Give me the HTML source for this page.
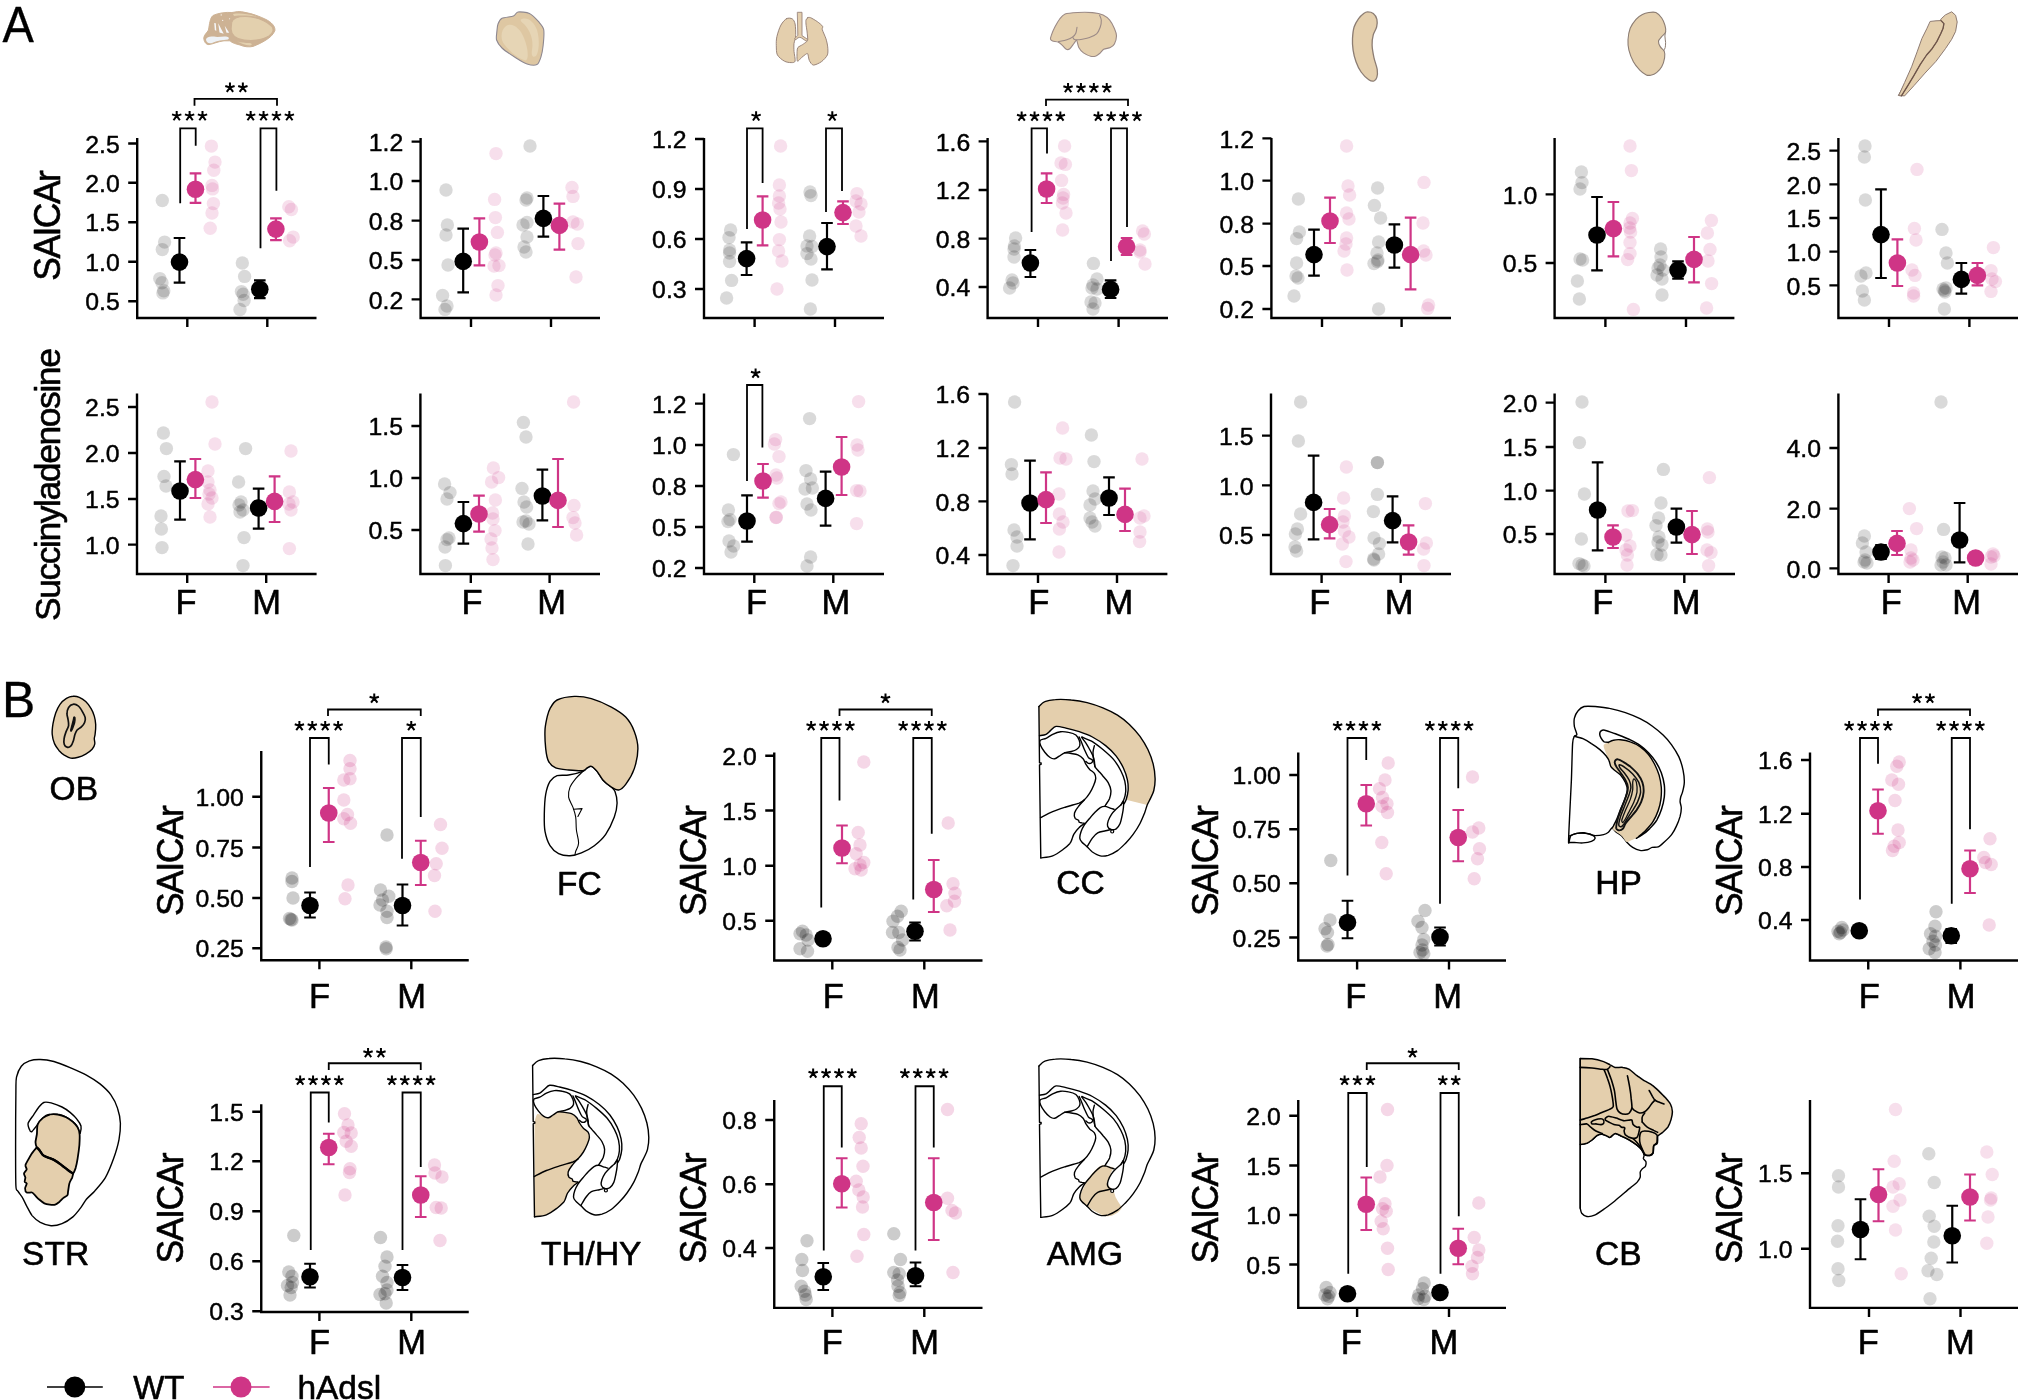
<!DOCTYPE html>
<html><head><meta charset="utf-8"><title>Figure</title>
<style>
html,body{margin:0;padding:0;background:#fff;}
body{width:2018px;height:1400px;overflow:hidden;}
text{stroke:#000;stroke-width:0.6px;stroke-linejoin:round;}text.t{stroke-width:0.45px;}svg{display:block;will-change:transform;font-family:"Liberation Sans",sans-serif;fill:#000;}
</style></head><body>
<svg width="2018" height="1400" viewBox="0 0 2018 1400">
<rect width="2018" height="1400" fill="#fff"/>
<path d="M231.5,12.5 C226,12 218,13 213,15.5 C210,18 209.5,24 208.5,30 C207,33 204,34.5 203.8,38 C203.8,41.5 206,44.8 209,44.6 C213,44 218,41.5 224,40.8 L230,40.8 C232,43 236,44 240,45 C244,47 250,47.2 253,46.4 C258,44.5 262,42.5 266,40 C270,37.5 273.5,34.5 274.9,30.5 C275.4,26 271,22 266,19.5 C260,16.5 252,13.6 246,12.6 C243,11.8 240,11.5 238,11.6 Z" fill="#CDB294" stroke="#CDB294" stroke-width="1" stroke-linejoin="round" stroke-linecap="round" />
<path d="M233,14 C240,12.8 248,13.8 258,17 C252,15.6 242,15 234,16 Z" fill="#E3D0AE" stroke="none" stroke-width="0" stroke-linejoin="round" stroke-linecap="round" />
<path d="M231.7,22.5 C232.5,18.5 238,16.3 246,16.5 C256,17 266,21 271.5,26 C274.3,29.5 273.3,33 269,36 C262,40 252,41 244,40 C236,39 231.3,35 231.1,29 Z" fill="#E3D0AE" stroke="#CDB294" stroke-width="1.1" stroke-linejoin="round" stroke-linecap="round" />
<path d="M237,41.6 C241,43.2 245,45.6 250,45.5 C252.4,45.2 252.3,43.3 249.5,43 C245,42.8 241,42.4 237,41.4 Z" fill="#E3D0AE" stroke="none" stroke-width="0" stroke-linejoin="round" stroke-linecap="round" />
<path d="M206,39.2 C207,36.8 210,36 214,36.6 C218,37.6 222,36.2 226,36.6 C229,37 229.6,38.6 228,39.6 C223,40 217,41 212,43 C209,44 206,42.6 206,39.2 Z" fill="#EEF2F6" stroke="none" stroke-width="0" stroke-linejoin="round" stroke-linecap="round" />
<path d="M214.2,23 L215.8,23.3 L216.3,31 L214.8,30 Z M218.2,23.3 L223.7,33.7 L219.5,32.5 Z M224.7,25.8 L229.2,32.7 L226.5,32.7 Z" fill="#F6F7F9" stroke="none" stroke-width="0" stroke-linejoin="round" stroke-linecap="round" />
<circle cx="221.2" cy="14.9" r="0.6" fill="#fff"/><circle cx="222.7" cy="20.3" r="0.6" fill="#fff"/><circle cx="229.6" cy="18.8" r="0.5" fill="#fff"/>
<path d="M518.0,12.0 C520.1,11.7 526.7,12.1 529.4,13.4 C532.1,14.7 536.7,19.5 538.6,21.7 C540.5,23.9 543.1,26.5 543.7,29.7 C544.3,32.9 543.5,42.0 543.1,45.7 C542.7,49.4 541.7,54.6 540.9,57.1 C540.1,59.6 538.7,63.7 536.9,64.6 C535.1,65.5 529.9,64.9 527.1,64.0 C524.3,63.1 519.0,59.8 515.7,57.7 C512.4,55.6 504.5,50.4 502.0,48.0 C499.5,45.6 497.3,42.2 496.6,40.0 C495.9,37.8 496.7,33.5 496.9,31.4 C497.1,29.3 497.3,25.7 498.0,24.0 C498.7,22.3 499.9,19.4 502.0,18.3 C504.1,17.2 511.3,16.8 513.4,16.0 C515.5,15.2 515.9,12.3 518.0,12.0Z" fill="#DEC7A2" stroke="#8E8890" stroke-width="1.1" stroke-linejoin="round" stroke-linecap="round" />
<path d="M506,26 C512,22 520,28 524,38 C528,48 529,58 526,60.4 C520,60 510,52 504,44 C500,38 501,30 506,26 Z" fill="#E6D5B5" stroke="none" stroke-width="0" stroke-linejoin="round" stroke-linecap="round" />
<path d="M522,19 C528,17 534,22 537,30 C540,40 539,52 536,56 C533,58 531,56 532,50 C534,40 530,30 524,24 C520,21 520,19.5 522,19 Z" fill="#E6D5B5" stroke="none" stroke-width="0" stroke-linejoin="round" stroke-linecap="round" />
<path d="M786.6,18.6 C788.3,17.7 791.0,18.1 792.3,18.9 C793.6,19.7 794.6,21.7 795.1,24.0 C795.6,26.3 795.7,32.0 795.7,34.3 C795.7,36.6 795.4,38.0 795.1,39.4 C794.8,40.8 794.2,41.6 794.0,43.4 C793.8,45.2 793.8,48.7 794.0,51.4 C794.2,54.1 795.5,59.4 795.1,61.1 C794.7,62.8 792.7,62.6 791.1,62.6 C789.5,62.6 786.4,62.3 784.3,61.1 C782.2,59.9 778.6,57.2 777.4,54.9 C776.2,52.6 776.4,48.4 776.3,45.7 C776.2,43.0 776.2,39.7 776.9,36.6 C777.6,33.5 779.4,27.8 780.9,25.1 C782.4,22.4 784.9,19.5 786.6,18.6Z" fill="#E4CFAD" stroke="#9A857A" stroke-width="1" stroke-linejoin="round" stroke-linecap="round" />
<path d="M807.7,17.7 C808.3,17.4 809.3,17.2 810.6,17.7 C811.9,18.2 815.8,20.6 817.4,21.7 C819.0,22.8 821.9,25.2 822.6,26.3 C823.3,27.4 821.8,28.0 822.3,29.7 C822.8,31.4 825.3,36.6 826.0,38.9 C826.7,41.2 827.5,44.8 827.7,46.9 C827.9,49.0 828.2,52.9 827.4,54.9 C826.6,56.9 823.3,60.3 821.4,61.7 C819.5,63.1 815.0,65.2 813.4,65.1 C811.8,65.0 810.2,62.1 809.4,60.6 C808.6,59.1 808.3,54.5 807.7,53.7 C807.1,52.9 805.7,54.4 804.9,54.9 C804.1,55.4 802.4,56.9 801.4,57.7 C800.4,58.5 798.0,61.9 797.4,61.1 C796.8,60.3 797.0,53.2 797.1,51.4 C797.2,49.6 797.3,48.3 798.0,47.4 C798.7,46.5 801.5,45.4 802.6,44.6 C803.7,43.8 805.9,42.4 806.6,41.7 C807.3,41.0 807.6,40.7 807.7,39.4 C807.8,38.1 807.3,34.1 807.1,32.0 C806.9,29.9 806.1,25.6 806.0,24.0 C805.9,22.4 805.8,20.8 806.0,20.0 C806.2,19.2 807.1,18.0 807.7,17.7Z" fill="#E4CFAD" stroke="#9A857A" stroke-width="1" stroke-linejoin="round" stroke-linecap="round" />
<path d="M797.7,12.3 L802,12.3 L802,35.6 L807.6,39.4 L806.6,41.4 L801,37.6 C799,37 797,38 795.6,40 L794.8,38.4 C796,37 797.5,36 797.7,35.5 Z" fill="#E4CFAD" stroke="#9A857A" stroke-width="0.9" stroke-linejoin="round" stroke-linecap="round" />
<path d="M1065.1,14.0 C1067.5,13.1 1074.0,12.7 1077.6,12.5 C1081.2,12.3 1089.0,12.3 1092.4,12.6 C1095.8,12.9 1100.8,13.9 1103.1,14.9 C1105.4,15.9 1108.2,18.4 1109.7,20.2 C1111.2,22.0 1113.5,26.4 1114.4,28.5 C1115.3,30.6 1116.5,33.6 1116.5,35.7 C1116.5,37.8 1115.2,42.4 1114.4,44.0 C1113.6,45.6 1111.7,46.9 1110.3,47.6 C1108.9,48.3 1105.1,48.5 1103.7,49.3 C1102.3,50.1 1100.6,52.6 1099.6,53.5 C1098.6,54.4 1097.2,55.5 1096.0,55.9 C1094.8,56.3 1092.3,56.6 1090.6,56.2 C1088.9,55.8 1085.1,54.0 1083.5,52.9 C1081.9,51.8 1079.7,49.3 1078.8,47.6 C1077.9,45.9 1077.3,41.0 1076.7,40.4 C1076.1,39.8 1074.9,42.3 1074.0,43.4 C1073.1,44.5 1070.8,48.0 1069.8,48.8 C1068.8,49.6 1067.3,49.8 1066.3,49.3 C1065.3,48.8 1063.1,46.1 1062.1,45.2 C1061.1,44.3 1059.8,42.8 1058.5,42.2 C1057.2,41.6 1053.7,41.4 1052.6,41.0 C1051.5,40.6 1050.7,40.0 1050.5,39.2 C1050.3,38.4 1050.8,36.8 1051.4,35.1 C1052.0,33.4 1053.9,28.9 1055.0,26.8 C1056.1,24.7 1058.4,20.7 1059.7,19.0 C1061.0,17.3 1062.7,14.9 1065.1,14.0Z" fill="#E4CFAD" stroke="#9B8A86" stroke-width="1.1" stroke-linejoin="round" stroke-linecap="round" />
<path d="M1099.6,15.2 C1099.9,16.0 1101.2,18.2 1101.3,20.2 C1101.4,22.2 1101.0,25.0 1100.2,27.3 C1099.4,29.6 1098.4,32.2 1096.6,33.9 C1094.8,35.6 1091.9,36.6 1089.5,37.5 C1087.1,38.4 1084.4,38.8 1082.3,39.2 C1080.2,39.6 1078.4,39.8 1077.0,39.8 C1075.6,39.8 1074.7,39.6 1074.0,39.2 C1073.3,38.8 1073.0,37.5 1072.8,37.2" fill="none" stroke="#9B8A86" stroke-width="1.1" stroke-linejoin="round" stroke-linecap="round" />
<path d="M1058.5,41.6 C1059.9,41.3 1064.5,40.6 1066.9,39.8 C1069.3,39.0 1071.3,38.0 1072.8,36.9 C1074.3,35.8 1075.1,34.9 1075.8,33.3 C1076.5,31.7 1076.8,28.3 1077.0,27.3" fill="none" stroke="#9B8A86" stroke-width="1.1" stroke-linejoin="round" stroke-linecap="round" />
<path d="M1367.6,11.9 C1369.0,11.9 1371.9,12.4 1373.3,13.5 C1374.7,14.6 1376.4,17.3 1376.9,19.3 C1377.4,21.3 1377.1,24.7 1376.6,27.0 C1376.1,29.3 1374.0,32.0 1373.3,34.7 C1372.6,37.4 1372.0,41.5 1372.1,45.0 C1372.2,48.5 1373.2,54.1 1374.0,57.8 C1374.8,61.5 1376.8,66.5 1377.2,69.4 C1377.6,72.3 1377.4,75.4 1376.9,77.1 C1376.4,78.8 1375.2,80.6 1374.0,81.0 C1372.8,81.4 1370.7,81.0 1368.8,79.7 C1366.9,78.4 1363.0,74.7 1361.1,72.0 C1359.2,69.3 1357.2,65.0 1356.0,61.7 C1354.8,58.4 1353.6,53.6 1353.1,50.1 C1352.6,46.6 1352.3,42.1 1352.5,38.6 C1352.7,35.1 1353.2,30.0 1354.1,27.0 C1355.0,24.0 1357.2,20.6 1358.6,18.6 C1360.0,16.6 1362.4,14.5 1363.7,13.5 C1365.0,12.5 1366.2,11.9 1367.6,11.9Z" fill="#E4CFAD" stroke="#8C7D73" stroke-width="1.3" stroke-linejoin="round" stroke-linecap="round" />
<path d="M1655.9,12.5 C1657.8,13.3 1660.4,16.1 1661.7,18.0 C1663.0,19.9 1664.3,23.0 1664.9,25.1 C1665.5,27.2 1666.1,30.4 1665.6,32.1 C1665.1,33.8 1662.8,35.2 1661.7,36.6 C1660.6,38.0 1658.7,39.6 1658.5,41.1 C1658.3,42.6 1659.5,45.4 1660.4,46.9 C1661.3,48.4 1663.7,49.8 1664.3,51.4 C1664.9,53.0 1665.0,55.5 1664.6,57.8 C1664.2,60.1 1662.9,64.6 1661.7,66.8 C1660.5,69.0 1658.2,71.3 1656.6,72.6 C1655.0,73.9 1652.3,74.9 1650.8,75.2 C1649.3,75.5 1648.0,75.7 1646.3,74.9 C1644.6,74.1 1641.7,72.1 1639.8,70.1 C1637.9,68.1 1635.0,64.7 1633.4,61.7 C1631.8,58.7 1629.7,53.4 1628.9,50.1 C1628.1,46.8 1627.8,43.1 1628.0,39.8 C1628.2,36.5 1629.0,31.4 1630.2,28.3 C1631.4,25.2 1634.2,21.4 1636.0,19.3 C1637.8,17.2 1640.5,15.5 1642.4,14.5 C1644.3,13.5 1646.8,12.8 1648.8,12.5 C1650.8,12.2 1654.0,11.7 1655.9,12.5Z" fill="#E4CFAD" stroke="#8C7D73" stroke-width="1.1" stroke-linejoin="round" stroke-linecap="round" />
<path d="M1665.6,32.1 C1665.5,32.8 1664.9,34.3 1664.9,36.0 C1664.9,37.7 1665.5,40.5 1665.6,42.4 C1665.6,44.3 1665.5,46.2 1665.2,47.6 C1664.9,49.0 1663.9,50.3 1663.6,50.8" fill="none" stroke="#8C7D73" stroke-width="1" stroke-linejoin="round" stroke-linecap="round" />
<path d="M1941.5,18.5 L1945.4,14.9 L1951.7,11.8 L1955.6,15.3 L1957.2,22.0 L1955.6,31.4 L1951.7,39.3 L1945.4,48.7 L1936.0,61.3 L1925.0,73.1 L1914.0,85.6 L1904.6,95.9 L1898.7,95.5Z" fill="#E4CFAD" stroke="#8E7B72" stroke-width="1" stroke-linejoin="round" stroke-linecap="round" />
<path d="M1930.5,21.4 L1936.0,20.8 L1941.1,20.6 L1943.9,23.6 L1943.1,28.3 L1940.7,33.8 L1936.8,41.6 L1932.1,48.7 L1926.6,55.0 L1920.3,64.4 L1914.0,75.4 L1906.9,87.2 L1901.4,95.9 L1898.7,95.5 L1904.6,82.5 L1911.6,66.8 L1917.1,51.9 L1921.9,38.5 L1926.6,29.1Z" fill="#E4CFAD" stroke="#8E7B72" stroke-width="1" stroke-linejoin="round" stroke-linecap="round" />
<path d="M1941.1,20.6 L1943.9,23.6 L1943.1,28.3 L1940.7,33.8 L1936.8,41.6 L1932.1,48.7 L1926.6,55.0 L1920.3,64.4 L1914.0,75.4 L1906.9,87.2 L1901.4,95.9" fill="none" stroke="#6E5448" stroke-width="1.3" stroke-linejoin="round" stroke-linecap="round" />
<path d="M52.2,734.3 C51.9,731.2 52.5,726.8 53.0,723.6 C53.6,720.4 54.7,715.8 55.7,712.9 C56.8,710.0 58.4,706.5 60.0,704.3 C61.6,702.1 64.5,699.6 66.4,698.4 C68.4,697.2 70.9,696.4 72.9,696.3 C74.8,696.1 77.4,696.5 79.3,697.3 C81.2,698.1 83.9,699.9 85.7,701.6 C87.5,703.3 89.8,706.4 91.1,708.6 C92.4,710.7 93.6,713.7 94.3,716.1 C95.0,718.5 95.6,721.9 95.7,724.6 C95.8,727.4 95.4,732.2 95.1,734.3 C94.9,736.4 94.3,737.1 94.3,738.6 C94.2,740.0 95.1,742.3 94.8,743.9 C94.5,745.5 93.5,747.8 92.1,749.3 C90.8,750.8 87.8,752.9 85.7,754.1 C83.6,755.3 80.5,756.7 78.2,757.3 C76.0,757.9 72.8,758.4 70.7,758.1 C68.6,757.8 66.1,756.3 64.3,755.2 C62.5,754.0 60.4,752.0 58.9,750.4 C57.5,748.7 55.7,746.3 54.6,743.9 C53.6,741.5 52.4,737.3 52.2,734.3Z" fill="#E4CFAD" stroke="#000" stroke-width="1.4" stroke-linejoin="round" stroke-linecap="round" />
<path d="M67.0,713.9 C67.0,712.2 67.7,708.9 68.6,707.5 C69.5,706.1 71.4,704.5 72.9,704.3 C74.3,704.0 76.8,704.8 78.2,705.9 C79.7,707.0 81.5,710.0 82.5,711.8 C83.5,713.6 84.9,716.1 85.2,717.7 C85.5,719.3 85.2,721.1 84.6,722.5 C84.1,723.9 82.6,725.7 81.4,726.8 C80.3,727.9 78.1,728.9 77.1,730.0 C76.2,731.1 75.6,732.7 75.0,734.3 C74.4,735.9 74.0,738.9 73.4,740.7 C72.8,742.5 71.7,745.1 70.7,746.1 C69.8,747.0 67.9,747.4 67.0,747.1 C66.0,746.9 64.7,745.8 64.3,744.5 C63.9,743.2 63.8,740.4 64.1,738.6 C64.3,736.7 65.2,734.1 65.9,732.1 C66.6,730.2 68.3,727.6 68.6,725.7 C68.9,723.8 68.3,721.1 68.0,719.3 C67.8,717.5 66.9,715.7 67.0,713.9Z" fill="none" stroke="#111" stroke-width="1.7" stroke-linejoin="round" stroke-linecap="round" />
<path d="M73.9,717.1 C74.1,716.9 74.9,717.0 75.0,717.7 C75.1,718.4 75.0,721.1 74.7,722.5 C74.4,723.9 73.3,726.7 72.9,727.9 C72.4,729.0 71.5,730.8 71.3,731.1 C71.0,731.4 70.6,731.0 70.7,730.0 C70.9,729.0 72.0,725.0 72.3,723.6 C72.7,722.1 73.2,720.1 73.4,719.3 C73.6,718.4 73.7,717.4 73.9,717.1Z" fill="#111" stroke="#111" stroke-width="1.3" stroke-linejoin="round" stroke-linecap="round" />
<path d="M582.9,771.4 C580.1,772.5 572.5,774.4 568.6,775.0 C564.7,775.6 559.9,774.7 557.1,775.7 C554.3,776.7 551.7,778.6 550.0,781.4 C548.3,784.2 546.6,789.4 545.7,794.3 C544.8,799.2 544.4,808.7 544.3,814.3 C544.2,819.9 544.1,826.7 545.0,831.4 C545.9,836.1 548.0,842.4 550.0,845.7 C552.0,849.0 555.6,852.1 558.6,853.6 C561.6,855.1 566.6,855.8 570.0,855.7 C573.4,855.6 577.8,854.4 581.4,852.9 C585.0,851.4 590.7,848.5 594.3,845.7 C597.9,842.9 602.7,838.6 605.7,834.3 C608.7,830.0 612.6,821.8 614.3,817.1 C616.0,812.4 617.0,806.8 617.1,802.9 C617.2,799.0 615.9,793.8 615.0,791.4 C614.1,789.0 613.2,788.8 611.4,787.1 C609.6,785.4 605.0,782.4 602.9,780.0 C600.8,777.6 598.8,773.4 597.1,771.4 C595.4,769.4 592.9,766.9 591.4,766.4 C589.9,765.9 588.4,767.1 587.1,767.9 C585.8,768.6 585.7,770.3 582.9,771.4Z" fill="#fff" stroke="#000" stroke-width="1.4" stroke-linejoin="round" stroke-linecap="round" />
<path d="M550.0,708.6 C551.5,706.0 553.5,701.8 557.1,700.0 C560.7,698.2 569.2,696.6 574.3,696.4 C579.4,696.2 585.8,697.0 591.4,698.6 C597.0,700.2 606.3,704.3 611.4,707.1 C616.5,709.9 622.3,713.5 625.7,717.1 C629.1,720.7 632.5,726.7 634.3,731.4 C636.1,736.1 637.9,743.0 637.9,748.6 C637.9,754.2 636.1,763.2 634.3,768.6 C632.5,774.0 628.1,781.1 625.7,784.3 C623.3,787.5 620.7,789.6 618.6,790.0 C616.5,790.4 613.8,788.6 611.4,787.1 C609.0,785.6 605.0,782.4 602.9,780.0 C600.8,777.6 598.8,773.4 597.1,771.4 C595.4,769.4 592.9,766.9 591.4,766.4 C589.9,765.9 588.4,767.3 587.1,767.9 C585.8,768.5 585.7,770.4 582.9,770.7 C580.1,771.0 572.7,770.4 568.6,770.0 C564.5,769.6 558.7,769.2 555.7,767.9 C552.7,766.6 550.1,764.3 548.6,761.4 C547.1,758.5 546.2,753.3 545.7,748.6 C545.2,743.9 544.8,734.7 545.0,730.0 C545.2,725.3 546.4,720.3 547.1,717.1 C547.9,713.9 548.5,711.2 550.0,708.6Z" fill="#E4CFAD" stroke="#000" stroke-width="1.4" stroke-linejoin="round" stroke-linecap="round" />
<path d="M582.9,771.4 C581.7,772.6 577.9,776.0 575.7,778.6 C573.6,781.2 571.2,784.0 570.0,787.1 C568.8,790.2 568.1,793.8 568.6,797.1 C569.1,800.4 571.7,803.8 572.9,807.1 C574.1,810.4 575.1,813.3 575.7,817.1 C576.3,820.9 575.9,825.7 576.4,830.0 C576.9,834.3 578.7,839.3 578.6,842.9 C578.5,846.5 576.3,849.4 575.7,851.4 C575.1,853.4 575.1,854.4 575.0,855.0" fill="none" stroke="#000" stroke-width="1.1" stroke-linejoin="round" stroke-linecap="round" />
<path d="M573.6,809.3 L582.1,808.6 L577.9,816.4" fill="none" stroke="#000" stroke-width="1.1" stroke-linejoin="round" stroke-linecap="round" />
<path d="M1038.9,706.6 L1044.8,701.7 L1055.4,699.6 L1071.2,700.0 L1087.1,702.6 L1102.9,707.9 L1117.5,715.2 L1129.4,724.4 L1140.0,736.3 L1147.9,749.5 L1153.2,764.1 L1155.1,778.6 L1153.8,790.5 L1150.5,798.4 L1147.2,805.0 L1144.6,813.0 L1140.0,823.5 L1133.3,834.1 L1125.4,843.4 L1117.5,850.6 L1108.2,855.3 L1100.3,855.9 L1092.4,852.0 L1087.1,846.7 L1084.4,823.5 L1079.2,827.5 L1073.9,834.1 L1071.9,839.4 L1069.9,843.4 L1063.3,849.3 L1052.7,855.9 L1040.8,857.9 L1040.8,857.9 L1040.2,818.3 L1039.5,764.9 L1041.1,764.3 L1041.1,763.0 L1039.5,762.7Z" fill="#fff" stroke="none" stroke-width="0" stroke-linejoin="round" stroke-linecap="round" />
<path d="M1038.9,706.6 C1039.7,705.9 1042.3,702.7 1044.8,701.7 C1047.3,700.6 1051.4,699.8 1055.4,699.6 C1059.3,699.3 1066.5,699.5 1071.2,700.0 C1076.0,700.4 1082.3,701.4 1087.1,702.6 C1091.8,703.8 1098.4,706.0 1102.9,707.9 C1107.5,709.8 1113.5,712.7 1117.5,715.2 C1121.4,717.7 1126.0,721.3 1129.4,724.4 C1132.7,727.6 1137.2,732.6 1140.0,736.3 C1142.7,740.1 1145.9,745.4 1147.9,749.5 C1149.9,753.7 1152.1,759.7 1153.2,764.1 C1154.3,768.4 1155.0,774.6 1155.1,778.6 C1155.2,782.6 1154.5,787.5 1153.8,790.5 C1153.1,793.5 1151.5,796.2 1150.5,798.4 C1149.5,800.6 1147.7,804.0 1147.2,805.0 L1126.1,799.8 C1126.4,798.4 1127.9,793.5 1128.1,790.5 C1128.3,787.5 1128.1,783.3 1127.4,779.9 C1126.7,776.6 1125.1,771.6 1123.4,768.0 C1121.7,764.5 1118.8,759.5 1116.2,756.1 C1113.5,752.8 1109.2,748.4 1105.6,745.6 C1102.0,742.7 1096.3,739.1 1092.4,737.0 C1088.4,734.9 1083.1,733.0 1079.2,731.7 C1075.2,730.4 1069.4,728.9 1065.9,728.1 C1062.5,727.3 1058.3,726.1 1056.0,726.4 C1053.8,726.7 1052.2,729.2 1050.7,730.4 C1049.3,731.6 1047.8,733.5 1046.1,734.3 C1044.4,735.1 1040.5,735.5 1039.5,735.7 Z" fill="#E4CFAD" stroke="none" stroke-width="0" stroke-linejoin="round" stroke-linecap="round" />
<path d="M1038.9,706.6 C1039.7,705.9 1042.3,702.7 1044.8,701.7 C1047.3,700.6 1051.4,699.8 1055.4,699.6 C1059.3,699.3 1066.5,699.5 1071.2,700.0 C1076.0,700.4 1082.3,701.4 1087.1,702.6 C1091.8,703.8 1098.4,706.0 1102.9,707.9 C1107.5,709.8 1113.5,712.7 1117.5,715.2 C1121.4,717.7 1126.0,721.3 1129.4,724.4 C1132.7,727.6 1137.2,732.6 1140.0,736.3 C1142.7,740.1 1145.9,745.4 1147.9,749.5 C1149.9,753.7 1152.1,759.7 1153.2,764.1 C1154.3,768.4 1155.0,774.6 1155.1,778.6 C1155.2,782.6 1154.5,787.5 1153.8,790.5 C1153.1,793.5 1151.5,796.2 1150.5,798.4 C1149.5,800.6 1148.1,802.9 1147.2,805.0 C1146.3,807.2 1145.7,810.2 1144.6,813.0 C1143.5,815.7 1141.6,820.4 1140.0,823.5 C1138.3,826.7 1135.5,831.1 1133.3,834.1 C1131.2,837.1 1127.8,840.9 1125.4,843.4 C1123.0,845.8 1120.1,848.8 1117.5,850.6 C1114.9,852.4 1110.8,854.5 1108.2,855.3 C1105.7,856.0 1102.7,856.4 1100.3,855.9 C1097.9,855.4 1094.4,853.3 1092.4,852.0 C1090.4,850.6 1088.7,848.2 1087.1,846.7 C1085.5,845.2 1082.9,843.3 1081.8,842.0 C1080.7,840.8 1079.9,839.7 1079.8,838.1 C1079.7,836.5 1080.4,833.5 1081.1,831.5 C1081.8,829.5 1083.2,826.8 1084.4,824.9 C1085.7,822.9 1088.1,820.1 1089.7,818.3 C1091.3,816.4 1093.4,813.9 1095.0,812.3 C1096.6,810.7 1098.8,808.6 1100.3,807.7 C1101.8,806.8 1103.3,806.3 1104.9,806.4 C1106.5,806.5 1109.5,807.9 1110.9,808.3 C1112.3,808.8 1113.7,809.1 1114.2,809.3" fill="none" stroke="#000" stroke-width="1.4" stroke-linejoin="round" stroke-linecap="round" />
<path d="M1038.9,706.6 L1039.5,762.7 L1041.1,763.0 L1041.1,764.3 L1039.5,764.9 L1040.2,818.3 L1040.8,857.9" fill="none" stroke="#000" stroke-width="1.4" stroke-linejoin="round" stroke-linecap="round" />
<path d="M1040.8,857.9 C1042.6,857.6 1049.4,857.2 1052.7,855.9 C1056.1,854.6 1060.7,851.2 1063.3,849.3 C1065.9,847.4 1068.6,844.8 1069.9,843.4 C1071.2,841.9 1071.3,840.8 1071.9,839.4 C1072.5,838.0 1072.8,835.9 1073.9,834.1 C1075.0,832.3 1077.6,829.1 1079.2,827.5 C1080.7,825.9 1083.7,824.1 1084.4,823.5" fill="none" stroke="#000" stroke-width="1.4" stroke-linejoin="round" stroke-linecap="round" />
<path d="M1039.5,735.7 C1040.5,735.5 1044.4,735.1 1046.1,734.3 C1047.8,733.5 1049.3,731.6 1050.7,730.4 C1052.2,729.2 1053.8,726.7 1056.0,726.4 C1058.3,726.1 1062.5,727.3 1065.9,728.1 C1069.4,728.9 1075.2,730.4 1079.2,731.7 C1083.1,733.0 1088.4,734.9 1092.4,737.0 C1096.3,739.1 1102.0,742.7 1105.6,745.6 C1109.2,748.4 1113.5,752.8 1116.2,756.1 C1118.8,759.5 1121.7,764.5 1123.4,768.0 C1125.1,771.6 1126.7,776.6 1127.4,779.9 C1128.1,783.3 1128.3,787.5 1128.1,790.5 C1127.9,793.5 1126.7,797.8 1126.1,799.8 C1125.5,801.7 1124.4,803.1 1124.1,803.7" fill="none" stroke="#000" stroke-width="1.4" stroke-linejoin="round" stroke-linecap="round" />
<path d="M1081.8,737.0 C1083.4,737.7 1089.2,739.7 1092.4,741.6 C1095.5,743.5 1099.8,746.9 1102.9,749.5 C1106.1,752.2 1110.8,756.3 1113.5,759.4 C1116.2,762.6 1119.1,767.4 1120.8,770.7 C1122.5,773.9 1124.0,778.1 1124.8,781.2 C1125.5,784.4 1125.9,788.8 1125.7,791.8 C1125.5,794.8 1124.2,799.1 1123.4,801.1 C1122.7,803.1 1121.2,804.4 1120.8,805.0" fill="none" stroke="#000" stroke-width="1.4" stroke-linejoin="round" stroke-linecap="round" />
<path d="M1040.2,740.3 C1041.0,739.2 1044.2,739.2 1046.1,738.3 C1048.0,737.4 1050.6,735.3 1052.7,734.3 C1054.9,733.3 1058.3,732.0 1060.7,731.7 C1063.0,731.4 1066.3,731.9 1068.6,732.4 C1070.9,732.8 1074.3,733.8 1075.9,735.0 C1077.4,736.2 1078.6,738.7 1079.2,740.3 C1079.8,741.9 1080.2,744.2 1079.8,745.6 C1079.4,747.0 1077.8,748.6 1076.5,749.5 C1075.2,750.4 1073.0,751.0 1071.2,751.5 C1069.4,752.0 1066.4,752.1 1064.6,752.8 C1062.8,753.5 1060.8,755.2 1059.3,756.1 C1057.9,757.0 1056.1,758.6 1054.7,758.8 C1053.3,759.0 1051.6,758.5 1050.1,757.5 C1048.6,756.5 1046.2,754.0 1044.8,752.2 C1043.4,750.4 1041.3,747.4 1040.6,745.6 C1039.9,743.8 1039.3,741.4 1040.2,740.3Z" fill="none" stroke="#000" stroke-width="1.4" stroke-linejoin="round" stroke-linecap="round" />
<path d="M1064.6,752.8 C1065.6,752.9 1069.2,753.2 1071.2,753.5 C1073.2,753.8 1076.1,754.0 1077.8,754.8 C1079.6,755.6 1081.9,757.4 1083.1,758.8 C1084.3,760.2 1084.8,762.5 1085.8,764.1 C1086.8,765.7 1088.4,768.0 1089.7,769.4 C1091.0,770.7 1093.5,771.9 1094.4,773.3 C1095.3,774.7 1095.8,776.8 1095.7,778.6 C1095.6,780.4 1094.6,783.0 1093.7,785.2 C1092.8,787.4 1091.1,791.0 1089.7,793.1 C1088.3,795.3 1086.0,798.3 1084.4,799.8 C1082.9,801.2 1081.9,802.0 1079.2,803.1 C1076.4,804.1 1069.9,805.7 1065.9,807.0 C1062.0,808.3 1056.5,810.1 1052.7,811.6 C1048.9,813.2 1042.4,816.7 1040.6,817.6" fill="none" stroke="#000" stroke-width="1.4" stroke-linejoin="round" stroke-linecap="round" />
<path d="M1079.2,737.0 C1079.6,737.9 1081.0,741.0 1081.8,742.9 C1082.6,744.8 1083.5,747.4 1084.4,749.5 C1085.4,751.7 1087.2,755.9 1088.4,757.5 C1089.6,759.0 1091.9,759.3 1092.4,760.1 C1092.9,760.9 1092.3,762.3 1091.7,762.7 C1091.1,763.2 1089.3,763.6 1088.4,763.4 C1087.5,763.2 1086.2,761.7 1085.8,761.4" fill="none" stroke="#000" stroke-width="1.4" stroke-linejoin="round" stroke-linecap="round" />
<path d="M1081.8,737.6 C1082.4,738.4 1084.6,741.1 1085.8,742.9 C1087.0,744.7 1088.6,747.6 1089.7,749.5 C1090.8,751.5 1092.3,754.4 1093.0,756.1 C1093.7,757.9 1094.1,759.8 1094.4,761.4 C1094.7,763.0 1094.4,765.3 1095.0,766.7 C1095.6,768.1 1097.1,769.3 1098.3,770.7 C1099.5,772.1 1101.5,774.2 1102.9,776.0 C1104.4,777.7 1107.0,780.4 1108.2,782.6 C1109.4,784.8 1110.7,788.1 1110.9,790.5 C1111.1,792.9 1110.3,796.2 1109.6,798.4 C1108.8,800.6 1106.3,803.8 1105.6,805.0 C1104.9,806.2 1105.0,806.2 1104.9,806.4" fill="none" stroke="#000" stroke-width="1.4" stroke-linejoin="round" stroke-linecap="round" />
<path d="M1094.4,745.6 C1094.2,746.6 1093.1,750.0 1093.0,752.2 C1092.9,754.4 1093.4,757.9 1093.7,760.1 C1094.0,762.3 1094.8,765.7 1095.0,766.7" fill="none" stroke="#000" stroke-width="1.4" stroke-linejoin="round" stroke-linecap="round" />
<path d="M1084.4,799.8 C1083.6,800.7 1080.0,804.4 1078.5,806.4 C1077.0,808.3 1075.0,811.2 1074.5,813.0 C1074.0,814.8 1074.6,817.2 1075.2,818.3 C1075.8,819.3 1077.9,819.6 1078.5,820.2 C1079.1,820.8 1078.7,821.8 1079.2,822.2 C1079.7,822.6 1081.0,822.7 1081.8,822.9 C1082.6,823.0 1084.1,823.2 1084.4,823.3" fill="none" stroke="#000" stroke-width="1.4" stroke-linejoin="round" stroke-linecap="round" />
<path d="M1087.1,846.7 C1087.9,845.4 1090.8,840.2 1092.4,838.1 C1094.0,836.0 1095.7,833.9 1097.7,832.8 C1099.6,831.7 1103.6,831.3 1105.6,830.8 C1107.6,830.3 1110.1,829.7 1110.9,829.5" fill="none" stroke="#000" stroke-width="1.4" stroke-linejoin="round" stroke-linecap="round" />
<path d="M1123.4,801.1 C1123.0,800.7 1121.9,803.8 1120.8,805.0 C1119.7,806.2 1117.6,807.6 1116.2,809.0 C1114.8,810.4 1112.7,812.5 1111.5,814.3 C1110.3,816.1 1108.8,819.1 1108.2,820.9 C1107.6,822.7 1107.2,824.9 1107.6,826.2 C1108.0,827.5 1109.6,829.1 1110.9,829.5 C1112.2,829.9 1114.8,829.7 1116.2,828.8 C1117.6,827.9 1119.2,825.5 1120.1,823.5 C1121.0,821.6 1121.6,818.0 1122.1,815.6 C1122.6,813.2 1123.2,809.9 1123.4,807.7 C1123.6,805.5 1123.8,801.5 1123.4,801.1Z" fill="none" stroke="#000" stroke-width="1.4" stroke-linejoin="round" stroke-linecap="round" />
<circle cx="1112.2" cy="831.5" r="1.5" fill="#fff" stroke="#000" stroke-width="1.2"/>
<path d="M1574.4,736.3 C1575.0,735.1 1576.9,735.8 1576.9,734.5 C1576.9,733.2 1574.8,728.8 1574.4,726.6 C1574.1,724.4 1573.9,720.2 1574.4,718.1 C1574.9,716.0 1576.8,712.3 1578.1,710.8 C1579.4,709.2 1581.9,707.1 1584.1,706.5 C1586.4,706.0 1591.7,706.3 1595.1,706.5 C1598.5,706.8 1605.6,707.5 1609.6,708.4 C1613.7,709.2 1621.4,711.2 1625.4,712.6 C1629.5,714.0 1636.4,716.9 1640.0,718.7 C1643.6,720.5 1649.1,723.8 1652.1,726.0 C1655.2,728.2 1660.5,732.6 1663.1,735.1 C1665.7,737.6 1669.5,741.9 1671.6,744.8 C1673.7,747.7 1677.3,753.5 1678.9,756.9 C1680.4,760.3 1682.4,766.9 1683.1,770.3 C1683.8,773.7 1684.4,779.5 1684.3,782.4 C1684.2,785.3 1683.0,790.2 1682.5,792.1 C1682.0,794.1 1681.0,795.7 1680.7,797.0 C1680.4,798.3 1680.0,800.4 1680.1,801.9 C1680.2,803.3 1681.3,806.0 1681.3,807.9 C1681.3,809.9 1680.7,814.0 1680.1,816.4 C1679.4,818.9 1677.6,823.7 1676.4,826.1 C1675.3,828.6 1673.2,832.5 1671.6,834.6 C1670.0,836.8 1666.1,840.3 1664.3,841.9 C1662.5,843.6 1659.8,846.1 1658.2,846.8 C1656.6,847.5 1653.6,847.0 1652.1,847.4 C1650.7,847.8 1648.9,849.4 1647.3,849.8 C1645.7,850.2 1641.9,850.8 1640.0,850.4 C1638.1,850.1 1634.5,848.5 1632.7,847.4 C1630.9,846.3 1628.1,843.5 1626.6,841.9 C1625.2,840.4 1623.2,837.2 1621.8,835.9 C1620.3,834.5 1617.0,832.7 1615.7,831.6 C1614.4,830.6 1613.0,827.9 1612.1,828.0 C1611.1,828.0 1609.6,831.3 1608.4,832.2 C1607.3,833.1 1605.4,834.2 1603.6,834.6 C1601.8,835.1 1596.7,835.6 1595.1,835.6 C1593.5,835.6 1592.9,835.0 1591.4,834.6 C1590.0,834.3 1586.1,833.0 1584.1,832.8 C1582.2,832.7 1578.6,833.0 1576.9,833.4 C1575.1,833.8 1571.9,834.6 1570.8,835.9 C1569.7,837.1 1568.8,845.1 1568.6,842.5 C1568.4,840.0 1569.2,824.8 1569.6,816.4 C1569.9,808.1 1571.0,789.7 1571.4,780.0 C1571.8,770.3 1572.2,749.4 1572.6,743.6 C1573.0,737.7 1573.9,737.5 1574.4,736.3Z" fill="#fff" stroke="#000" stroke-width="1.4" stroke-linejoin="round" stroke-linecap="round" />
<path d="M1603.6,746.0 C1603.7,748.4 1608.1,757.8 1609.0,760.6 C1610.0,763.3 1610.1,765.4 1610.9,766.6 C1611.6,767.9 1613.2,769.2 1614.5,770.3 C1615.8,771.4 1619.1,773.5 1620.6,775.1 C1622.0,776.8 1624.5,780.5 1625.4,782.4 C1626.3,784.4 1627.3,787.5 1627.3,789.7 C1627.2,792.0 1625.7,796.8 1624.8,799.4 C1623.9,802.0 1621.6,806.6 1620.6,809.1 C1619.5,811.7 1617.9,816.6 1616.9,818.9 C1616.0,821.1 1613.9,824.9 1613.3,826.1 C1612.6,827.4 1611.7,827.8 1612.1,828.6 C1612.4,829.3 1614.4,830.6 1615.7,831.6 C1617.0,832.6 1620.3,834.5 1621.8,835.9 C1623.2,837.2 1625.5,841.3 1626.6,841.9 C1627.8,842.6 1629.1,841.2 1630.3,840.7 C1631.5,840.2 1633.8,839.4 1635.8,838.3 C1637.7,837.2 1642.5,834.3 1644.9,832.2 C1647.2,830.1 1651.5,825.3 1653.4,822.5 C1655.2,819.8 1657.8,814.7 1658.8,811.6 C1659.9,808.5 1661.0,802.7 1661.4,799.4 C1661.7,796.2 1661.9,790.5 1661.6,787.3 C1661.4,784.1 1660.3,778.2 1659.4,775.1 C1658.5,772.1 1656.4,767.0 1654.9,764.2 C1653.5,761.5 1650.7,756.8 1648.7,754.5 C1646.8,752.2 1642.5,748.3 1640.0,746.6 C1637.5,744.9 1632.9,742.7 1630.3,741.8 C1627.7,740.8 1622.8,739.9 1620.6,739.7 C1618.3,739.5 1614.9,739.8 1613.3,740.2 C1611.7,740.6 1609.7,741.8 1608.4,742.6 C1607.1,743.4 1603.5,743.6 1603.6,746.0Z" fill="#E4CFAD" stroke="none" stroke-width="0" stroke-linejoin="round" stroke-linecap="round" />
<path d="M1574.4,736.3 C1575.6,736.6 1580.7,737.7 1582.9,738.7 C1585.2,739.7 1589.2,742.1 1591.4,743.6 C1593.7,745.0 1598.0,748.0 1599.9,749.6 C1601.9,751.3 1604.8,754.3 1606.0,755.7 C1607.2,757.2 1608.4,759.1 1609.0,760.6 C1609.7,762.0 1610.1,765.4 1610.9,766.6 C1611.6,767.9 1613.2,769.2 1614.5,770.3 C1615.8,771.4 1619.1,773.5 1620.6,775.1 C1622.0,776.8 1624.5,780.5 1625.4,782.4 C1626.3,784.4 1627.3,787.5 1627.3,789.7 C1627.2,792.0 1625.7,796.8 1624.8,799.4 C1623.9,802.0 1621.6,806.6 1620.6,809.1 C1619.5,811.7 1617.9,816.6 1616.9,818.9 C1616.0,821.1 1613.9,824.9 1613.3,826.1 C1612.6,827.4 1612.2,827.7 1612.1,828.0" fill="none" stroke="#000" stroke-width="1.4" stroke-linejoin="round" stroke-linecap="round" />
<path d="M1569.6,835.9 C1570.5,835.5 1574.8,833.8 1576.9,833.4 C1579.0,833.1 1583.3,833.2 1585.4,833.4 C1587.5,833.7 1591.3,834.6 1592.6,835.3 C1593.9,835.9 1595.2,837.5 1595.1,838.3 C1594.9,839.1 1593.0,840.7 1591.4,841.3 C1589.8,841.9 1585.2,842.7 1582.9,842.9 C1580.7,843.1 1576.3,842.6 1574.4,842.5 C1572.5,842.5 1569.4,842.5 1568.6,842.5" fill="none" stroke="#000" stroke-width="1.4" stroke-linejoin="round" stroke-linecap="round" />
<path d="M1608.4,742.4 C1607.9,742.3 1605.2,742.3 1604.2,741.8 C1603.2,741.2 1601.7,739.2 1601.1,738.1 C1600.5,737.1 1599.7,734.8 1599.7,733.9 C1599.7,732.9 1600.5,731.3 1601.1,730.8 C1601.8,730.3 1603.3,730.0 1604.8,730.2 C1606.2,730.5 1610.0,731.9 1612.1,732.6 C1614.2,733.4 1618.1,734.7 1620.6,735.7 C1623.0,736.7 1627.7,738.6 1630.3,739.9 C1632.9,741.2 1637.6,743.7 1640.0,745.4 C1642.4,747.1 1646.4,750.5 1648.5,752.7 C1650.6,754.9 1654.1,759.1 1655.8,761.8 C1657.5,764.5 1660.1,769.6 1661.3,772.7 C1662.4,775.8 1663.9,781.6 1664.3,784.9 C1664.7,788.1 1664.6,793.8 1664.3,797.0 C1663.9,800.2 1662.6,806.1 1661.6,809.1 C1660.6,812.2 1658.3,817.5 1656.8,820.1 C1655.2,822.7 1651.6,826.6 1649.7,828.6 C1647.8,830.5 1644.2,833.4 1642.4,834.6 C1640.7,835.9 1637.2,837.8 1636.4,838.3" fill="none" stroke="#000" stroke-width="1.5" stroke-linejoin="round" stroke-linecap="round" />
<path d="M1608.4,742.4 C1609.1,742.1 1611.7,740.5 1613.3,740.2 C1614.9,739.8 1618.3,739.5 1620.6,739.7 C1622.8,739.9 1627.7,740.8 1630.3,741.8 C1632.9,742.7 1637.6,744.9 1640.0,746.6 C1642.4,748.3 1646.6,752.2 1648.5,754.5 C1650.4,756.8 1653.2,761.5 1654.6,764.2 C1656.0,767.0 1658.2,772.1 1659.1,775.1 C1660.0,778.2 1661.0,784.1 1661.3,787.3 C1661.5,790.5 1661.3,796.4 1660.9,799.4 C1660.5,802.5 1659.3,807.4 1658.2,810.4 C1657.2,813.3 1654.8,818.6 1653.1,821.3 C1651.4,824.0 1647.5,828.4 1645.6,830.4 C1643.7,832.4 1639.7,835.7 1638.8,836.5" fill="none" stroke="#000" stroke-width="1.4" stroke-linejoin="round" stroke-linecap="round" />
<path d="M1615.7,760.0 C1616.2,759.6 1617.2,759.1 1618.1,759.4 C1619.1,759.6 1621.4,760.8 1623.0,761.8 C1624.6,762.8 1628.3,765.0 1630.3,766.6 C1632.2,768.3 1636.0,771.8 1637.6,773.9 C1639.2,776.0 1641.6,780.0 1642.4,782.4 C1643.2,784.9 1643.8,789.6 1643.6,792.1 C1643.5,794.7 1642.2,799.4 1641.2,801.9 C1640.2,804.3 1637.8,808.3 1636.4,810.4 C1634.9,812.5 1631.7,815.9 1630.3,817.6 C1628.8,819.4 1626.4,822.3 1625.4,823.7 C1624.5,825.2 1623.8,827.7 1623.0,828.6 C1622.2,829.5 1620.2,830.4 1619.4,830.4 C1618.5,830.4 1616.6,829.6 1616.3,828.6 C1616.0,827.5 1616.5,824.4 1616.9,822.5 C1617.3,820.6 1618.5,816.4 1619.4,814.0 C1620.2,811.6 1622.0,806.9 1623.0,804.3 C1624.0,801.7 1626.0,796.8 1626.6,794.6 C1627.3,792.3 1628.0,789.2 1627.9,787.3 C1627.7,785.3 1626.4,781.9 1625.4,780.0 C1624.5,778.1 1621.8,774.5 1620.6,772.7 C1619.4,770.9 1617.1,768.0 1616.3,766.6 C1615.5,765.3 1614.8,763.3 1614.7,762.4 C1614.7,761.5 1615.3,760.4 1615.7,760.0Z" fill="none" stroke="#111" stroke-width="1.9" stroke-linejoin="round" stroke-linecap="round" />
<path d="M1619.4,764.8 C1620.1,764.8 1623.7,766.6 1625.4,767.9 C1627.2,769.1 1630.9,772.0 1632.7,773.9 C1634.5,775.9 1637.7,780.0 1638.8,782.4 C1639.8,784.9 1640.8,789.6 1640.6,792.1 C1640.4,794.7 1638.6,799.4 1637.6,801.9 C1636.5,804.3 1634.0,808.3 1632.7,810.4 C1631.4,812.5 1629.0,815.9 1627.9,817.6 C1626.7,819.4 1625.1,822.5 1624.2,823.7 C1623.3,824.9 1621.9,826.6 1621.2,826.8 C1620.5,826.9 1618.8,826.3 1618.8,824.9 C1618.7,823.6 1619.8,819.0 1620.6,816.4 C1621.4,813.8 1623.7,808.4 1624.8,805.5 C1626.0,802.6 1628.3,797.0 1629.1,794.6 C1629.9,792.1 1630.9,789.2 1630.9,787.3 C1630.9,785.3 1630.0,781.9 1629.1,780.0 C1628.2,778.1 1625.4,774.3 1624.2,772.7 C1623.0,771.1 1620.6,768.9 1620.0,767.9 C1619.3,766.8 1618.6,764.8 1619.4,764.8Z" fill="none" stroke="#111" stroke-width="1.5" stroke-linejoin="round" stroke-linecap="round" />
<path d="M1633.9,778.8 C1634.4,778.8 1636.0,780.7 1636.4,782.4 C1636.8,784.2 1637.3,789.6 1637.0,792.1 C1636.6,794.7 1635.0,799.3 1633.9,801.9 C1632.9,804.5 1630.2,809.3 1629.1,811.6 C1627.9,813.8 1626.2,817.4 1625.4,818.9 C1624.6,820.3 1623.5,822.3 1623.0,822.5 C1622.5,822.7 1621.5,821.7 1621.8,820.1 C1622.1,818.5 1624.3,813.1 1625.4,810.4 C1626.6,807.6 1629.3,802.2 1630.3,799.4 C1631.3,796.7 1632.4,792.0 1632.7,789.7 C1633.0,787.5 1632.6,783.9 1632.7,782.4 C1632.9,781.0 1633.4,778.8 1633.9,778.8Z" fill="none" stroke="#111" stroke-width="1.3" stroke-linejoin="round" stroke-linecap="round" />
<path d="M15.9,1090.7 C16.0,1081.7 15.8,1080.4 16.5,1077.1 C17.3,1073.9 19.6,1068.5 21.3,1066.3 C23.0,1064.1 26.9,1061.8 29.4,1060.9 C32.0,1060.0 37.0,1059.4 40.3,1059.5 C43.5,1059.6 49.9,1060.5 53.9,1061.5 C57.8,1062.6 65.8,1065.8 70.1,1067.6 C74.5,1069.5 82.5,1072.9 86.4,1075.1 C90.4,1077.3 96.7,1081.3 100.0,1083.9 C103.3,1086.6 108.5,1091.5 110.9,1094.8 C113.2,1098.0 116.4,1104.6 117.6,1108.4 C118.9,1112.2 120.2,1119.1 120.4,1123.3 C120.5,1127.5 119.9,1134.9 119.0,1139.6 C118.1,1144.3 115.4,1153.5 113.6,1158.6 C111.8,1163.6 108.0,1173.2 105.4,1177.6 C102.9,1181.9 97.1,1188.3 94.6,1191.2 C92.0,1194.0 88.2,1197.1 86.4,1199.3 C84.6,1201.5 82.8,1205.1 81.0,1207.4 C79.2,1209.8 75.4,1214.8 72.9,1216.9 C70.3,1219.1 64.9,1222.5 62.0,1223.7 C59.1,1224.9 54.0,1225.9 51.1,1225.8 C48.3,1225.6 42.8,1223.7 40.3,1222.4 C37.8,1221.0 34.0,1217.8 32.1,1215.6 C30.3,1213.4 28.0,1208.4 26.7,1206.1 C25.4,1203.7 23.8,1199.9 22.6,1197.9 C21.5,1195.9 18.8,1192.8 17.9,1191.2 C17.0,1189.5 16.2,1191.9 15.9,1185.7 C15.6,1179.6 15.6,1157.7 15.6,1145.0 C15.6,1132.3 15.7,1099.8 15.9,1090.7Z" fill="#fff" stroke="#000" stroke-width="1.4" stroke-linejoin="round" stroke-linecap="round" />
<path d="M28.1,1123.3 C28.5,1121.5 32.2,1117.0 33.5,1115.1 C34.8,1113.2 37.7,1108.5 38.9,1107.0 C40.2,1105.5 42.9,1102.7 44.4,1102.3 C45.8,1101.8 49.1,1102.4 51.1,1102.9 C53.2,1103.5 59.8,1105.9 62.0,1107.0 C64.2,1108.1 68.4,1111.0 70.1,1112.4 C71.9,1113.9 75.7,1117.6 76.9,1119.2 C78.2,1120.8 80.6,1124.4 81.0,1126.0 C81.4,1127.6 80.5,1132.0 80.3,1132.8 C80.2,1133.6 80.0,1133.6 79.6,1132.8 C79.3,1132.0 77.9,1127.4 76.9,1126.0 C76.0,1124.6 72.9,1121.7 71.5,1120.6 C70.1,1119.5 66.5,1117.2 64.7,1116.5 C63.0,1115.8 58.5,1114.7 56.6,1114.5 C54.7,1114.3 50.0,1114.5 48.4,1114.9 C46.8,1115.3 44.3,1116.7 43.0,1117.9 C41.7,1119.0 38.8,1123.1 37.6,1124.6 C36.3,1126.2 33.0,1130.7 32.1,1131.4 C31.3,1132.1 30.6,1131.7 30.1,1130.8 C29.6,1129.8 27.7,1125.1 28.1,1123.3Z" fill="#fff" stroke="#000" stroke-width="1.4" stroke-linejoin="round" stroke-linecap="round" />
<path d="M37.6,1124.6 C38.4,1122.5 41.4,1119.2 43.0,1117.9 C44.6,1116.5 47.8,1114.9 49.8,1114.5 C51.8,1114.0 55.8,1114.1 57.9,1114.5 C60.1,1114.8 64.1,1116.2 66.1,1117.2 C68.1,1118.2 71.3,1120.6 72.9,1121.9 C74.4,1123.3 76.7,1125.7 77.6,1127.4 C78.5,1129.0 79.4,1131.8 79.6,1134.1 C79.9,1136.5 79.6,1141.7 79.4,1145.0 C79.1,1148.3 78.1,1155.5 77.6,1158.6 C77.1,1161.7 76.2,1166.1 75.6,1168.1 C74.9,1170.1 73.8,1173.1 72.9,1173.5 C72.0,1173.9 70.2,1171.9 68.8,1170.8 C67.3,1169.7 64.0,1166.8 62.0,1165.4 C60.0,1163.9 55.9,1161.0 53.9,1159.9 C51.9,1158.8 48.5,1157.9 47.1,1157.2 C45.6,1156.6 44.0,1156.1 43.0,1155.2 C42.0,1154.3 40.4,1151.4 39.6,1150.4 C38.8,1149.4 37.4,1148.8 36.9,1147.7 C36.4,1146.6 35.5,1144.1 35.5,1142.3 C35.5,1140.5 36.6,1136.5 36.9,1134.1 C37.2,1131.8 36.8,1126.8 37.6,1124.6Z" fill="#E4CFAD" stroke="#000" stroke-width="1.8" stroke-linejoin="round" stroke-linecap="round" />
<path d="M36.9,1147.7 C37.9,1147.4 38.8,1149.4 39.6,1150.4 C40.4,1151.4 42.0,1154.3 43.0,1155.2 C44.0,1156.1 45.6,1156.6 47.1,1157.2 C48.5,1157.9 51.9,1158.8 53.9,1159.9 C55.9,1161.0 60.0,1163.9 62.0,1165.4 C64.0,1166.8 67.3,1169.7 68.8,1170.8 C70.2,1171.9 72.4,1172.6 72.9,1173.5 C73.3,1174.4 72.6,1176.3 72.2,1177.6 C71.7,1178.8 70.0,1181.2 69.5,1183.0 C68.9,1184.8 68.4,1189.5 68.1,1191.2 C67.8,1192.8 68.1,1194.3 67.4,1195.2 C66.8,1196.1 64.4,1197.0 63.4,1197.9 C62.3,1198.8 60.4,1201.1 59.3,1202.0 C58.2,1202.9 56.5,1204.4 55.2,1204.7 C54.0,1205.1 51.2,1204.9 49.8,1204.7 C48.3,1204.5 45.8,1204.1 44.4,1203.4 C42.9,1202.6 40.2,1200.4 38.9,1199.3 C37.7,1198.2 35.8,1196.1 34.9,1195.2 C34.0,1194.3 33.2,1192.9 32.1,1192.5 C31.1,1192.1 27.7,1193.1 26.7,1192.5 C25.8,1192.0 25.1,1189.6 25.1,1188.4 C25.1,1187.3 26.8,1184.6 26.7,1183.7 C26.7,1182.8 24.9,1182.5 24.7,1181.7 C24.5,1180.8 25.4,1178.7 25.4,1177.6 C25.3,1176.5 23.8,1174.6 24.0,1173.5 C24.2,1172.4 26.5,1170.5 26.7,1169.4 C26.9,1168.3 25.2,1166.6 25.4,1165.4 C25.5,1164.1 27.2,1161.6 28.1,1159.9 C29.0,1158.3 31.0,1154.8 32.1,1153.1 C33.3,1151.5 35.9,1148.1 36.9,1147.7Z" fill="#E4CFAD" stroke="#000" stroke-width="1.8" stroke-linejoin="round" stroke-linecap="round" />
<path d="M36.9,1147.7 C37.3,1148.1 38.8,1149.4 39.6,1150.4 C40.4,1151.4 42.0,1154.3 43.0,1155.2 C44.0,1156.1 45.6,1156.6 47.1,1157.2 C48.5,1157.9 51.9,1158.8 53.9,1159.9 C55.9,1161.0 60.0,1163.9 62.0,1165.4 C64.0,1166.8 67.3,1169.7 68.8,1170.8 C70.2,1171.9 72.3,1173.1 72.9,1173.5" fill="none" stroke="#000" stroke-width="2.4" stroke-linejoin="round" stroke-linecap="round" />
<path d="M532.6,1065.5 L538.5,1060.6 L549.1,1058.5 L564.9,1058.9 L580.8,1061.5 L596.6,1066.8 L611.2,1074.1 L623.1,1083.3 L633.7,1095.2 L641.6,1108.4 L646.9,1123.0 L648.8,1137.5 L647.5,1149.4 L644.2,1157.3 L640.9,1163.9 L638.3,1171.9 L633.7,1182.4 L627.0,1193.0 L619.1,1202.3 L611.2,1209.5 L601.9,1214.2 L594.0,1214.8 L586.1,1210.9 L580.8,1205.6 L578.1,1182.4 L572.9,1186.4 L567.6,1193.0 L565.6,1198.3 L563.6,1202.3 L557.0,1208.2 L546.4,1214.8 L534.5,1216.8 L534.5,1216.8 L533.9,1177.2 L533.2,1123.8 L534.8,1123.2 L534.8,1121.9 L533.2,1121.6Z" fill="#fff" stroke="none" stroke-width="0" stroke-linejoin="round" stroke-linecap="round" />
<path d="M534.5,1121.9 C534.7,1121.3 535.4,1118.1 535.9,1117.0 C536.3,1116.0 536.8,1114.0 537.8,1114.0 C538.9,1113.9 542.4,1116.1 543.8,1116.6 C545.2,1117.1 547.2,1117.9 548.4,1117.7 C549.6,1117.5 551.7,1115.8 553.0,1115.0 C554.4,1114.2 556.7,1112.1 558.3,1111.7 C559.9,1111.4 563.2,1112.1 564.9,1112.4 C566.7,1112.7 570.0,1113.0 571.5,1113.7 C573.1,1114.4 575.8,1116.5 576.8,1117.7 C577.9,1118.9 578.6,1121.6 579.5,1123.0 C580.3,1124.4 582.3,1127.0 583.4,1128.3 C584.6,1129.5 587.3,1131.0 588.1,1132.2 C588.9,1133.5 589.5,1135.9 589.4,1137.5 C589.3,1139.1 588.2,1142.2 587.4,1144.1 C586.6,1146.1 584.7,1150.1 583.4,1152.0 C582.2,1154.0 579.6,1157.3 578.1,1158.7 C576.7,1160.0 572.9,1162.0 572.9,1162.0 C572.9,1162.0 578.2,1158.2 578.1,1158.7 C578.1,1159.1 573.5,1163.5 572.2,1165.3 C570.9,1167.0 568.7,1170.3 568.2,1171.9 C567.8,1173.5 568.4,1176.2 568.9,1177.2 C569.4,1178.1 571.7,1178.6 572.2,1179.1 C572.7,1179.7 572.4,1180.8 572.9,1181.1 C573.3,1181.5 574.8,1181.6 575.5,1181.8 C576.2,1181.9 578.5,1181.6 578.1,1182.2 C577.8,1182.8 574.3,1185.0 572.9,1186.4 C571.5,1187.8 568.5,1191.4 567.6,1193.0 C566.6,1194.6 566.1,1197.1 565.6,1198.3 C565.1,1199.5 564.8,1200.9 563.6,1202.3 C562.5,1203.6 559.3,1206.5 557.0,1208.2 C554.7,1209.9 549.4,1213.7 546.4,1214.8 C543.4,1216.0 536.1,1216.5 534.5,1216.8 Z" fill="#E4CFAD" stroke="none" stroke-width="0" stroke-linejoin="round" stroke-linecap="round" />
<path d="M532.6,1065.5 C533.4,1064.8 536.0,1061.6 538.5,1060.6 C541.0,1059.5 545.1,1058.7 549.1,1058.5 C553.0,1058.2 560.2,1058.4 564.9,1058.9 C569.7,1059.3 576.0,1060.3 580.8,1061.5 C585.5,1062.7 592.1,1064.9 596.6,1066.8 C601.2,1068.7 607.2,1071.6 611.2,1074.1 C615.1,1076.6 619.7,1080.2 623.1,1083.3 C626.4,1086.5 630.9,1091.5 633.7,1095.2 C636.4,1099.0 639.6,1104.3 641.6,1108.4 C643.6,1112.6 645.8,1118.6 646.9,1123.0 C648.0,1127.3 648.7,1133.5 648.8,1137.5 C648.9,1141.5 648.2,1146.4 647.5,1149.4 C646.8,1152.4 645.2,1155.1 644.2,1157.3 C643.2,1159.5 641.8,1161.8 640.9,1163.9 C640.0,1166.1 639.4,1169.1 638.3,1171.9 C637.2,1174.6 635.3,1179.3 633.7,1182.4 C632.0,1185.6 629.2,1190.0 627.0,1193.0 C624.9,1196.0 621.5,1199.8 619.1,1202.3 C616.7,1204.7 613.8,1207.7 611.2,1209.5 C608.6,1211.3 604.5,1213.4 601.9,1214.2 C599.4,1214.9 596.4,1215.3 594.0,1214.8 C591.6,1214.3 588.1,1212.2 586.1,1210.9 C584.1,1209.5 582.4,1207.1 580.8,1205.6 C579.2,1204.1 576.6,1202.2 575.5,1200.9 C574.4,1199.7 573.6,1198.6 573.5,1197.0 C573.4,1195.4 574.1,1192.4 574.8,1190.4 C575.5,1188.4 576.9,1185.7 578.1,1183.8 C579.4,1181.8 581.8,1179.0 583.4,1177.2 C585.0,1175.3 587.1,1172.8 588.7,1171.2 C590.3,1169.6 592.5,1167.5 594.0,1166.6 C595.5,1165.7 597.0,1165.2 598.6,1165.3 C600.2,1165.4 603.2,1166.8 604.6,1167.2 C606.0,1167.7 607.4,1168.0 607.9,1168.2" fill="none" stroke="#000" stroke-width="1.4" stroke-linejoin="round" stroke-linecap="round" />
<path d="M532.6,1065.5 L533.2,1121.6 L534.8,1121.9 L534.8,1123.2 L533.2,1123.8 L533.9,1177.2 L534.5,1216.8" fill="none" stroke="#000" stroke-width="1.4" stroke-linejoin="round" stroke-linecap="round" />
<path d="M534.5,1216.8 C536.3,1216.5 543.1,1216.1 546.4,1214.8 C549.8,1213.5 554.4,1210.1 557.0,1208.2 C559.6,1206.3 562.3,1203.7 563.6,1202.3 C564.9,1200.8 565.0,1199.7 565.6,1198.3 C566.2,1196.9 566.5,1194.8 567.6,1193.0 C568.7,1191.2 571.3,1188.0 572.9,1186.4 C574.4,1184.8 577.4,1183.0 578.1,1182.4" fill="none" stroke="#000" stroke-width="1.4" stroke-linejoin="round" stroke-linecap="round" />
<path d="M533.2,1094.6 C534.2,1094.4 538.1,1094.0 539.8,1093.2 C541.5,1092.4 543.0,1090.5 544.4,1089.3 C545.9,1088.1 547.5,1085.6 549.7,1085.3 C552.0,1085.0 556.2,1086.2 559.6,1087.0 C563.1,1087.8 568.9,1089.3 572.9,1090.6 C576.8,1091.9 582.1,1093.8 586.1,1095.9 C590.0,1098.0 595.7,1101.6 599.3,1104.5 C602.9,1107.3 607.2,1111.7 609.9,1115.0 C612.5,1118.4 615.4,1123.4 617.1,1126.9 C618.8,1130.5 620.4,1135.5 621.1,1138.8 C621.8,1142.2 622.0,1146.4 621.8,1149.4 C621.6,1152.4 620.4,1156.7 619.8,1158.7 C619.2,1160.6 618.1,1162.0 617.8,1162.6" fill="none" stroke="#000" stroke-width="1.4" stroke-linejoin="round" stroke-linecap="round" />
<path d="M575.5,1095.9 C577.1,1096.6 582.9,1098.6 586.1,1100.5 C589.2,1102.4 593.5,1105.8 596.6,1108.4 C599.8,1111.1 604.5,1115.2 607.2,1118.3 C609.9,1121.5 612.8,1126.3 614.5,1129.6 C616.2,1132.8 617.7,1137.0 618.5,1140.1 C619.2,1143.3 619.6,1147.7 619.4,1150.7 C619.2,1153.7 617.9,1158.0 617.1,1160.0 C616.4,1162.0 614.9,1163.3 614.5,1163.9" fill="none" stroke="#000" stroke-width="1.4" stroke-linejoin="round" stroke-linecap="round" />
<path d="M533.9,1099.2 C534.7,1098.1 537.9,1098.1 539.8,1097.2 C541.7,1096.3 544.3,1094.2 546.4,1093.2 C548.6,1092.2 552.0,1090.9 554.4,1090.6 C556.7,1090.3 560.0,1090.8 562.3,1091.3 C564.6,1091.7 568.0,1092.7 569.6,1093.9 C571.1,1095.1 572.3,1097.6 572.9,1099.2 C573.5,1100.8 573.9,1103.1 573.5,1104.5 C573.1,1105.9 571.5,1107.5 570.2,1108.4 C568.9,1109.3 566.7,1109.9 564.9,1110.4 C563.1,1110.9 560.1,1111.0 558.3,1111.7 C556.5,1112.4 554.5,1114.1 553.0,1115.0 C551.6,1115.9 549.8,1117.5 548.4,1117.7 C547.0,1117.9 545.3,1117.4 543.8,1116.4 C542.3,1115.4 539.9,1112.9 538.5,1111.1 C537.1,1109.3 535.0,1106.3 534.3,1104.5 C533.6,1102.7 533.0,1100.3 533.9,1099.2Z" fill="none" stroke="#000" stroke-width="1.4" stroke-linejoin="round" stroke-linecap="round" />
<path d="M558.3,1111.7 C559.3,1111.8 562.9,1112.1 564.9,1112.4 C566.9,1112.7 569.8,1112.9 571.5,1113.7 C573.3,1114.5 575.6,1116.3 576.8,1117.7 C578.0,1119.1 578.5,1121.4 579.5,1123.0 C580.5,1124.6 582.1,1126.9 583.4,1128.3 C584.7,1129.6 587.2,1130.8 588.1,1132.2 C589.0,1133.6 589.5,1135.7 589.4,1137.5 C589.3,1139.3 588.3,1141.9 587.4,1144.1 C586.5,1146.3 584.8,1149.9 583.4,1152.0 C582.0,1154.2 579.7,1157.2 578.1,1158.7 C576.6,1160.1 575.6,1160.9 572.9,1162.0 C570.1,1163.0 563.6,1164.6 559.6,1165.9 C555.7,1167.2 550.2,1169.0 546.4,1170.5 C542.6,1172.1 536.1,1175.6 534.3,1176.5" fill="none" stroke="#000" stroke-width="1.4" stroke-linejoin="round" stroke-linecap="round" />
<path d="M572.9,1095.9 C573.3,1096.8 574.7,1099.9 575.5,1101.8 C576.3,1103.7 577.2,1106.3 578.1,1108.4 C579.1,1110.6 580.9,1114.8 582.1,1116.4 C583.3,1117.9 585.6,1118.2 586.1,1119.0 C586.6,1119.8 586.0,1121.2 585.4,1121.6 C584.8,1122.1 583.0,1122.5 582.1,1122.3 C581.2,1122.1 579.9,1120.6 579.5,1120.3" fill="none" stroke="#000" stroke-width="1.4" stroke-linejoin="round" stroke-linecap="round" />
<path d="M575.5,1096.5 C576.1,1097.3 578.3,1100.0 579.5,1101.8 C580.7,1103.6 582.3,1106.5 583.4,1108.4 C584.5,1110.4 586.0,1113.3 586.7,1115.0 C587.4,1116.8 587.8,1118.7 588.1,1120.3 C588.4,1121.9 588.1,1124.2 588.7,1125.6 C589.3,1127.0 590.8,1128.2 592.0,1129.6 C593.2,1131.0 595.2,1133.1 596.6,1134.9 C598.1,1136.6 600.7,1139.3 601.9,1141.5 C603.1,1143.7 604.4,1147.0 604.6,1149.4 C604.8,1151.8 604.0,1155.1 603.3,1157.3 C602.5,1159.5 600.0,1162.7 599.3,1163.9 C598.6,1165.1 598.7,1165.1 598.6,1165.3" fill="none" stroke="#000" stroke-width="1.4" stroke-linejoin="round" stroke-linecap="round" />
<path d="M588.1,1104.5 C587.9,1105.5 586.8,1108.9 586.7,1111.1 C586.6,1113.3 587.1,1116.8 587.4,1119.0 C587.7,1121.2 588.5,1124.6 588.7,1125.6" fill="none" stroke="#000" stroke-width="1.4" stroke-linejoin="round" stroke-linecap="round" />
<path d="M578.1,1158.7 C577.3,1159.6 573.7,1163.3 572.2,1165.3 C570.7,1167.2 568.7,1170.1 568.2,1171.9 C567.7,1173.7 568.3,1176.1 568.9,1177.2 C569.5,1178.2 571.6,1178.5 572.2,1179.1 C572.8,1179.7 572.4,1180.7 572.9,1181.1 C573.4,1181.5 574.7,1181.6 575.5,1181.8 C576.3,1181.9 577.8,1182.1 578.1,1182.2" fill="none" stroke="#000" stroke-width="1.4" stroke-linejoin="round" stroke-linecap="round" />
<path d="M580.8,1205.6 C581.6,1204.3 584.5,1199.1 586.1,1197.0 C587.7,1194.9 589.4,1192.8 591.4,1191.7 C593.3,1190.6 597.3,1190.2 599.3,1189.7 C601.3,1189.2 603.8,1188.6 604.6,1188.4" fill="none" stroke="#000" stroke-width="1.4" stroke-linejoin="round" stroke-linecap="round" />
<path d="M617.1,1160.0 C616.7,1159.6 615.6,1162.7 614.5,1163.9 C613.4,1165.1 611.3,1166.5 609.9,1167.9 C608.5,1169.3 606.4,1171.4 605.2,1173.2 C604.0,1175.0 602.5,1178.0 601.9,1179.8 C601.3,1181.6 600.9,1183.8 601.3,1185.1 C601.7,1186.4 603.3,1188.0 604.6,1188.4 C605.9,1188.8 608.5,1188.6 609.9,1187.7 C611.3,1186.8 612.9,1184.4 613.8,1182.4 C614.7,1180.5 615.3,1176.9 615.8,1174.5 C616.3,1172.1 616.9,1168.8 617.1,1166.6 C617.3,1164.4 617.5,1160.4 617.1,1160.0Z" fill="none" stroke="#000" stroke-width="1.4" stroke-linejoin="round" stroke-linecap="round" />
<circle cx="605.9" cy="1190.4" r="1.5" fill="#fff" stroke="#000" stroke-width="1.2"/>
<path d="M1038.9,1066.1 L1044.8,1061.2 L1055.4,1059.1 L1071.2,1059.5 L1087.1,1062.1 L1102.9,1067.4 L1117.5,1074.7 L1129.4,1083.9 L1140.0,1095.8 L1147.9,1109.0 L1153.2,1123.6 L1155.1,1138.1 L1153.8,1150.0 L1150.5,1157.9 L1147.2,1164.5 L1144.6,1172.5 L1140.0,1183.0 L1133.3,1193.6 L1125.4,1202.9 L1117.5,1210.1 L1108.2,1214.8 L1100.3,1215.4 L1092.4,1211.5 L1087.1,1206.2 L1084.4,1183.0 L1079.2,1187.0 L1073.9,1193.6 L1071.9,1198.9 L1069.9,1202.9 L1063.3,1208.8 L1052.7,1215.4 L1040.8,1217.4 L1040.8,1217.4 L1040.2,1177.8 L1039.5,1124.4 L1041.1,1123.8 L1041.1,1122.5 L1039.5,1122.2Z" fill="#fff" stroke="none" stroke-width="0" stroke-linejoin="round" stroke-linecap="round" />
<path d="M1102.4,1165.1 C1103.5,1164.8 1105.0,1165.4 1106.3,1165.7 C1107.6,1166.0 1112.8,1166.7 1113.3,1167.6 C1113.8,1168.5 1111.4,1172.0 1110.8,1173.4 C1110.2,1174.8 1108.5,1178.5 1108.2,1179.8 C1107.9,1181.1 1107.6,1183.4 1107.9,1184.3 C1108.2,1185.2 1110.2,1187.2 1110.8,1187.9 C1111.4,1188.6 1112.7,1188.9 1113.3,1190.1 C1113.9,1191.3 1115.1,1196.1 1115.9,1197.8 C1116.7,1199.5 1119.1,1203.1 1119.8,1204.3 C1120.5,1205.5 1121.9,1207.1 1121.7,1208.1 C1121.5,1209.1 1119.0,1211.7 1117.8,1212.6 C1116.6,1213.5 1112.9,1215.4 1111.4,1215.8 C1109.9,1216.2 1106.5,1216.5 1105.0,1216.2 C1103.5,1215.9 1100.1,1214.1 1098.6,1213.3 C1097.1,1212.5 1093.6,1210.4 1092.1,1209.4 C1090.6,1208.4 1087.0,1205.9 1085.7,1204.9 C1084.4,1203.9 1081.3,1201.9 1080.6,1201.1 C1079.9,1200.3 1079.2,1198.8 1079.3,1197.8 C1079.4,1196.8 1080.6,1194.0 1081.2,1192.7 C1081.8,1191.4 1083.7,1187.8 1084.4,1186.3 C1085.1,1184.8 1086.7,1181.3 1087.6,1179.8 C1088.5,1178.3 1091.0,1174.7 1092.1,1173.4 C1093.2,1172.1 1096.1,1169.3 1097.3,1168.3 C1098.5,1167.3 1101.4,1165.4 1102.4,1165.1Z" fill="#E4CFAD" stroke="none" stroke-width="0" stroke-linejoin="round" stroke-linecap="round" />
<path d="M1038.9,1066.1 C1039.7,1065.4 1042.3,1062.2 1044.8,1061.2 C1047.3,1060.1 1051.4,1059.3 1055.4,1059.1 C1059.3,1058.8 1066.5,1059.0 1071.2,1059.5 C1076.0,1059.9 1082.3,1060.9 1087.1,1062.1 C1091.8,1063.3 1098.4,1065.5 1102.9,1067.4 C1107.5,1069.3 1113.5,1072.2 1117.5,1074.7 C1121.4,1077.2 1126.0,1080.8 1129.4,1083.9 C1132.7,1087.1 1137.2,1092.1 1140.0,1095.8 C1142.7,1099.6 1145.9,1104.9 1147.9,1109.0 C1149.9,1113.2 1152.1,1119.2 1153.2,1123.6 C1154.3,1127.9 1155.0,1134.1 1155.1,1138.1 C1155.2,1142.1 1154.5,1147.0 1153.8,1150.0 C1153.1,1153.0 1151.5,1155.7 1150.5,1157.9 C1149.5,1160.1 1148.1,1162.4 1147.2,1164.5 C1146.3,1166.7 1145.7,1169.7 1144.6,1172.5 C1143.5,1175.2 1141.6,1179.9 1140.0,1183.0 C1138.3,1186.2 1135.5,1190.6 1133.3,1193.6 C1131.2,1196.6 1127.8,1200.4 1125.4,1202.9 C1123.0,1205.3 1120.1,1208.3 1117.5,1210.1 C1114.9,1211.9 1110.8,1214.0 1108.2,1214.8 C1105.7,1215.5 1102.7,1215.9 1100.3,1215.4 C1097.9,1214.9 1094.4,1212.8 1092.4,1211.5 C1090.4,1210.1 1088.7,1207.7 1087.1,1206.2 C1085.5,1204.7 1082.9,1202.8 1081.8,1201.5 C1080.7,1200.3 1079.9,1199.2 1079.8,1197.6 C1079.7,1196.0 1080.4,1193.0 1081.1,1191.0 C1081.8,1189.0 1083.2,1186.3 1084.4,1184.4 C1085.7,1182.4 1088.1,1179.6 1089.7,1177.8 C1091.3,1175.9 1093.4,1173.4 1095.0,1171.8 C1096.6,1170.2 1098.8,1168.1 1100.3,1167.2 C1101.8,1166.3 1103.3,1165.8 1104.9,1165.9 C1106.5,1166.0 1109.5,1167.4 1110.9,1167.8 C1112.3,1168.3 1113.7,1168.6 1114.2,1168.8" fill="none" stroke="#000" stroke-width="1.4" stroke-linejoin="round" stroke-linecap="round" />
<path d="M1038.9,1066.1 L1039.5,1122.2 L1041.1,1122.5 L1041.1,1123.8 L1039.5,1124.4 L1040.2,1177.8 L1040.8,1217.4" fill="none" stroke="#000" stroke-width="1.4" stroke-linejoin="round" stroke-linecap="round" />
<path d="M1040.8,1217.4 C1042.6,1217.1 1049.4,1216.7 1052.7,1215.4 C1056.1,1214.1 1060.7,1210.7 1063.3,1208.8 C1065.9,1206.9 1068.6,1204.3 1069.9,1202.9 C1071.2,1201.4 1071.3,1200.3 1071.9,1198.9 C1072.5,1197.5 1072.8,1195.4 1073.9,1193.6 C1075.0,1191.8 1077.6,1188.6 1079.2,1187.0 C1080.7,1185.4 1083.7,1183.6 1084.4,1183.0" fill="none" stroke="#000" stroke-width="1.4" stroke-linejoin="round" stroke-linecap="round" />
<path d="M1039.5,1095.2 C1040.5,1095.0 1044.4,1094.6 1046.1,1093.8 C1047.8,1093.0 1049.3,1091.1 1050.7,1089.9 C1052.2,1088.7 1053.8,1086.2 1056.0,1085.9 C1058.3,1085.6 1062.5,1086.8 1065.9,1087.6 C1069.4,1088.4 1075.2,1089.9 1079.2,1091.2 C1083.1,1092.5 1088.4,1094.4 1092.4,1096.5 C1096.3,1098.6 1102.0,1102.2 1105.6,1105.1 C1109.2,1107.9 1113.5,1112.3 1116.2,1115.6 C1118.8,1119.0 1121.7,1124.0 1123.4,1127.5 C1125.1,1131.1 1126.7,1136.1 1127.4,1139.4 C1128.1,1142.8 1128.3,1147.0 1128.1,1150.0 C1127.9,1153.0 1126.7,1157.3 1126.1,1159.3 C1125.5,1161.2 1124.4,1162.6 1124.1,1163.2" fill="none" stroke="#000" stroke-width="1.4" stroke-linejoin="round" stroke-linecap="round" />
<path d="M1081.8,1096.5 C1083.4,1097.2 1089.2,1099.2 1092.4,1101.1 C1095.5,1103.0 1099.8,1106.4 1102.9,1109.0 C1106.1,1111.7 1110.8,1115.8 1113.5,1118.9 C1116.2,1122.1 1119.1,1126.9 1120.8,1130.2 C1122.5,1133.4 1124.0,1137.6 1124.8,1140.7 C1125.5,1143.9 1125.9,1148.3 1125.7,1151.3 C1125.5,1154.3 1124.2,1158.6 1123.4,1160.6 C1122.7,1162.6 1121.2,1163.9 1120.8,1164.5" fill="none" stroke="#000" stroke-width="1.4" stroke-linejoin="round" stroke-linecap="round" />
<path d="M1040.2,1099.8 C1041.0,1098.7 1044.2,1098.7 1046.1,1097.8 C1048.0,1096.9 1050.6,1094.8 1052.7,1093.8 C1054.9,1092.8 1058.3,1091.5 1060.7,1091.2 C1063.0,1090.9 1066.3,1091.4 1068.6,1091.9 C1070.9,1092.3 1074.3,1093.3 1075.9,1094.5 C1077.4,1095.7 1078.6,1098.2 1079.2,1099.8 C1079.8,1101.4 1080.2,1103.7 1079.8,1105.1 C1079.4,1106.5 1077.8,1108.1 1076.5,1109.0 C1075.2,1109.9 1073.0,1110.5 1071.2,1111.0 C1069.4,1111.5 1066.4,1111.6 1064.6,1112.3 C1062.8,1113.0 1060.8,1114.7 1059.3,1115.6 C1057.9,1116.5 1056.1,1118.1 1054.7,1118.3 C1053.3,1118.5 1051.6,1118.0 1050.1,1117.0 C1048.6,1116.0 1046.2,1113.5 1044.8,1111.7 C1043.4,1109.9 1041.3,1106.9 1040.6,1105.1 C1039.9,1103.3 1039.3,1100.9 1040.2,1099.8Z" fill="none" stroke="#000" stroke-width="1.4" stroke-linejoin="round" stroke-linecap="round" />
<path d="M1064.6,1112.3 C1065.6,1112.4 1069.2,1112.7 1071.2,1113.0 C1073.2,1113.3 1076.1,1113.5 1077.8,1114.3 C1079.6,1115.1 1081.9,1116.9 1083.1,1118.3 C1084.3,1119.7 1084.8,1122.0 1085.8,1123.6 C1086.8,1125.2 1088.4,1127.5 1089.7,1128.9 C1091.0,1130.2 1093.5,1131.4 1094.4,1132.8 C1095.3,1134.2 1095.8,1136.3 1095.7,1138.1 C1095.6,1139.9 1094.6,1142.5 1093.7,1144.7 C1092.8,1146.9 1091.1,1150.5 1089.7,1152.6 C1088.3,1154.8 1086.0,1157.8 1084.4,1159.3 C1082.9,1160.7 1081.9,1161.5 1079.2,1162.6 C1076.4,1163.6 1069.9,1165.2 1065.9,1166.5 C1062.0,1167.8 1056.5,1169.6 1052.7,1171.1 C1048.9,1172.7 1042.4,1176.2 1040.6,1177.1" fill="none" stroke="#000" stroke-width="1.4" stroke-linejoin="round" stroke-linecap="round" />
<path d="M1079.2,1096.5 C1079.6,1097.4 1081.0,1100.5 1081.8,1102.4 C1082.6,1104.3 1083.5,1106.9 1084.4,1109.0 C1085.4,1111.2 1087.2,1115.4 1088.4,1117.0 C1089.6,1118.5 1091.9,1118.8 1092.4,1119.6 C1092.9,1120.4 1092.3,1121.8 1091.7,1122.2 C1091.1,1122.7 1089.3,1123.1 1088.4,1122.9 C1087.5,1122.7 1086.2,1121.2 1085.8,1120.9" fill="none" stroke="#000" stroke-width="1.4" stroke-linejoin="round" stroke-linecap="round" />
<path d="M1081.8,1097.1 C1082.4,1097.9 1084.6,1100.6 1085.8,1102.4 C1087.0,1104.2 1088.6,1107.1 1089.7,1109.0 C1090.8,1111.0 1092.3,1113.9 1093.0,1115.6 C1093.7,1117.4 1094.1,1119.3 1094.4,1120.9 C1094.7,1122.5 1094.4,1124.8 1095.0,1126.2 C1095.6,1127.6 1097.1,1128.8 1098.3,1130.2 C1099.5,1131.6 1101.5,1133.7 1102.9,1135.5 C1104.4,1137.2 1107.0,1139.9 1108.2,1142.1 C1109.4,1144.3 1110.7,1147.6 1110.9,1150.0 C1111.1,1152.4 1110.3,1155.7 1109.6,1157.9 C1108.8,1160.1 1106.3,1163.3 1105.6,1164.5 C1104.9,1165.7 1105.0,1165.7 1104.9,1165.9" fill="none" stroke="#000" stroke-width="1.4" stroke-linejoin="round" stroke-linecap="round" />
<path d="M1094.4,1105.1 C1094.2,1106.1 1093.1,1109.5 1093.0,1111.7 C1092.9,1113.9 1093.4,1117.4 1093.7,1119.6 C1094.0,1121.8 1094.8,1125.2 1095.0,1126.2" fill="none" stroke="#000" stroke-width="1.4" stroke-linejoin="round" stroke-linecap="round" />
<path d="M1084.4,1159.3 C1083.6,1160.2 1080.0,1163.9 1078.5,1165.9 C1077.0,1167.8 1075.0,1170.7 1074.5,1172.5 C1074.0,1174.3 1074.6,1176.7 1075.2,1177.8 C1075.8,1178.8 1077.9,1179.1 1078.5,1179.7 C1079.1,1180.3 1078.7,1181.3 1079.2,1181.7 C1079.7,1182.1 1081.0,1182.2 1081.8,1182.4 C1082.6,1182.5 1084.1,1182.7 1084.4,1182.8" fill="none" stroke="#000" stroke-width="1.4" stroke-linejoin="round" stroke-linecap="round" />
<path d="M1087.1,1206.2 C1087.9,1204.9 1090.8,1199.7 1092.4,1197.6 C1094.0,1195.5 1095.7,1193.4 1097.7,1192.3 C1099.6,1191.2 1103.6,1190.8 1105.6,1190.3 C1107.6,1189.8 1110.1,1189.2 1110.9,1189.0" fill="none" stroke="#000" stroke-width="1.4" stroke-linejoin="round" stroke-linecap="round" />
<path d="M1123.4,1160.6 C1123.0,1160.2 1121.9,1163.3 1120.8,1164.5 C1119.7,1165.7 1117.6,1167.1 1116.2,1168.5 C1114.8,1169.9 1112.7,1172.0 1111.5,1173.8 C1110.3,1175.6 1108.8,1178.6 1108.2,1180.4 C1107.6,1182.2 1107.2,1184.4 1107.6,1185.7 C1108.0,1187.0 1109.6,1188.6 1110.9,1189.0 C1112.2,1189.4 1114.8,1189.2 1116.2,1188.3 C1117.6,1187.4 1119.2,1185.0 1120.1,1183.0 C1121.0,1181.1 1121.6,1177.5 1122.1,1175.1 C1122.6,1172.7 1123.2,1169.4 1123.4,1167.2 C1123.6,1165.0 1123.8,1161.0 1123.4,1160.6Z" fill="none" stroke="#000" stroke-width="1.4" stroke-linejoin="round" stroke-linecap="round" />
<circle cx="1112.2" cy="1191.0" r="1.5" fill="#fff" stroke="#000" stroke-width="1.2"/>
<path d="M1580.2,1208.2 C1580.4,1208.8 1580.9,1212.3 1581.7,1213.3 C1582.5,1214.3 1585.4,1216.3 1586.9,1216.5 C1588.4,1216.7 1592.6,1216.1 1594.6,1215.2 C1596.5,1214.4 1601.3,1211.0 1603.6,1209.4 C1605.8,1207.9 1611.6,1203.5 1613.9,1201.7 C1616.1,1199.9 1620.9,1195.7 1622.9,1194.0 C1624.8,1192.4 1628.9,1188.9 1630.6,1187.6 C1632.2,1186.2 1635.9,1183.6 1637.0,1182.4 C1638.1,1181.2 1639.8,1178.5 1640.2,1177.3 C1640.6,1176.1 1640.0,1173.1 1640.2,1172.2 C1640.4,1171.2 1641.6,1169.6 1642.2,1168.9 C1642.8,1168.3 1644.9,1167.2 1645.4,1166.4 C1645.8,1165.5 1646.2,1162.8 1646.0,1161.9 C1645.8,1161.0 1643.7,1159.4 1643.4,1158.7 C1643.2,1157.9 1644.2,1156.4 1644.1,1155.4 C1643.9,1154.5 1643.0,1151.5 1642.2,1150.3 C1641.3,1149.1 1638.5,1146.4 1637.0,1145.2 C1635.5,1144.0 1631.1,1141.1 1629.3,1140.0 C1627.5,1139.0 1623.2,1136.9 1621.6,1136.2 C1619.9,1135.4 1616.5,1133.4 1615.1,1133.6 C1613.8,1133.7 1610.9,1137.1 1610.0,1137.4 C1609.1,1137.7 1608.3,1136.5 1607.4,1136.2 C1606.5,1135.8 1603.5,1134.3 1602.3,1134.2 C1601.1,1134.1 1598.3,1134.8 1597.1,1135.5 C1595.9,1136.2 1593.2,1139.1 1592.0,1140.0 C1590.8,1140.9 1588.2,1142.7 1586.9,1143.2 C1585.5,1143.7 1581.0,1144.4 1580.2,1144.5Z" fill="#fff" stroke="#000" stroke-width="1.4" stroke-linejoin="round" stroke-linecap="round" />
<path d="M1580.2,1058.4 C1581.6,1058.4 1589.3,1058.4 1592.0,1058.7 C1594.7,1059.1 1601.5,1060.9 1603.6,1061.6 C1605.7,1062.3 1608.7,1064.1 1610.0,1064.8 C1611.4,1065.5 1613.6,1067.1 1615.1,1067.4 C1616.6,1067.7 1621.2,1067.1 1622.9,1067.4 C1624.5,1067.6 1627.6,1068.3 1629.3,1069.3 C1630.9,1070.3 1635.2,1074.4 1637.0,1075.7 C1638.8,1077.1 1642.9,1079.7 1644.7,1080.9 C1646.5,1082.0 1650.8,1084.2 1652.4,1085.4 C1654.1,1086.6 1657.4,1089.7 1658.9,1091.1 C1660.4,1092.6 1663.9,1096.1 1665.3,1097.6 C1666.6,1099.1 1669.6,1102.4 1670.4,1104.0 C1671.3,1105.7 1672.3,1109.9 1672.4,1111.7 C1672.4,1113.5 1671.6,1117.6 1671.1,1119.4 C1670.6,1121.2 1668.8,1125.7 1667.9,1127.2 C1666.9,1128.7 1663.9,1131.2 1662.7,1132.3 C1661.5,1133.3 1658.3,1135.0 1657.6,1136.2 C1656.9,1137.4 1657.4,1141.5 1656.9,1142.6 C1656.5,1143.7 1654.2,1144.6 1653.7,1145.8 C1653.3,1147.0 1653.5,1151.7 1653.1,1152.9 C1652.6,1154.0 1650.8,1155.2 1649.9,1155.4 C1648.9,1155.7 1645.6,1155.4 1644.7,1154.8 C1643.8,1154.2 1643.1,1151.4 1642.2,1150.3 C1641.3,1149.2 1638.5,1146.4 1637.0,1145.2 C1635.5,1144.0 1631.1,1141.1 1629.3,1140.0 C1627.5,1139.0 1623.2,1136.9 1621.6,1136.2 C1619.9,1135.4 1616.5,1133.4 1615.1,1133.6 C1613.8,1133.7 1610.9,1137.1 1610.0,1137.4 C1609.1,1137.7 1608.3,1136.5 1607.4,1136.2 C1606.5,1135.8 1603.5,1134.3 1602.3,1134.2 C1601.1,1134.1 1598.3,1134.8 1597.1,1135.5 C1595.9,1136.2 1593.2,1139.1 1592.0,1140.0 C1590.8,1140.9 1588.2,1142.7 1586.9,1143.2 C1585.5,1143.7 1581.0,1144.4 1580.2,1144.5Z" fill="#E4CFAD" stroke="#000" stroke-width="1.5" stroke-linejoin="round" stroke-linecap="round" />
<path d="M1580.2,1058.4 L1580.2,1208.2" fill="none" stroke="#000" stroke-width="1.3" stroke-linejoin="round" stroke-linecap="round" />
<path d="M1580.2,1067.4 C1581.8,1067.4 1589.1,1067.7 1592.0,1068.0 C1595.0,1068.3 1600.2,1069.1 1602.3,1069.3 C1604.3,1069.5 1606.4,1069.6 1607.4,1069.3 C1608.5,1068.9 1609.7,1067.1 1610.0,1066.7" fill="none" stroke="#000" stroke-width="1.6" stroke-linejoin="round" stroke-linecap="round" />
<path d="M1604.2,1069.9 C1604.6,1071.0 1606.6,1075.8 1607.4,1078.3 C1608.3,1080.8 1610.0,1085.8 1610.6,1088.6 C1611.3,1091.3 1612.2,1096.5 1612.6,1098.9 C1612.9,1101.3 1613.6,1105.2 1613.2,1106.6 C1612.9,1107.9 1611.3,1108.5 1610.0,1109.1 C1608.7,1109.8 1605.6,1110.9 1603.6,1111.7 C1601.5,1112.6 1596.8,1114.7 1594.6,1115.6 C1592.3,1116.4 1588.8,1117.5 1586.9,1118.1 C1584.9,1118.7 1581.1,1119.8 1580.2,1120.1" fill="none" stroke="#000" stroke-width="1.6" stroke-linejoin="round" stroke-linecap="round" />
<path d="M1607.4,1069.3 C1607.9,1070.7 1610.3,1076.7 1611.3,1079.6 C1612.2,1082.5 1613.9,1088.2 1614.5,1091.1 C1615.1,1094.1 1615.4,1099.0 1615.8,1101.4 C1616.1,1103.8 1616.5,1107.6 1617.1,1109.1 C1617.7,1110.7 1619.2,1112.3 1620.3,1113.0 C1621.4,1113.7 1624.2,1114.3 1625.4,1114.3 C1626.6,1114.3 1628.4,1113.9 1629.3,1113.0 C1630.1,1112.1 1631.6,1109.7 1631.9,1107.9 C1632.1,1106.0 1631.5,1101.4 1631.2,1098.9 C1631.0,1096.3 1630.4,1091.3 1629.9,1088.6 C1629.5,1085.8 1628.3,1080.0 1628.0,1078.3 C1627.7,1076.6 1627.4,1076.1 1627.4,1075.7" fill="none" stroke="#000" stroke-width="1.6" stroke-linejoin="round" stroke-linecap="round" />
<path d="M1631.9,1107.9 C1632.2,1108.2 1633.4,1109.7 1634.4,1110.4 C1635.5,1111.1 1638.2,1112.8 1639.6,1113.0 C1641.0,1113.2 1643.5,1112.4 1644.7,1111.7 C1645.9,1111.0 1647.6,1109.1 1648.6,1107.9 C1649.6,1106.7 1651.6,1103.7 1652.4,1102.7 C1653.3,1101.7 1654.7,1100.5 1655.0,1100.1" fill="none" stroke="#000" stroke-width="1.6" stroke-linejoin="round" stroke-linecap="round" />
<path d="M1649.2,1090.5 C1649.7,1091.3 1651.7,1095.0 1652.4,1096.3 C1653.2,1097.6 1654.2,1099.4 1655.0,1100.1 C1655.9,1100.9 1657.7,1101.6 1658.9,1102.1 C1660.1,1102.6 1663.3,1103.7 1664.0,1104.0" fill="none" stroke="#000" stroke-width="1.6" stroke-linejoin="round" stroke-linecap="round" />
<path d="M1642.2,1122.0 C1642.2,1121.3 1641.8,1118.1 1642.2,1116.9 C1642.5,1115.7 1644.4,1113.5 1644.7,1113.0" fill="none" stroke="#000" stroke-width="1.6" stroke-linejoin="round" stroke-linecap="round" />
<path d="M1642.2,1122.0 C1642.8,1122.7 1645.8,1126.0 1647.3,1127.2 C1648.8,1128.3 1652.4,1129.7 1653.7,1130.4 C1655.1,1131.1 1657.1,1132.0 1657.6,1132.3" fill="none" stroke="#000" stroke-width="1.6" stroke-linejoin="round" stroke-linecap="round" />
<path d="M1580.2,1124.6 C1581.1,1124.5 1585.5,1123.6 1586.9,1123.9 C1588.3,1124.3 1589.5,1126.2 1590.7,1127.2 C1591.9,1128.1 1594.3,1130.2 1595.9,1131.0 C1597.4,1131.9 1601.4,1133.2 1602.3,1133.6" fill="none" stroke="#000" stroke-width="1.6" stroke-linejoin="round" stroke-linecap="round" />
<path d="M1633.1,1138.7 C1633.7,1139.2 1636.0,1141.4 1637.0,1142.6 C1638.0,1143.8 1640.1,1146.5 1640.9,1147.7 C1641.6,1148.9 1642.5,1151.1 1642.8,1151.6" fill="none" stroke="#000" stroke-width="1.6" stroke-linejoin="round" stroke-linecap="round" />
<path d="M1591.4,1122.0 C1591.7,1121.6 1593.4,1120.5 1594.6,1120.1 C1595.7,1119.7 1600.0,1118.8 1601.0,1118.8 C1602.1,1118.8 1603.3,1119.6 1603.6,1120.1 C1603.9,1120.6 1603.9,1122.8 1603.6,1123.3 C1603.3,1123.8 1601.9,1124.5 1601.0,1124.6 C1600.1,1124.7 1596.9,1124.0 1595.9,1123.9 C1594.8,1123.9 1592.5,1124.2 1592.0,1123.9 C1591.5,1123.7 1591.1,1122.5 1591.4,1122.0Z" fill="none" stroke="#000" stroke-width="1.6" stroke-linejoin="round" stroke-linecap="round" />
<path d="M1605.5,1118.1 C1605.9,1117.7 1607.4,1116.2 1608.7,1116.2 C1610.0,1116.2 1614.6,1117.6 1616.4,1118.1 C1618.2,1118.7 1622.6,1120.5 1624.1,1120.7 C1625.6,1120.9 1628.4,1120.2 1629.3,1120.1 C1630.2,1120.0 1631.4,1119.6 1631.9,1120.1 C1632.3,1120.6 1632.5,1123.8 1633.1,1124.6 C1633.7,1125.4 1636.3,1126.9 1637.0,1127.2 C1637.8,1127.5 1639.4,1126.6 1639.6,1127.2 C1639.8,1127.8 1639.2,1131.1 1638.9,1132.3 C1638.6,1133.5 1637.8,1136.8 1637.0,1137.4 C1636.2,1138.1 1633.2,1138.4 1631.9,1138.1 C1630.5,1137.8 1626.3,1135.7 1625.4,1134.9 C1624.5,1134.0 1624.2,1131.8 1624.1,1131.0 C1624.1,1130.2 1625.1,1128.2 1624.8,1127.8 C1624.5,1127.3 1622.3,1127.5 1621.6,1127.2 C1620.9,1126.9 1619.9,1125.5 1619.0,1125.2 C1618.1,1124.9 1615.1,1125.0 1613.9,1124.6 C1612.7,1124.2 1609.7,1122.5 1608.7,1122.0 C1607.7,1121.5 1605.9,1120.5 1605.5,1120.1 C1605.1,1119.6 1605.1,1118.6 1605.5,1118.1Z" fill="none" stroke="#000" stroke-width="1.6" stroke-linejoin="round" stroke-linecap="round" />
<path d="M1639.6,1137.4 C1639.7,1136.1 1640.3,1133.0 1640.9,1132.3 C1641.5,1131.5 1643.4,1131.0 1644.7,1131.0 C1646.1,1131.0 1651.0,1131.8 1652.4,1132.3 C1653.9,1132.7 1656.3,1134.0 1656.9,1134.9 C1657.5,1135.8 1657.6,1139.0 1657.6,1140.0 C1657.6,1141.1 1657.4,1143.2 1656.9,1143.9 C1656.5,1144.5 1654.2,1144.7 1653.7,1145.8 C1653.3,1146.8 1653.5,1151.7 1653.1,1152.9 C1652.6,1154.0 1650.8,1155.2 1649.9,1155.4 C1649.0,1155.7 1646.2,1155.4 1645.4,1154.8 C1644.5,1154.2 1643.4,1151.6 1642.8,1150.3 C1642.2,1149.0 1640.6,1145.4 1640.2,1143.9 C1639.8,1142.4 1639.5,1138.8 1639.6,1137.4Z" fill="none" stroke="#000" stroke-width="1.6" stroke-linejoin="round" stroke-linecap="round" />
<g fill="rgba(0,0,0,0.148)"><circle cx="162.3" cy="200.5" r="6.7"/><circle cx="164.6" cy="242.1" r="6.7"/><circle cx="162.3" cy="249.6" r="6.7"/><circle cx="159.8" cy="278.6" r="6.7"/><circle cx="162.0" cy="282.7" r="6.7"/><circle cx="163.8" cy="290.7" r="6.7"/><circle cx="162.9" cy="292.9" r="6.7"/><circle cx="242.3" cy="263.0" r="6.7"/><circle cx="244.6" cy="276.4" r="6.7"/><circle cx="241.4" cy="291.6" r="6.7"/><circle cx="243.2" cy="294.3" r="6.7"/><circle cx="244.1" cy="300.5" r="6.7"/><circle cx="240.0" cy="309.5" r="6.7"/></g><g fill="rgba(207,53,134,0.16)"><circle cx="211.4" cy="146.1" r="6.7"/><circle cx="215.0" cy="162.1" r="6.7"/><circle cx="213.8" cy="170.2" r="6.7"/><circle cx="212.0" cy="185.4" r="6.7"/><circle cx="212.5" cy="188.9" r="6.7"/><circle cx="213.4" cy="203.6" r="6.7"/><circle cx="212.0" cy="213.0" r="6.7"/><circle cx="210.2" cy="228.2" r="6.7"/><circle cx="288.8" cy="206.8" r="6.7"/><circle cx="291.4" cy="209.5" r="6.7"/><circle cx="293.2" cy="237.1" r="6.7"/><circle cx="289.6" cy="240.7" r="6.7"/></g>
<path d="M137.20,138.00 V318.00 H316.50 M137.20,143.50 h-9.00 M137.20,182.80 h-9.00 M137.20,222.20 h-9.00 M137.20,261.80 h-9.00 M137.20,301.30 h-9.00 M187.30,318.00 v9.00 M267.30,318.00 v9.00" fill="none" stroke="#000" stroke-width="2.4" stroke-linecap="butt" stroke-linejoin="miter"/>
<text x="119.80" y="152.60" font-size="24.8" text-anchor="end" class="t">2.5</text>
<text x="119.80" y="191.90" font-size="24.8" text-anchor="end" class="t">2.0</text>
<text x="119.80" y="231.30" font-size="24.8" text-anchor="end" class="t">1.5</text>
<text x="119.80" y="270.90" font-size="24.8" text-anchor="end" class="t">1.0</text>
<text x="119.80" y="310.40" font-size="24.8" text-anchor="end" class="t">0.5</text>
<path d="M180.20,203.20 V128.30 H195.70 V145.70" fill="none" stroke="#000" stroke-width="1.8" stroke-linejoin="miter"/>
<path d="M260.50,248.20 V128.30 H276.40 V190.70" fill="none" stroke="#000" stroke-width="1.8" stroke-linejoin="miter"/>
<path d="M194.50,105.70 V98.90 H277.00 V105.70" fill="none" stroke="#000" stroke-width="1.8" stroke-linejoin="miter"/>
<path d="M176.70,115.90 L176.70,111.00 M176.70,115.90 L181.36,114.39 M176.70,115.90 L172.04,114.39 M176.70,115.90 L179.87,120.27 M176.70,115.90 L173.53,120.27 " stroke="#000" stroke-width="2" fill="none" stroke-linecap="butt"/>
<path d="M189.60,115.90 L189.60,111.00 M189.60,115.90 L194.26,114.39 M189.60,115.90 L184.94,114.39 M189.60,115.90 L192.77,120.27 M189.60,115.90 L186.43,120.27 " stroke="#000" stroke-width="2" fill="none" stroke-linecap="butt"/>
<path d="M202.50,115.90 L202.50,111.00 M202.50,115.90 L207.16,114.39 M202.50,115.90 L197.84,114.39 M202.50,115.90 L205.67,120.27 M202.50,115.90 L199.33,120.27 " stroke="#000" stroke-width="2" fill="none" stroke-linecap="butt"/>
<path d="M250.65,115.90 L250.65,111.00 M250.65,115.90 L255.31,114.39 M250.65,115.90 L245.99,114.39 M250.65,115.90 L253.82,120.27 M250.65,115.90 L247.48,120.27 " stroke="#000" stroke-width="2" fill="none" stroke-linecap="butt"/>
<path d="M263.55,115.90 L263.55,111.00 M263.55,115.90 L268.21,114.39 M263.55,115.90 L258.89,114.39 M263.55,115.90 L266.72,120.27 M263.55,115.90 L260.38,120.27 " stroke="#000" stroke-width="2" fill="none" stroke-linecap="butt"/>
<path d="M276.45,115.90 L276.45,111.00 M276.45,115.90 L281.11,114.39 M276.45,115.90 L271.79,114.39 M276.45,115.90 L279.62,120.27 M276.45,115.90 L273.28,120.27 " stroke="#000" stroke-width="2" fill="none" stroke-linecap="butt"/>
<path d="M289.35,115.90 L289.35,111.00 M289.35,115.90 L294.01,114.39 M289.35,115.90 L284.69,114.39 M289.35,115.90 L292.52,120.27 M289.35,115.90 L286.18,120.27 " stroke="#000" stroke-width="2" fill="none" stroke-linecap="butt"/>
<path d="M229.95,87.50 L229.95,82.60 M229.95,87.50 L234.61,85.99 M229.95,87.50 L225.29,85.99 M229.95,87.50 L233.12,91.87 M229.95,87.50 L226.78,91.87 " stroke="#000" stroke-width="2" fill="none" stroke-linecap="butt"/>
<path d="M242.85,87.50 L242.85,82.60 M242.85,87.50 L247.51,85.99 M242.85,87.50 L238.19,85.99 M242.85,87.50 L246.02,91.87 M242.85,87.50 L239.68,91.87 " stroke="#000" stroke-width="2" fill="none" stroke-linecap="butt"/>
<path d="M179.50,238.00 V282.70 M173.70,238.00 h11.60 M173.70,282.70 h11.60" stroke="#000" stroke-width="2.2" fill="none"/>
<circle cx="179.50" cy="262.10" r="8.8" fill="#000"/>
<path d="M195.50,173.40 V202.90 M189.70,173.40 h11.60 M189.70,202.90 h11.60" stroke="#CF3586" stroke-width="2.2" fill="none"/>
<circle cx="195.50" cy="189.30" r="8.8" fill="#CF3586"/>
<path d="M259.80,280.40 V298.20 M254.00,280.40 h11.60 M254.00,298.20 h11.60" stroke="#000" stroke-width="2.2" fill="none"/>
<circle cx="259.80" cy="289.30" r="8.8" fill="#000"/>
<path d="M275.90,218.40 V240.20 M270.10,218.40 h11.60 M270.10,240.20 h11.60" stroke="#CF3586" stroke-width="2.2" fill="none"/>
<circle cx="275.90" cy="229.10" r="8.8" fill="#CF3586"/>
<g fill="rgba(0,0,0,0.148)"><circle cx="446.0" cy="190.0" r="6.7"/><circle cx="447.4" cy="225.0" r="6.7"/><circle cx="446.0" cy="235.0" r="6.7"/><circle cx="448.0" cy="265.0" r="6.7"/><circle cx="442.6" cy="295.4" r="6.7"/><circle cx="447.0" cy="306.0" r="6.7"/><circle cx="445.0" cy="309.4" r="6.7"/><circle cx="530.0" cy="146.0" r="6.7"/><circle cx="527.0" cy="198.0" r="6.7"/><circle cx="526.0" cy="200.0" r="6.7"/><circle cx="523.0" cy="225.0" r="6.7"/><circle cx="527.0" cy="222.4" r="6.7"/><circle cx="527.0" cy="237.0" r="6.7"/><circle cx="524.0" cy="247.0" r="6.7"/><circle cx="526.0" cy="252.0" r="6.7"/></g><g fill="rgba(207,53,134,0.16)"><circle cx="496.0" cy="153.6" r="6.7"/><circle cx="494.6" cy="199.4" r="6.7"/><circle cx="495.4" cy="217.6" r="6.7"/><circle cx="497.4" cy="232.4" r="6.7"/><circle cx="496.0" cy="253.0" r="6.7"/><circle cx="495.0" cy="255.0" r="6.7"/><circle cx="494.0" cy="266.0" r="6.7"/><circle cx="499.0" cy="265.6" r="6.7"/><circle cx="498.0" cy="285.6" r="6.7"/><circle cx="496.0" cy="295.0" r="6.7"/><circle cx="572.0" cy="187.4" r="6.7"/><circle cx="573.0" cy="196.4" r="6.7"/><circle cx="573.0" cy="222.0" r="6.7"/><circle cx="577.4" cy="224.0" r="6.7"/><circle cx="578.0" cy="243.6" r="6.7"/><circle cx="576.0" cy="277.0" r="6.7"/></g>
<path d="M420.60,138.00 V318.00 H600.00 M420.60,141.60 h-9.00 M420.60,181.00 h-9.00 M420.60,220.60 h-9.00 M420.60,260.00 h-9.00 M420.60,299.40 h-9.00 M471.00,318.00 v9.00 M551.00,318.00 v9.00" fill="none" stroke="#000" stroke-width="2.4" stroke-linecap="butt" stroke-linejoin="miter"/>
<text x="403.20" y="150.70" font-size="24.8" text-anchor="end" class="t">1.2</text>
<text x="403.20" y="190.10" font-size="24.8" text-anchor="end" class="t">1.0</text>
<text x="403.20" y="229.70" font-size="24.8" text-anchor="end" class="t">0.8</text>
<text x="403.20" y="269.10" font-size="24.8" text-anchor="end" class="t">0.5</text>
<text x="403.20" y="308.50" font-size="24.8" text-anchor="end" class="t">0.2</text>
<path d="M463.20,228.60 V292.40 M457.40,228.60 h11.60 M457.40,292.40 h11.60" stroke="#000" stroke-width="2.2" fill="none"/>
<circle cx="463.20" cy="261.40" r="8.8" fill="#000"/>
<path d="M479.40,218.40 V265.40 M473.60,218.40 h11.60 M473.60,265.40 h11.60" stroke="#CF3586" stroke-width="2.2" fill="none"/>
<circle cx="479.40" cy="242.00" r="8.8" fill="#CF3586"/>
<path d="M543.40,196.00 V236.60 M537.60,196.00 h11.60 M537.60,236.60 h11.60" stroke="#000" stroke-width="2.2" fill="none"/>
<circle cx="543.40" cy="218.40" r="8.8" fill="#000"/>
<path d="M559.40,203.60 V249.60 M553.60,203.60 h11.60 M553.60,249.60 h11.60" stroke="#CF3586" stroke-width="2.2" fill="none"/>
<circle cx="559.40" cy="225.40" r="8.8" fill="#CF3586"/>
<g fill="rgba(0,0,0,0.148)"><circle cx="730.6" cy="230.0" r="6.7"/><circle cx="729.0" cy="237.6" r="6.7"/><circle cx="729.6" cy="250.0" r="6.7"/><circle cx="729.6" cy="253.0" r="6.7"/><circle cx="729.6" cy="261.6" r="6.7"/><circle cx="731.6" cy="280.4" r="6.7"/><circle cx="726.6" cy="298.0" r="6.7"/><circle cx="810.0" cy="192.0" r="6.7"/><circle cx="811.0" cy="195.6" r="6.7"/><circle cx="809.6" cy="236.0" r="6.7"/><circle cx="807.0" cy="246.0" r="6.7"/><circle cx="812.0" cy="246.4" r="6.7"/><circle cx="807.0" cy="253.6" r="6.7"/><circle cx="811.0" cy="259.0" r="6.7"/><circle cx="812.0" cy="280.0" r="6.7"/><circle cx="810.4" cy="309.0" r="6.7"/></g><g fill="rgba(207,53,134,0.16)"><circle cx="780.6" cy="146.0" r="6.7"/><circle cx="779.4" cy="185.0" r="6.7"/><circle cx="779.4" cy="196.0" r="6.7"/><circle cx="778.6" cy="203.0" r="6.7"/><circle cx="780.0" cy="209.0" r="6.7"/><circle cx="781.0" cy="222.0" r="6.7"/><circle cx="779.4" cy="239.6" r="6.7"/><circle cx="778.6" cy="251.0" r="6.7"/><circle cx="782.0" cy="261.0" r="6.7"/><circle cx="777.0" cy="289.0" r="6.7"/><circle cx="857.0" cy="193.6" r="6.7"/><circle cx="856.0" cy="201.0" r="6.7"/><circle cx="861.0" cy="204.0" r="6.7"/><circle cx="859.0" cy="212.0" r="6.7"/><circle cx="856.0" cy="226.0" r="6.7"/><circle cx="861.0" cy="236.0" r="6.7"/></g>
<path d="M704.00,138.00 V318.00 H884.00 M704.00,139.00 h-9.00 M704.00,189.00 h-9.00 M704.00,239.00 h-9.00 M704.00,289.00 h-9.00 M754.60,318.00 v9.00 M835.00,318.00 v9.00" fill="none" stroke="#000" stroke-width="2.4" stroke-linecap="butt" stroke-linejoin="miter"/>
<text x="686.60" y="148.10" font-size="24.8" text-anchor="end" class="t">1.2</text>
<text x="686.60" y="198.10" font-size="24.8" text-anchor="end" class="t">0.9</text>
<text x="686.60" y="248.10" font-size="24.8" text-anchor="end" class="t">0.6</text>
<text x="686.60" y="298.10" font-size="24.8" text-anchor="end" class="t">0.3</text>
<path d="M747.00,229.00 V128.30 H762.60 V183.00" fill="none" stroke="#000" stroke-width="1.8" stroke-linejoin="miter"/>
<path d="M826.00,212.00 V128.30 H842.00 V191.00" fill="none" stroke="#000" stroke-width="1.8" stroke-linejoin="miter"/>
<path d="M756.10,116.10 L756.10,111.20 M756.10,116.10 L760.76,114.59 M756.10,116.10 L751.44,114.59 M756.10,116.10 L759.27,120.47 M756.10,116.10 L752.93,120.47 " stroke="#000" stroke-width="2" fill="none" stroke-linecap="butt"/>
<path d="M832.30,116.10 L832.30,111.20 M832.30,116.10 L836.96,114.59 M832.30,116.10 L827.64,114.59 M832.30,116.10 L835.47,120.47 M832.30,116.10 L829.13,120.47 " stroke="#000" stroke-width="2" fill="none" stroke-linecap="butt"/>
<path d="M746.60,242.40 V275.00 M740.80,242.40 h11.60 M740.80,275.00 h11.60" stroke="#000" stroke-width="2.2" fill="none"/>
<circle cx="746.60" cy="258.60" r="8.8" fill="#000"/>
<path d="M762.60,196.40 V245.40 M756.80,196.40 h11.60 M756.80,245.40 h11.60" stroke="#CF3586" stroke-width="2.2" fill="none"/>
<circle cx="762.60" cy="220.00" r="8.8" fill="#CF3586"/>
<path d="M827.00,223.00 V269.40 M821.20,223.00 h11.60 M821.20,269.40 h11.60" stroke="#000" stroke-width="2.2" fill="none"/>
<circle cx="827.00" cy="246.60" r="8.8" fill="#000"/>
<path d="M843.00,201.40 V224.00 M837.20,201.40 h11.60 M837.20,224.00 h11.60" stroke="#CF3586" stroke-width="2.2" fill="none"/>
<circle cx="843.00" cy="212.60" r="8.8" fill="#CF3586"/>
<g fill="rgba(0,0,0,0.148)"><circle cx="1015.6" cy="238.0" r="6.7"/><circle cx="1014.4" cy="246.0" r="6.7"/><circle cx="1014.0" cy="249.0" r="6.7"/><circle cx="1014.0" cy="257.0" r="6.7"/><circle cx="1012.0" cy="280.0" r="6.7"/><circle cx="1013.0" cy="283.0" r="6.7"/><circle cx="1009.6" cy="288.0" r="6.7"/><circle cx="1093.4" cy="263.4" r="6.7"/><circle cx="1097.0" cy="279.0" r="6.7"/><circle cx="1093.0" cy="285.0" r="6.7"/><circle cx="1092.0" cy="288.0" r="6.7"/><circle cx="1097.0" cy="289.0" r="6.7"/><circle cx="1091.0" cy="302.0" r="6.7"/><circle cx="1095.0" cy="303.0" r="6.7"/><circle cx="1093.0" cy="309.0" r="6.7"/></g><g fill="rgba(207,53,134,0.16)"><circle cx="1064.6" cy="146.0" r="6.7"/><circle cx="1061.0" cy="163.0" r="6.7"/><circle cx="1065.4" cy="164.4" r="6.7"/><circle cx="1061.6" cy="180.4" r="6.7"/><circle cx="1063.6" cy="194.4" r="6.7"/><circle cx="1063.0" cy="198.0" r="6.7"/><circle cx="1062.4" cy="203.0" r="6.7"/><circle cx="1066.0" cy="213.0" r="6.7"/><circle cx="1062.6" cy="230.0" r="6.7"/><circle cx="1142.6" cy="231.0" r="6.7"/><circle cx="1144.4" cy="234.0" r="6.7"/><circle cx="1140.0" cy="250.0" r="6.7"/><circle cx="1140.0" cy="252.0" r="6.7"/><circle cx="1145.0" cy="264.0" r="6.7"/></g>
<path d="M987.60,138.00 V318.00 H1168.00 M987.60,141.40 h-9.00 M987.60,190.00 h-9.00 M987.60,238.60 h-9.00 M987.60,287.00 h-9.00 M1038.00,318.00 v9.00 M1118.60,318.00 v9.00" fill="none" stroke="#000" stroke-width="2.4" stroke-linecap="butt" stroke-linejoin="miter"/>
<text x="970.20" y="150.50" font-size="24.8" text-anchor="end" class="t">1.6</text>
<text x="970.20" y="199.10" font-size="24.8" text-anchor="end" class="t">1.2</text>
<text x="970.20" y="247.70" font-size="24.8" text-anchor="end" class="t">0.8</text>
<text x="970.20" y="296.10" font-size="24.8" text-anchor="end" class="t">0.4</text>
<path d="M1031.60,232.00 V128.30 H1047.00 V153.60" fill="none" stroke="#000" stroke-width="1.8" stroke-linejoin="miter"/>
<path d="M1111.00,261.00 V128.30 H1127.00 V227.00" fill="none" stroke="#000" stroke-width="1.8" stroke-linejoin="miter"/>
<path d="M1046.00,106.00 V99.60 H1128.00 V106.00" fill="none" stroke="#000" stroke-width="1.8" stroke-linejoin="miter"/>
<path d="M1021.65,116.30 L1021.65,111.40 M1021.65,116.30 L1026.31,114.79 M1021.65,116.30 L1016.99,114.79 M1021.65,116.30 L1024.82,120.67 M1021.65,116.30 L1018.48,120.67 " stroke="#000" stroke-width="2" fill="none" stroke-linecap="butt"/>
<path d="M1034.55,116.30 L1034.55,111.40 M1034.55,116.30 L1039.21,114.79 M1034.55,116.30 L1029.89,114.79 M1034.55,116.30 L1037.72,120.67 M1034.55,116.30 L1031.38,120.67 " stroke="#000" stroke-width="2" fill="none" stroke-linecap="butt"/>
<path d="M1047.45,116.30 L1047.45,111.40 M1047.45,116.30 L1052.11,114.79 M1047.45,116.30 L1042.79,114.79 M1047.45,116.30 L1050.62,120.67 M1047.45,116.30 L1044.28,120.67 " stroke="#000" stroke-width="2" fill="none" stroke-linecap="butt"/>
<path d="M1060.35,116.30 L1060.35,111.40 M1060.35,116.30 L1065.01,114.79 M1060.35,116.30 L1055.69,114.79 M1060.35,116.30 L1063.52,120.67 M1060.35,116.30 L1057.18,120.67 " stroke="#000" stroke-width="2" fill="none" stroke-linecap="butt"/>
<path d="M1098.25,116.30 L1098.25,111.40 M1098.25,116.30 L1102.91,114.79 M1098.25,116.30 L1093.59,114.79 M1098.25,116.30 L1101.42,120.67 M1098.25,116.30 L1095.08,120.67 " stroke="#000" stroke-width="2" fill="none" stroke-linecap="butt"/>
<path d="M1111.15,116.30 L1111.15,111.40 M1111.15,116.30 L1115.81,114.79 M1111.15,116.30 L1106.49,114.79 M1111.15,116.30 L1114.32,120.67 M1111.15,116.30 L1107.98,120.67 " stroke="#000" stroke-width="2" fill="none" stroke-linecap="butt"/>
<path d="M1124.05,116.30 L1124.05,111.40 M1124.05,116.30 L1128.71,114.79 M1124.05,116.30 L1119.39,114.79 M1124.05,116.30 L1127.22,120.67 M1124.05,116.30 L1120.88,120.67 " stroke="#000" stroke-width="2" fill="none" stroke-linecap="butt"/>
<path d="M1136.95,116.30 L1136.95,111.40 M1136.95,116.30 L1141.61,114.79 M1136.95,116.30 L1132.29,114.79 M1136.95,116.30 L1140.12,120.67 M1136.95,116.30 L1133.78,120.67 " stroke="#000" stroke-width="2" fill="none" stroke-linecap="butt"/>
<path d="M1068.05,87.80 L1068.05,82.90 M1068.05,87.80 L1072.71,86.29 M1068.05,87.80 L1063.39,86.29 M1068.05,87.80 L1071.22,92.17 M1068.05,87.80 L1064.88,92.17 " stroke="#000" stroke-width="2" fill="none" stroke-linecap="butt"/>
<path d="M1080.95,87.80 L1080.95,82.90 M1080.95,87.80 L1085.61,86.29 M1080.95,87.80 L1076.29,86.29 M1080.95,87.80 L1084.12,92.17 M1080.95,87.80 L1077.78,92.17 " stroke="#000" stroke-width="2" fill="none" stroke-linecap="butt"/>
<path d="M1093.85,87.80 L1093.85,82.90 M1093.85,87.80 L1098.51,86.29 M1093.85,87.80 L1089.19,86.29 M1093.85,87.80 L1097.02,92.17 M1093.85,87.80 L1090.68,92.17 " stroke="#000" stroke-width="2" fill="none" stroke-linecap="butt"/>
<path d="M1106.75,87.80 L1106.75,82.90 M1106.75,87.80 L1111.41,86.29 M1106.75,87.80 L1102.09,86.29 M1106.75,87.80 L1109.92,92.17 M1106.75,87.80 L1103.58,92.17 " stroke="#000" stroke-width="2" fill="none" stroke-linecap="butt"/>
<path d="M1030.40,250.00 V277.00 M1024.60,250.00 h11.60 M1024.60,277.00 h11.60" stroke="#000" stroke-width="2.2" fill="none"/>
<circle cx="1030.40" cy="263.00" r="8.8" fill="#000"/>
<path d="M1046.60,173.40 V203.00 M1040.80,173.40 h11.60 M1040.80,203.00 h11.60" stroke="#CF3586" stroke-width="2.2" fill="none"/>
<circle cx="1046.60" cy="189.00" r="8.8" fill="#CF3586"/>
<path d="M1110.60,280.40 V298.00 M1104.80,280.40 h11.60 M1104.80,298.00 h11.60" stroke="#000" stroke-width="2.2" fill="none"/>
<circle cx="1110.60" cy="289.40" r="8.8" fill="#000"/>
<path d="M1126.60,238.00 V255.00 M1120.80,238.00 h11.60 M1120.80,255.00 h11.60" stroke="#CF3586" stroke-width="2.2" fill="none"/>
<circle cx="1126.60" cy="246.60" r="8.8" fill="#CF3586"/>
<g fill="rgba(0,0,0,0.148)"><circle cx="1298.4" cy="199.0" r="6.7"/><circle cx="1299.4" cy="232.0" r="6.7"/><circle cx="1296.6" cy="238.6" r="6.7"/><circle cx="1296.6" cy="263.0" r="6.7"/><circle cx="1296.0" cy="276.0" r="6.7"/><circle cx="1298.0" cy="278.0" r="6.7"/><circle cx="1294.0" cy="296.0" r="6.7"/><circle cx="1377.6" cy="188.0" r="6.7"/><circle cx="1374.4" cy="205.4" r="6.7"/><circle cx="1380.6" cy="218.0" r="6.7"/><circle cx="1378.6" cy="242.0" r="6.7"/><circle cx="1377.0" cy="253.0" r="6.7"/><circle cx="1378.0" cy="260.0" r="6.7"/><circle cx="1377.5" cy="261.5" r="6.7"/><circle cx="1374.0" cy="263.6" r="6.7"/><circle cx="1378.6" cy="309.0" r="6.7"/></g><g fill="rgba(207,53,134,0.16)"><circle cx="1346.6" cy="146.0" r="6.7"/><circle cx="1348.0" cy="186.0" r="6.7"/><circle cx="1349.6" cy="195.0" r="6.7"/><circle cx="1346.6" cy="213.0" r="6.7"/><circle cx="1349.0" cy="219.0" r="6.7"/><circle cx="1346.6" cy="238.0" r="6.7"/><circle cx="1346.0" cy="244.0" r="6.7"/><circle cx="1344.0" cy="251.0" r="6.7"/><circle cx="1347.0" cy="270.0" r="6.7"/><circle cx="1424.0" cy="182.4" r="6.7"/><circle cx="1423.0" cy="223.0" r="6.7"/><circle cx="1423.6" cy="251.0" r="6.7"/><circle cx="1426.0" cy="255.0" r="6.7"/><circle cx="1428.6" cy="305.0" r="6.7"/><circle cx="1427.6" cy="308.4" r="6.7"/></g>
<path d="M1271.40,138.00 V318.00 H1451.00 M1271.40,138.40 h-9.00 M1271.40,180.60 h-9.00 M1271.40,223.60 h-9.00 M1271.40,266.00 h-9.00 M1271.40,309.00 h-9.00 M1322.00,318.00 v9.00 M1401.60,318.00 v9.00" fill="none" stroke="#000" stroke-width="2.4" stroke-linecap="butt" stroke-linejoin="miter"/>
<text x="1254.00" y="147.50" font-size="24.8" text-anchor="end" class="t">1.2</text>
<text x="1254.00" y="189.70" font-size="24.8" text-anchor="end" class="t">1.0</text>
<text x="1254.00" y="232.70" font-size="24.8" text-anchor="end" class="t">0.8</text>
<text x="1254.00" y="275.10" font-size="24.8" text-anchor="end" class="t">0.5</text>
<text x="1254.00" y="318.10" font-size="24.8" text-anchor="end" class="t">0.2</text>
<path d="M1314.00,229.60 V275.60 M1308.20,229.60 h11.60 M1308.20,275.60 h11.60" stroke="#000" stroke-width="2.2" fill="none"/>
<circle cx="1314.00" cy="254.60" r="8.8" fill="#000"/>
<path d="M1330.00,197.60 V243.00 M1324.20,197.60 h11.60 M1324.20,243.00 h11.60" stroke="#CF3586" stroke-width="2.2" fill="none"/>
<circle cx="1330.00" cy="221.00" r="8.8" fill="#CF3586"/>
<path d="M1394.40,224.40 V267.60 M1388.60,224.40 h11.60 M1388.60,267.60 h11.60" stroke="#000" stroke-width="2.2" fill="none"/>
<circle cx="1394.40" cy="245.00" r="8.8" fill="#000"/>
<path d="M1410.60,217.60 V289.40 M1404.80,217.60 h11.60 M1404.80,289.40 h11.60" stroke="#CF3586" stroke-width="2.2" fill="none"/>
<circle cx="1410.60" cy="254.60" r="8.8" fill="#CF3586"/>
<g fill="rgba(0,0,0,0.148)"><circle cx="1581.4" cy="172.0" r="6.7"/><circle cx="1582.0" cy="182.6" r="6.7"/><circle cx="1580.0" cy="189.0" r="6.7"/><circle cx="1580.0" cy="259.0" r="6.7"/><circle cx="1582.6" cy="260.0" r="6.7"/><circle cx="1577.4" cy="281.0" r="6.7"/><circle cx="1579.4" cy="299.0" r="6.7"/><circle cx="1660.6" cy="249.0" r="6.7"/><circle cx="1661.0" cy="257.0" r="6.7"/><circle cx="1660.0" cy="265.0" r="6.7"/><circle cx="1658.0" cy="268.0" r="6.7"/><circle cx="1663.0" cy="270.0" r="6.7"/><circle cx="1657.0" cy="275.0" r="6.7"/><circle cx="1662.0" cy="279.0" r="6.7"/><circle cx="1662.0" cy="295.0" r="6.7"/></g><g fill="rgba(207,53,134,0.16)"><circle cx="1630.0" cy="146.0" r="6.7"/><circle cx="1631.4" cy="170.6" r="6.7"/><circle cx="1632.4" cy="218.4" r="6.7"/><circle cx="1630.0" cy="223.0" r="6.7"/><circle cx="1629.6" cy="228.0" r="6.7"/><circle cx="1630.6" cy="232.0" r="6.7"/><circle cx="1630.0" cy="242.4" r="6.7"/><circle cx="1630.0" cy="253.6" r="6.7"/><circle cx="1627.6" cy="259.6" r="6.7"/><circle cx="1633.4" cy="309.4" r="6.7"/><circle cx="1711.4" cy="220.4" r="6.7"/><circle cx="1707.4" cy="233.0" r="6.7"/><circle cx="1710.0" cy="249.4" r="6.7"/><circle cx="1708.0" cy="261.0" r="6.7"/><circle cx="1711.6" cy="283.6" r="6.7"/><circle cx="1706.6" cy="308.0" r="6.7"/></g>
<path d="M1554.60,138.00 V318.00 H1734.40 M1554.60,194.40 h-9.00 M1554.60,263.00 h-9.00 M1605.40,318.00 v9.00 M1686.00,318.00 v9.00" fill="none" stroke="#000" stroke-width="2.4" stroke-linecap="butt" stroke-linejoin="miter"/>
<text x="1537.20" y="203.50" font-size="24.8" text-anchor="end" class="t">1.0</text>
<text x="1537.20" y="272.10" font-size="24.8" text-anchor="end" class="t">0.5</text>
<path d="M1597.00,197.00 V270.40 M1591.20,197.00 h11.60 M1591.20,270.40 h11.60" stroke="#000" stroke-width="2.2" fill="none"/>
<circle cx="1597.00" cy="235.00" r="8.8" fill="#000"/>
<path d="M1613.40,202.00 V256.40 M1607.60,202.00 h11.60 M1607.60,256.40 h11.60" stroke="#CF3586" stroke-width="2.2" fill="none"/>
<circle cx="1613.40" cy="228.60" r="8.8" fill="#CF3586"/>
<path d="M1678.00,261.40 V278.60 M1672.20,261.40 h11.60 M1672.20,278.60 h11.60" stroke="#000" stroke-width="2.2" fill="none"/>
<circle cx="1678.00" cy="270.00" r="8.8" fill="#000"/>
<path d="M1694.00,237.00 V282.40 M1688.20,237.00 h11.60 M1688.20,282.40 h11.60" stroke="#CF3586" stroke-width="2.2" fill="none"/>
<circle cx="1694.00" cy="259.40" r="8.8" fill="#CF3586"/>
<g fill="rgba(0,0,0,0.148)"><circle cx="1865.0" cy="146.0" r="6.7"/><circle cx="1864.4" cy="157.0" r="6.7"/><circle cx="1865.4" cy="200.0" r="6.7"/><circle cx="1866.0" cy="273.0" r="6.7"/><circle cx="1861.0" cy="276.0" r="6.7"/><circle cx="1862.4" cy="291.0" r="6.7"/><circle cx="1864.4" cy="300.0" r="6.7"/><circle cx="1942.0" cy="229.4" r="6.7"/><circle cx="1946.0" cy="253.0" r="6.7"/><circle cx="1947.4" cy="263.0" r="6.7"/><circle cx="1943.0" cy="289.0" r="6.7"/><circle cx="1946.0" cy="288.0" r="6.7"/><circle cx="1945.0" cy="292.0" r="6.7"/><circle cx="1944.5" cy="290.5" r="6.7"/><circle cx="1944.4" cy="309.0" r="6.7"/></g><g fill="rgba(207,53,134,0.16)"><circle cx="1917.0" cy="169.4" r="6.7"/><circle cx="1914.4" cy="228.4" r="6.7"/><circle cx="1916.0" cy="240.0" r="6.7"/><circle cx="1912.0" cy="270.0" r="6.7"/><circle cx="1915.0" cy="275.4" r="6.7"/><circle cx="1913.6" cy="293.0" r="6.7"/><circle cx="1913.6" cy="296.0" r="6.7"/><circle cx="1993.4" cy="247.6" r="6.7"/><circle cx="1991.0" cy="270.6" r="6.7"/><circle cx="1992.0" cy="279.0" r="6.7"/><circle cx="1995.4" cy="281.6" r="6.7"/><circle cx="1991.0" cy="291.4" r="6.7"/></g>
<path d="M1838.40,138.00 V318.00 H2020.00 M1838.40,150.60 h-9.00 M1838.40,184.40 h-9.00 M1838.40,218.00 h-9.00 M1838.40,251.60 h-9.00 M1838.40,285.40 h-9.00 M1889.00,318.00 v9.00 M1969.40,318.00 v9.00" fill="none" stroke="#000" stroke-width="2.4" stroke-linecap="butt" stroke-linejoin="miter"/>
<text x="1821.00" y="159.70" font-size="24.8" text-anchor="end" class="t">2.5</text>
<text x="1821.00" y="193.50" font-size="24.8" text-anchor="end" class="t">2.0</text>
<text x="1821.00" y="227.10" font-size="24.8" text-anchor="end" class="t">1.5</text>
<text x="1821.00" y="260.70" font-size="24.8" text-anchor="end" class="t">1.0</text>
<text x="1821.00" y="294.50" font-size="24.8" text-anchor="end" class="t">0.5</text>
<path d="M1881.00,189.40 V278.00 M1875.20,189.40 h11.60 M1875.20,278.00 h11.60" stroke="#000" stroke-width="2.2" fill="none"/>
<circle cx="1881.00" cy="234.60" r="8.8" fill="#000"/>
<path d="M1897.40,239.40 V286.00 M1891.60,239.40 h11.60 M1891.60,286.00 h11.60" stroke="#CF3586" stroke-width="2.2" fill="none"/>
<circle cx="1897.40" cy="263.00" r="8.8" fill="#CF3586"/>
<path d="M1961.40,263.00 V293.60 M1955.60,263.00 h11.60 M1955.60,293.60 h11.60" stroke="#000" stroke-width="2.2" fill="none"/>
<circle cx="1961.40" cy="279.40" r="8.8" fill="#000"/>
<path d="M1977.40,263.00 V285.40 M1971.60,263.00 h11.60 M1971.60,285.40 h11.60" stroke="#CF3586" stroke-width="2.2" fill="none"/>
<circle cx="1977.40" cy="275.40" r="8.8" fill="#CF3586"/>
<g fill="rgba(0,0,0,0.148)"><circle cx="163.4" cy="433.0" r="6.7"/><circle cx="166.4" cy="448.6" r="6.7"/><circle cx="164.0" cy="476.4" r="6.7"/><circle cx="166.0" cy="486.0" r="6.7"/><circle cx="161.0" cy="516.0" r="6.7"/><circle cx="161.4" cy="529.0" r="6.7"/><circle cx="162.0" cy="547.6" r="6.7"/><circle cx="245.6" cy="448.6" r="6.7"/><circle cx="238.6" cy="482.0" r="6.7"/><circle cx="241.0" cy="502.0" r="6.7"/><circle cx="239.0" cy="505.0" r="6.7"/><circle cx="243.0" cy="510.0" r="6.7"/><circle cx="240.0" cy="512.0" r="6.7"/><circle cx="244.0" cy="537.6" r="6.7"/><circle cx="243.0" cy="565.6" r="6.7"/></g><g fill="rgba(207,53,134,0.16)"><circle cx="212.0" cy="402.0" r="6.7"/><circle cx="215.0" cy="444.0" r="6.7"/><circle cx="208.0" cy="471.0" r="6.7"/><circle cx="208.0" cy="482.0" r="6.7"/><circle cx="210.0" cy="490.0" r="6.7"/><circle cx="209.0" cy="494.0" r="6.7"/><circle cx="212.0" cy="498.0" r="6.7"/><circle cx="208.0" cy="504.0" r="6.7"/><circle cx="210.0" cy="517.0" r="6.7"/><circle cx="291.0" cy="451.0" r="6.7"/><circle cx="289.4" cy="492.0" r="6.7"/><circle cx="293.0" cy="502.0" r="6.7"/><circle cx="289.0" cy="504.0" r="6.7"/><circle cx="291.0" cy="510.0" r="6.7"/><circle cx="289.4" cy="548.6" r="6.7"/></g>
<path d="M137.00,393.60 V574.00 H316.60 M137.00,407.00 h-9.00 M137.00,453.00 h-9.00 M137.00,499.00 h-9.00 M137.00,544.60 h-9.00 M187.20,574.00 v9.00 M266.20,574.00 v9.00" fill="none" stroke="#000" stroke-width="2.4" stroke-linecap="butt" stroke-linejoin="miter"/>
<text x="119.60" y="416.10" font-size="24.8" text-anchor="end" class="t">2.5</text>
<text x="119.60" y="462.10" font-size="24.8" text-anchor="end" class="t">2.0</text>
<text x="119.60" y="508.10" font-size="24.8" text-anchor="end" class="t">1.5</text>
<text x="119.60" y="553.70" font-size="24.8" text-anchor="end" class="t">1.0</text>
<text x="186.00" y="613.90" font-size="34.5" text-anchor="middle" >F</text>
<text x="266.65" y="613.90" font-size="34.5" text-anchor="middle" >M</text>
<path d="M180.00,461.40 V519.60 M174.20,461.40 h11.60 M174.20,519.60 h11.60" stroke="#000" stroke-width="2.2" fill="none"/>
<circle cx="180.00" cy="491.00" r="8.8" fill="#000"/>
<path d="M195.40,459.00 V498.00 M189.60,459.00 h11.60 M189.60,498.00 h11.60" stroke="#CF3586" stroke-width="2.2" fill="none"/>
<circle cx="195.40" cy="479.60" r="8.8" fill="#CF3586"/>
<path d="M258.60,488.60 V528.60 M252.80,488.60 h11.60 M252.80,528.60 h11.60" stroke="#000" stroke-width="2.2" fill="none"/>
<circle cx="258.60" cy="508.00" r="8.8" fill="#000"/>
<path d="M274.60,476.40 V522.00 M268.80,476.40 h11.60 M268.80,522.00 h11.60" stroke="#CF3586" stroke-width="2.2" fill="none"/>
<circle cx="274.60" cy="501.40" r="8.8" fill="#CF3586"/>
<g fill="rgba(0,0,0,0.148)"><circle cx="444.6" cy="484.0" r="6.7"/><circle cx="450.0" cy="492.6" r="6.7"/><circle cx="447.0" cy="499.0" r="6.7"/><circle cx="449.0" cy="538.0" r="6.7"/><circle cx="447.0" cy="539.6" r="6.7"/><circle cx="445.0" cy="547.0" r="6.7"/><circle cx="445.4" cy="565.6" r="6.7"/><circle cx="523.4" cy="422.4" r="6.7"/><circle cx="526.0" cy="437.0" r="6.7"/><circle cx="522.0" cy="488.4" r="6.7"/><circle cx="524.0" cy="502.0" r="6.7"/><circle cx="526.6" cy="507.0" r="6.7"/><circle cx="523.0" cy="522.0" r="6.7"/><circle cx="529.0" cy="524.0" r="6.7"/><circle cx="526.0" cy="521.0" r="6.7"/><circle cx="528.0" cy="544.0" r="6.7"/></g><g fill="rgba(207,53,134,0.16)"><circle cx="493.4" cy="468.0" r="6.7"/><circle cx="498.6" cy="477.6" r="6.7"/><circle cx="491.6" cy="482.0" r="6.7"/><circle cx="495.4" cy="500.0" r="6.7"/><circle cx="492.6" cy="513.0" r="6.7"/><circle cx="493.0" cy="519.0" r="6.7"/><circle cx="495.0" cy="530.6" r="6.7"/><circle cx="491.0" cy="539.0" r="6.7"/><circle cx="492.0" cy="548.0" r="6.7"/><circle cx="493.0" cy="559.6" r="6.7"/><circle cx="573.6" cy="402.0" r="6.7"/><circle cx="574.0" cy="505.4" r="6.7"/><circle cx="573.0" cy="517.6" r="6.7"/><circle cx="575.0" cy="523.0" r="6.7"/><circle cx="576.6" cy="535.0" r="6.7"/></g>
<path d="M420.40,393.60 V574.00 H600.00 M420.40,426.00 h-9.00 M420.40,478.00 h-9.00 M420.40,530.00 h-9.00 M470.80,574.00 v9.00 M549.60,574.00 v9.00" fill="none" stroke="#000" stroke-width="2.4" stroke-linecap="butt" stroke-linejoin="miter"/>
<text x="403.00" y="435.10" font-size="24.8" text-anchor="end" class="t">1.5</text>
<text x="403.00" y="487.10" font-size="24.8" text-anchor="end" class="t">1.0</text>
<text x="403.00" y="539.10" font-size="24.8" text-anchor="end" class="t">0.5</text>
<text x="472.10" y="613.90" font-size="34.5" text-anchor="middle" >F</text>
<text x="551.55" y="613.90" font-size="34.5" text-anchor="middle" >M</text>
<path d="M463.40,502.00 V543.60 M457.60,502.00 h11.60 M457.60,543.60 h11.60" stroke="#000" stroke-width="2.2" fill="none"/>
<circle cx="463.40" cy="523.60" r="8.8" fill="#000"/>
<path d="M479.00,495.60 V531.60 M473.20,495.60 h11.60 M473.20,531.60 h11.60" stroke="#CF3586" stroke-width="2.2" fill="none"/>
<circle cx="479.00" cy="514.00" r="8.8" fill="#CF3586"/>
<path d="M542.40,469.60 V520.40 M536.60,469.60 h11.60 M536.60,520.40 h11.60" stroke="#000" stroke-width="2.2" fill="none"/>
<circle cx="542.40" cy="496.00" r="8.8" fill="#000"/>
<path d="M558.00,459.00 V527.00 M552.20,459.00 h11.60 M552.20,527.00 h11.60" stroke="#CF3586" stroke-width="2.2" fill="none"/>
<circle cx="558.00" cy="500.40" r="8.8" fill="#CF3586"/>
<g fill="rgba(0,0,0,0.148)"><circle cx="733.4" cy="454.6" r="6.7"/><circle cx="728.4" cy="510.0" r="6.7"/><circle cx="730.0" cy="519.6" r="6.7"/><circle cx="728.0" cy="521.6" r="6.7"/><circle cx="729.0" cy="541.0" r="6.7"/><circle cx="733.6" cy="546.0" r="6.7"/><circle cx="731.0" cy="552.0" r="6.7"/><circle cx="809.6" cy="418.6" r="6.7"/><circle cx="806.0" cy="470.6" r="6.7"/><circle cx="810.6" cy="479.0" r="6.7"/><circle cx="805.0" cy="489.0" r="6.7"/><circle cx="812.4" cy="488.0" r="6.7"/><circle cx="807.0" cy="504.0" r="6.7"/><circle cx="811.0" cy="510.0" r="6.7"/><circle cx="810.6" cy="557.0" r="6.7"/><circle cx="807.0" cy="566.0" r="6.7"/></g><g fill="rgba(207,53,134,0.16)"><circle cx="775.6" cy="439.6" r="6.7"/><circle cx="774.4" cy="444.0" r="6.7"/><circle cx="779.0" cy="456.6" r="6.7"/><circle cx="776.0" cy="475.0" r="6.7"/><circle cx="777.0" cy="478.0" r="6.7"/><circle cx="781.0" cy="502.0" r="6.7"/><circle cx="779.0" cy="503.6" r="6.7"/><circle cx="776.0" cy="517.6" r="6.7"/><circle cx="776.3" cy="517.2" r="6.7"/><circle cx="858.6" cy="401.6" r="6.7"/><circle cx="857.0" cy="445.0" r="6.7"/><circle cx="858.0" cy="450.0" r="6.7"/><circle cx="856.6" cy="490.6" r="6.7"/><circle cx="860.0" cy="491.0" r="6.7"/><circle cx="856.6" cy="523.6" r="6.7"/></g>
<path d="M704.00,393.60 V574.00 H884.00 M704.00,403.60 h-9.00 M704.00,445.00 h-9.00 M704.00,486.00 h-9.00 M704.00,527.00 h-9.00 M704.00,568.00 h-9.00 M754.30,574.00 v9.00 M833.30,574.00 v9.00" fill="none" stroke="#000" stroke-width="2.4" stroke-linecap="butt" stroke-linejoin="miter"/>
<text x="686.60" y="412.70" font-size="24.8" text-anchor="end" class="t">1.2</text>
<text x="686.60" y="454.10" font-size="24.8" text-anchor="end" class="t">1.0</text>
<text x="686.60" y="495.10" font-size="24.8" text-anchor="end" class="t">0.8</text>
<text x="686.60" y="536.10" font-size="24.8" text-anchor="end" class="t">0.5</text>
<text x="686.60" y="577.10" font-size="24.8" text-anchor="end" class="t">0.2</text>
<text x="756.50" y="613.90" font-size="34.5" text-anchor="middle" >F</text>
<text x="835.80" y="613.90" font-size="34.5" text-anchor="middle" >M</text>
<path d="M747.00,481.00 V385.00 H762.40 V447.40" fill="none" stroke="#000" stroke-width="1.8" stroke-linejoin="miter"/>
<path d="M755.60,373.30 L755.60,368.40 M755.60,373.30 L760.26,371.79 M755.60,373.30 L750.94,371.79 M755.60,373.30 L758.77,377.67 M755.60,373.30 L752.43,377.67 " stroke="#000" stroke-width="2" fill="none" stroke-linecap="butt"/>
<path d="M747.00,495.40 V541.60 M741.20,495.40 h11.60 M741.20,541.60 h11.60" stroke="#000" stroke-width="2.2" fill="none"/>
<circle cx="747.00" cy="521.00" r="8.8" fill="#000"/>
<path d="M763.00,464.00 V497.60 M757.20,464.00 h11.60 M757.20,497.60 h11.60" stroke="#CF3586" stroke-width="2.2" fill="none"/>
<circle cx="763.00" cy="481.00" r="8.8" fill="#CF3586"/>
<path d="M825.60,471.60 V525.60 M819.80,471.60 h11.60 M819.80,525.60 h11.60" stroke="#000" stroke-width="2.2" fill="none"/>
<circle cx="825.60" cy="498.40" r="8.8" fill="#000"/>
<path d="M841.60,437.00 V495.00 M835.80,437.00 h11.60 M835.80,495.00 h11.60" stroke="#CF3586" stroke-width="2.2" fill="none"/>
<circle cx="841.60" cy="467.00" r="8.8" fill="#CF3586"/>
<g fill="rgba(0,0,0,0.148)"><circle cx="1014.6" cy="402.0" r="6.7"/><circle cx="1011.4" cy="464.6" r="6.7"/><circle cx="1012.0" cy="474.0" r="6.7"/><circle cx="1014.0" cy="530.0" r="6.7"/><circle cx="1017.0" cy="537.0" r="6.7"/><circle cx="1017.0" cy="546.0" r="6.7"/><circle cx="1013.0" cy="565.6" r="6.7"/><circle cx="1091.4" cy="435.0" r="6.7"/><circle cx="1094.0" cy="461.6" r="6.7"/><circle cx="1093.0" cy="491.0" r="6.7"/><circle cx="1095.0" cy="499.0" r="6.7"/><circle cx="1090.0" cy="505.0" r="6.7"/><circle cx="1090.0" cy="518.0" r="6.7"/><circle cx="1092.0" cy="522.0" r="6.7"/><circle cx="1095.0" cy="526.0" r="6.7"/></g><g fill="rgba(207,53,134,0.16)"><circle cx="1062.6" cy="428.0" r="6.7"/><circle cx="1060.0" cy="458.0" r="6.7"/><circle cx="1066.0" cy="459.0" r="6.7"/><circle cx="1059.0" cy="494.0" r="6.7"/><circle cx="1059.4" cy="514.0" r="6.7"/><circle cx="1063.0" cy="522.0" r="6.7"/><circle cx="1059.4" cy="529.0" r="6.7"/><circle cx="1059.0" cy="552.0" r="6.7"/><circle cx="1142.0" cy="459.0" r="6.7"/><circle cx="1144.0" cy="516.0" r="6.7"/><circle cx="1140.0" cy="518.0" r="6.7"/><circle cx="1140.0" cy="532.0" r="6.7"/><circle cx="1139.6" cy="541.6" r="6.7"/></g>
<path d="M987.40,393.60 V574.00 H1167.40 M987.40,394.00 h-9.00 M987.40,448.00 h-9.00 M987.40,501.40 h-9.00 M987.40,555.00 h-9.00 M1038.00,574.00 v9.00 M1117.00,574.00 v9.00" fill="none" stroke="#000" stroke-width="2.4" stroke-linecap="butt" stroke-linejoin="miter"/>
<text x="970.00" y="403.10" font-size="24.8" text-anchor="end" class="t">1.6</text>
<text x="970.00" y="457.10" font-size="24.8" text-anchor="end" class="t">1.2</text>
<text x="970.00" y="510.50" font-size="24.8" text-anchor="end" class="t">0.8</text>
<text x="970.00" y="564.10" font-size="24.8" text-anchor="end" class="t">0.4</text>
<text x="1038.75" y="613.90" font-size="34.5" text-anchor="middle" >F</text>
<text x="1118.80" y="613.90" font-size="34.5" text-anchor="middle" >M</text>
<path d="M1030.00,460.60 V539.40 M1024.20,460.60 h11.60 M1024.20,539.40 h11.60" stroke="#000" stroke-width="2.2" fill="none"/>
<circle cx="1030.00" cy="503.00" r="8.8" fill="#000"/>
<path d="M1046.00,472.40 V523.00 M1040.20,472.40 h11.60 M1040.20,523.00 h11.60" stroke="#CF3586" stroke-width="2.2" fill="none"/>
<circle cx="1046.00" cy="499.60" r="8.8" fill="#CF3586"/>
<path d="M1109.00,477.40 V515.00 M1103.20,477.40 h11.60 M1103.20,515.00 h11.60" stroke="#000" stroke-width="2.2" fill="none"/>
<circle cx="1109.00" cy="498.00" r="8.8" fill="#000"/>
<path d="M1125.00,488.60 V531.00 M1119.20,488.60 h11.60 M1119.20,531.00 h11.60" stroke="#CF3586" stroke-width="2.2" fill="none"/>
<circle cx="1125.00" cy="514.40" r="8.8" fill="#CF3586"/>
<g fill="rgba(0,0,0,0.148)"><circle cx="1300.6" cy="402.0" r="6.7"/><circle cx="1298.4" cy="441.0" r="6.7"/><circle cx="1300.6" cy="514.0" r="6.7"/><circle cx="1297.4" cy="529.0" r="6.7"/><circle cx="1295.4" cy="534.0" r="6.7"/><circle cx="1295.0" cy="547.0" r="6.7"/><circle cx="1296.6" cy="551.0" r="6.7"/><circle cx="1377.4" cy="462.6" r="6.7"/><circle cx="1377.4" cy="462.6" r="6.7"/><circle cx="1377.4" cy="494.4" r="6.7"/><circle cx="1373.4" cy="511.6" r="6.7"/><circle cx="1374.0" cy="538.0" r="6.7"/><circle cx="1379.4" cy="543.6" r="6.7"/><circle cx="1378.6" cy="554.0" r="6.7"/><circle cx="1373.6" cy="559.0" r="6.7"/><circle cx="1374.0" cy="560.0" r="6.7"/></g><g fill="rgba(207,53,134,0.16)"><circle cx="1346.4" cy="467.0" r="6.7"/><circle cx="1343.6" cy="498.0" r="6.7"/><circle cx="1344.4" cy="516.0" r="6.7"/><circle cx="1343.0" cy="522.0" r="6.7"/><circle cx="1344.4" cy="531.0" r="6.7"/><circle cx="1349.0" cy="537.0" r="6.7"/><circle cx="1342.4" cy="544.0" r="6.7"/><circle cx="1346.0" cy="561.6" r="6.7"/><circle cx="1425.4" cy="503.6" r="6.7"/><circle cx="1426.4" cy="543.0" r="6.7"/><circle cx="1423.6" cy="549.0" r="6.7"/><circle cx="1424.0" cy="565.6" r="6.7"/></g>
<path d="M1271.00,393.60 V574.00 H1451.00 M1271.00,435.60 h-9.00 M1271.00,485.40 h-9.00 M1271.00,535.00 h-9.00 M1321.60,574.00 v9.00 M1400.70,574.00 v9.00" fill="none" stroke="#000" stroke-width="2.4" stroke-linecap="butt" stroke-linejoin="miter"/>
<text x="1253.60" y="444.70" font-size="24.8" text-anchor="end" class="t">1.5</text>
<text x="1253.60" y="494.50" font-size="24.8" text-anchor="end" class="t">1.0</text>
<text x="1253.60" y="544.10" font-size="24.8" text-anchor="end" class="t">0.5</text>
<text x="1319.85" y="613.90" font-size="34.5" text-anchor="middle" >F</text>
<text x="1399.10" y="613.90" font-size="34.5" text-anchor="middle" >M</text>
<path d="M1313.60,455.60 V539.40 M1307.80,455.60 h11.60 M1307.80,539.40 h11.60" stroke="#000" stroke-width="2.2" fill="none"/>
<circle cx="1313.60" cy="502.40" r="8.8" fill="#000"/>
<path d="M1329.60,509.00 V538.40 M1323.80,509.00 h11.60 M1323.80,538.40 h11.60" stroke="#CF3586" stroke-width="2.2" fill="none"/>
<circle cx="1329.60" cy="524.60" r="8.8" fill="#CF3586"/>
<path d="M1392.60,496.40 V542.40 M1386.80,496.40 h11.60 M1386.80,542.40 h11.60" stroke="#000" stroke-width="2.2" fill="none"/>
<circle cx="1392.60" cy="520.60" r="8.8" fill="#000"/>
<path d="M1408.60,525.40 V554.60 M1402.80,525.40 h11.60 M1402.80,554.60 h11.60" stroke="#CF3586" stroke-width="2.2" fill="none"/>
<circle cx="1408.60" cy="542.00" r="8.8" fill="#CF3586"/>
<g fill="rgba(0,0,0,0.148)"><circle cx="1582.0" cy="402.0" r="6.7"/><circle cx="1579.4" cy="442.6" r="6.7"/><circle cx="1584.4" cy="494.0" r="6.7"/><circle cx="1581.4" cy="539.0" r="6.7"/><circle cx="1579.0" cy="563.6" r="6.7"/><circle cx="1582.0" cy="565.0" r="6.7"/><circle cx="1584.0" cy="566.0" r="6.7"/><circle cx="1663.4" cy="469.4" r="6.7"/><circle cx="1661.0" cy="503.0" r="6.7"/><circle cx="1658.6" cy="518.0" r="6.7"/><circle cx="1656.0" cy="525.6" r="6.7"/><circle cx="1659.0" cy="537.0" r="6.7"/><circle cx="1658.0" cy="542.0" r="6.7"/><circle cx="1662.0" cy="545.0" r="6.7"/><circle cx="1657.0" cy="554.4" r="6.7"/><circle cx="1661.0" cy="555.0" r="6.7"/></g><g fill="rgba(207,53,134,0.16)"><circle cx="1628.0" cy="511.0" r="6.7"/><circle cx="1632.4" cy="510.6" r="6.7"/><circle cx="1626.0" cy="535.0" r="6.7"/><circle cx="1630.0" cy="546.0" r="6.7"/><circle cx="1626.0" cy="550.0" r="6.7"/><circle cx="1627.4" cy="555.0" r="6.7"/><circle cx="1627.0" cy="565.0" r="6.7"/><circle cx="1709.4" cy="477.6" r="6.7"/><circle cx="1707.4" cy="529.0" r="6.7"/><circle cx="1708.0" cy="532.0" r="6.7"/><circle cx="1707.0" cy="550.0" r="6.7"/><circle cx="1711.0" cy="552.6" r="6.7"/><circle cx="1708.6" cy="565.6" r="6.7"/></g>
<path d="M1554.60,393.60 V574.00 H1735.00 M1554.60,402.60 h-9.00 M1554.60,447.00 h-9.00 M1554.60,490.60 h-9.00 M1554.60,534.00 h-9.00 M1605.40,574.00 v9.00 M1684.30,574.00 v9.00" fill="none" stroke="#000" stroke-width="2.4" stroke-linecap="butt" stroke-linejoin="miter"/>
<text x="1537.20" y="411.70" font-size="24.8" text-anchor="end" class="t">2.0</text>
<text x="1537.20" y="456.10" font-size="24.8" text-anchor="end" class="t">1.5</text>
<text x="1537.20" y="499.70" font-size="24.8" text-anchor="end" class="t">1.0</text>
<text x="1537.20" y="543.10" font-size="24.8" text-anchor="end" class="t">0.5</text>
<text x="1602.80" y="613.90" font-size="34.5" text-anchor="middle" >F</text>
<text x="1686.15" y="613.90" font-size="34.5" text-anchor="middle" >M</text>
<path d="M1597.60,462.40 V550.40 M1591.80,462.40 h11.60 M1591.80,550.40 h11.60" stroke="#000" stroke-width="2.2" fill="none"/>
<circle cx="1597.60" cy="510.00" r="8.8" fill="#000"/>
<path d="M1613.00,525.40 V548.00 M1607.20,525.40 h11.60 M1607.20,548.00 h11.60" stroke="#CF3586" stroke-width="2.2" fill="none"/>
<circle cx="1613.00" cy="537.00" r="8.8" fill="#CF3586"/>
<path d="M1676.40,508.60 V542.60 M1670.60,508.60 h11.60 M1670.60,542.60 h11.60" stroke="#000" stroke-width="2.2" fill="none"/>
<circle cx="1676.40" cy="527.00" r="8.8" fill="#000"/>
<path d="M1692.00,511.00 V554.00 M1686.20,511.00 h11.60 M1686.20,554.00 h11.60" stroke="#CF3586" stroke-width="2.2" fill="none"/>
<circle cx="1692.00" cy="534.60" r="8.8" fill="#CF3586"/>
<g fill="rgba(0,0,0,0.148)"><circle cx="1864.4" cy="536.0" r="6.7"/><circle cx="1862.4" cy="543.0" r="6.7"/><circle cx="1866.0" cy="552.0" r="6.7"/><circle cx="1865.0" cy="560.0" r="6.7"/><circle cx="1864.0" cy="562.0" r="6.7"/><circle cx="1867.0" cy="563.0" r="6.7"/><circle cx="1941.0" cy="402.0" r="6.7"/><circle cx="1943.6" cy="529.4" r="6.7"/><circle cx="1942.0" cy="557.0" r="6.7"/><circle cx="1945.0" cy="558.0" r="6.7"/><circle cx="1943.0" cy="562.0" r="6.7"/><circle cx="1941.0" cy="565.0" r="6.7"/><circle cx="1946.0" cy="565.0" r="6.7"/></g><g fill="rgba(207,53,134,0.16)"><circle cx="1909.4" cy="508.6" r="6.7"/><circle cx="1916.6" cy="528.6" r="6.7"/><circle cx="1911.0" cy="550.0" r="6.7"/><circle cx="1911.0" cy="558.0" r="6.7"/><circle cx="1913.0" cy="560.0" r="6.7"/><circle cx="1910.0" cy="562.0" r="6.7"/><circle cx="1993.0" cy="554.0" r="6.7"/><circle cx="1991.0" cy="557.0" r="6.7"/><circle cx="1994.0" cy="556.0" r="6.7"/><circle cx="1991.0" cy="564.0" r="6.7"/></g>
<path d="M1838.40,393.60 V574.00 H2020.00 M1838.40,448.00 h-9.00 M1838.40,508.60 h-9.00 M1838.40,568.40 h-9.00 M1888.60,574.00 v9.00 M1967.70,574.00 v9.00" fill="none" stroke="#000" stroke-width="2.4" stroke-linecap="butt" stroke-linejoin="miter"/>
<text x="1821.00" y="457.10" font-size="24.8" text-anchor="end" class="t">4.0</text>
<text x="1821.00" y="517.70" font-size="24.8" text-anchor="end" class="t">2.0</text>
<text x="1821.00" y="577.50" font-size="24.8" text-anchor="end" class="t">0.0</text>
<text x="1891.25" y="613.90" font-size="34.5" text-anchor="middle" >F</text>
<text x="1966.50" y="613.90" font-size="34.5" text-anchor="middle" >M</text>
<path d="M1881.00,545.00 V559.00 M1875.20,545.00 h11.60 M1875.20,559.00 h11.60" stroke="#000" stroke-width="2.2" fill="none"/>
<circle cx="1881.00" cy="552.00" r="8.8" fill="#000"/>
<path d="M1897.00,531.00 V555.00 M1891.20,531.00 h11.60 M1891.20,555.00 h11.60" stroke="#CF3586" stroke-width="2.2" fill="none"/>
<circle cx="1897.00" cy="543.40" r="8.8" fill="#CF3586"/>
<path d="M1959.60,503.00 V562.40 M1953.80,503.00 h11.60 M1953.80,562.40 h11.60" stroke="#000" stroke-width="2.2" fill="none"/>
<circle cx="1959.60" cy="540.00" r="8.8" fill="#000"/>
<path d="M1975.60,555.00 V561.00 M1969.80,555.00 h11.60 M1969.80,561.00 h11.60" stroke="#CF3586" stroke-width="2.2" fill="none"/>
<circle cx="1975.60" cy="558.00" r="8.8" fill="#CF3586"/>
<g fill="rgba(0,0,0,0.2)"><circle cx="292.0" cy="878.0" r="6.7"/><circle cx="292.0" cy="881.5" r="6.7"/><circle cx="293.0" cy="898.0" r="6.7"/><circle cx="289.5" cy="918.5" r="6.7"/><circle cx="291.0" cy="919.5" r="6.7"/><circle cx="292.0" cy="920.0" r="6.7"/><circle cx="387.0" cy="835.0" r="6.7"/><circle cx="380.5" cy="890.0" r="6.7"/><circle cx="388.8" cy="896.2" r="6.7"/><circle cx="382.5" cy="900.0" r="6.7"/><circle cx="380.0" cy="905.0" r="6.7"/><circle cx="387.0" cy="911.2" r="6.7"/><circle cx="387.0" cy="917.5" r="6.7"/><circle cx="386.2" cy="948.8" r="6.7"/><circle cx="386.0" cy="947.0" r="6.7"/></g><g fill="rgba(207,53,134,0.2)"><circle cx="350.0" cy="760.5" r="6.7"/><circle cx="350.0" cy="768.8" r="6.7"/><circle cx="343.8" cy="780.0" r="6.7"/><circle cx="350.0" cy="778.8" r="6.7"/><circle cx="343.8" cy="800.0" r="6.7"/><circle cx="347.5" cy="814.5" r="6.7"/><circle cx="343.8" cy="818.8" r="6.7"/><circle cx="350.5" cy="823.2" r="6.7"/><circle cx="348.0" cy="885.0" r="6.7"/><circle cx="345.0" cy="898.8" r="6.7"/><circle cx="440.5" cy="824.5" r="6.7"/><circle cx="442.0" cy="848.2" r="6.7"/><circle cx="436.2" cy="863.8" r="6.7"/><circle cx="434.5" cy="875.5" r="6.7"/><circle cx="435.0" cy="911.2" r="6.7"/></g>
<path d="M261.25,751.00 V960.30 H468.75 M261.25,796.75 h-9.00 M261.25,847.50 h-9.00 M261.25,898.00 h-9.00 M261.25,948.25 h-9.00 M319.40,960.30 v9.00 M411.30,960.30 v9.00" fill="none" stroke="#000" stroke-width="2.4" stroke-linecap="butt" stroke-linejoin="miter"/>
<text x="243.85" y="805.85" font-size="24.8" text-anchor="end" class="t">1.00</text>
<text x="243.85" y="856.60" font-size="24.8" text-anchor="end" class="t">0.75</text>
<text x="243.85" y="907.10" font-size="24.8" text-anchor="end" class="t">0.50</text>
<text x="243.85" y="957.35" font-size="24.8" text-anchor="end" class="t">0.25</text>
<text x="319.45" y="1007.90" font-size="34.5" text-anchor="middle" >F</text>
<text x="411.55" y="1007.90" font-size="34.5" text-anchor="middle" >M</text>
<text font-size="35.5" text-anchor="middle" textLength="111" lengthAdjust="spacing" transform="translate(183.00 860.60) rotate(-90) scale(1 1.05)">SAICAr</text>
<path d="M310.00,867.00 V738.00 H328.75 V764.50" fill="none" stroke="#000" stroke-width="1.8" stroke-linejoin="miter"/>
<path d="M402.00,858.75 V738.00 H420.75 V817.00" fill="none" stroke="#000" stroke-width="1.8" stroke-linejoin="miter"/>
<path d="M328.00,716.00 V709.50 H420.75 V716.00" fill="none" stroke="#000" stroke-width="1.8" stroke-linejoin="miter"/>
<path d="M299.40,725.80 L299.40,720.90 M299.40,725.80 L304.06,724.29 M299.40,725.80 L294.74,724.29 M299.40,725.80 L302.57,730.17 M299.40,725.80 L296.23,730.17 " stroke="#000" stroke-width="2" fill="none" stroke-linecap="butt"/>
<path d="M312.30,725.80 L312.30,720.90 M312.30,725.80 L316.96,724.29 M312.30,725.80 L307.64,724.29 M312.30,725.80 L315.47,730.17 M312.30,725.80 L309.13,730.17 " stroke="#000" stroke-width="2" fill="none" stroke-linecap="butt"/>
<path d="M325.20,725.80 L325.20,720.90 M325.20,725.80 L329.86,724.29 M325.20,725.80 L320.54,724.29 M325.20,725.80 L328.37,730.17 M325.20,725.80 L322.03,730.17 " stroke="#000" stroke-width="2" fill="none" stroke-linecap="butt"/>
<path d="M338.10,725.80 L338.10,720.90 M338.10,725.80 L342.76,724.29 M338.10,725.80 L333.44,724.29 M338.10,725.80 L341.27,730.17 M338.10,725.80 L334.93,730.17 " stroke="#000" stroke-width="2" fill="none" stroke-linecap="butt"/>
<path d="M411.25,725.80 L411.25,720.90 M411.25,725.80 L415.91,724.29 M411.25,725.80 L406.59,724.29 M411.25,725.80 L414.42,730.17 M411.25,725.80 L408.08,730.17 " stroke="#000" stroke-width="2" fill="none" stroke-linecap="butt"/>
<path d="M374.25,698.30 L374.25,693.40 M374.25,698.30 L378.91,696.79 M374.25,698.30 L369.59,696.79 M374.25,698.30 L377.42,702.67 M374.25,698.30 L371.08,702.67 " stroke="#000" stroke-width="2" fill="none" stroke-linecap="butt"/>
<path d="M310.00,892.50 V917.50 M304.20,892.50 h11.60 M304.20,917.50 h11.60" stroke="#000" stroke-width="2.2" fill="none"/>
<circle cx="310.00" cy="905.50" r="8.8" fill="#000"/>
<path d="M328.75,788.00 V842.00 M322.95,788.00 h11.60 M322.95,842.00 h11.60" stroke="#CF3586" stroke-width="2.2" fill="none"/>
<circle cx="328.75" cy="813.00" r="8.8" fill="#CF3586"/>
<path d="M402.50,884.50 V925.50 M396.70,884.50 h11.60 M396.70,925.50 h11.60" stroke="#000" stroke-width="2.2" fill="none"/>
<circle cx="402.50" cy="905.50" r="8.8" fill="#000"/>
<path d="M420.75,840.75 V885.00 M414.95,840.75 h11.60 M414.95,885.00 h11.60" stroke="#CF3586" stroke-width="2.2" fill="none"/>
<circle cx="420.75" cy="862.50" r="8.8" fill="#CF3586"/>
<g fill="rgba(0,0,0,0.2)"><circle cx="802.5" cy="931.2" r="6.7"/><circle cx="806.2" cy="935.0" r="6.7"/><circle cx="800.0" cy="933.8" r="6.7"/><circle cx="808.0" cy="940.0" r="6.7"/><circle cx="800.0" cy="948.8" r="6.7"/><circle cx="807.5" cy="951.2" r="6.7"/><circle cx="901.2" cy="911.2" r="6.7"/><circle cx="897.5" cy="916.2" r="6.7"/><circle cx="893.0" cy="921.2" r="6.7"/><circle cx="892.5" cy="932.5" r="6.7"/><circle cx="898.8" cy="932.5" r="6.7"/><circle cx="902.5" cy="940.0" r="6.7"/><circle cx="898.0" cy="947.5" r="6.7"/><circle cx="900.0" cy="950.0" r="6.7"/></g><g fill="rgba(207,53,134,0.2)"><circle cx="863.8" cy="762.0" r="6.7"/><circle cx="858.2" cy="832.5" r="6.7"/><circle cx="860.0" cy="845.0" r="6.7"/><circle cx="856.2" cy="853.8" r="6.7"/><circle cx="863.8" cy="862.5" r="6.7"/><circle cx="860.0" cy="865.0" r="6.7"/><circle cx="855.0" cy="868.8" r="6.7"/><circle cx="861.2" cy="870.0" r="6.7"/><circle cx="948.2" cy="823.0" r="6.7"/><circle cx="953.0" cy="883.8" r="6.7"/><circle cx="955.0" cy="893.2" r="6.7"/><circle cx="954.5" cy="901.2" r="6.7"/><circle cx="946.8" cy="905.8" r="6.7"/><circle cx="950.0" cy="930.0" r="6.7"/></g>
<path d="M774.25,752.50 V960.50 H982.50 M774.25,755.75 h-9.00 M774.25,810.50 h-9.00 M774.25,865.75 h-9.00 M774.25,920.75 h-9.00 M832.30,960.50 v9.00 M924.30,960.50 v9.00" fill="none" stroke="#000" stroke-width="2.4" stroke-linecap="butt" stroke-linejoin="miter"/>
<text x="756.85" y="764.85" font-size="24.8" text-anchor="end" class="t">2.0</text>
<text x="756.85" y="819.60" font-size="24.8" text-anchor="end" class="t">1.5</text>
<text x="756.85" y="874.85" font-size="24.8" text-anchor="end" class="t">1.0</text>
<text x="756.85" y="929.85" font-size="24.8" text-anchor="end" class="t">0.5</text>
<text x="833.30" y="1007.90" font-size="34.5" text-anchor="middle" >F</text>
<text x="925.40" y="1007.90" font-size="34.5" text-anchor="middle" >M</text>
<text font-size="35.5" text-anchor="middle" textLength="111" lengthAdjust="spacing" transform="translate(706.00 860.60) rotate(-90) scale(1 1.05)">SAICAr</text>
<path d="M821.25,907.50 V738.00 H839.50 V800.50" fill="none" stroke="#000" stroke-width="1.8" stroke-linejoin="miter"/>
<path d="M913.25,899.50 V738.00 H931.75 V833.75" fill="none" stroke="#000" stroke-width="1.8" stroke-linejoin="miter"/>
<path d="M839.50,716.00 V709.50 H931.75 V716.00" fill="none" stroke="#000" stroke-width="1.8" stroke-linejoin="miter"/>
<path d="M811.15,725.80 L811.15,720.90 M811.15,725.80 L815.81,724.29 M811.15,725.80 L806.49,724.29 M811.15,725.80 L814.32,730.17 M811.15,725.80 L807.98,730.17 " stroke="#000" stroke-width="2" fill="none" stroke-linecap="butt"/>
<path d="M824.05,725.80 L824.05,720.90 M824.05,725.80 L828.71,724.29 M824.05,725.80 L819.39,724.29 M824.05,725.80 L827.22,730.17 M824.05,725.80 L820.88,730.17 " stroke="#000" stroke-width="2" fill="none" stroke-linecap="butt"/>
<path d="M836.95,725.80 L836.95,720.90 M836.95,725.80 L841.61,724.29 M836.95,725.80 L832.29,724.29 M836.95,725.80 L840.12,730.17 M836.95,725.80 L833.78,730.17 " stroke="#000" stroke-width="2" fill="none" stroke-linecap="butt"/>
<path d="M849.85,725.80 L849.85,720.90 M849.85,725.80 L854.51,724.29 M849.85,725.80 L845.19,724.29 M849.85,725.80 L853.02,730.17 M849.85,725.80 L846.68,730.17 " stroke="#000" stroke-width="2" fill="none" stroke-linecap="butt"/>
<path d="M903.15,725.80 L903.15,720.90 M903.15,725.80 L907.81,724.29 M903.15,725.80 L898.49,724.29 M903.15,725.80 L906.32,730.17 M903.15,725.80 L899.98,730.17 " stroke="#000" stroke-width="2" fill="none" stroke-linecap="butt"/>
<path d="M916.05,725.80 L916.05,720.90 M916.05,725.80 L920.71,724.29 M916.05,725.80 L911.39,724.29 M916.05,725.80 L919.22,730.17 M916.05,725.80 L912.88,730.17 " stroke="#000" stroke-width="2" fill="none" stroke-linecap="butt"/>
<path d="M928.95,725.80 L928.95,720.90 M928.95,725.80 L933.61,724.29 M928.95,725.80 L924.29,724.29 M928.95,725.80 L932.12,730.17 M928.95,725.80 L925.78,730.17 " stroke="#000" stroke-width="2" fill="none" stroke-linecap="butt"/>
<path d="M941.85,725.80 L941.85,720.90 M941.85,725.80 L946.51,724.29 M941.85,725.80 L937.19,724.29 M941.85,725.80 L945.02,730.17 M941.85,725.80 L938.68,730.17 " stroke="#000" stroke-width="2" fill="none" stroke-linecap="butt"/>
<path d="M885.50,698.30 L885.50,693.40 M885.50,698.30 L890.16,696.79 M885.50,698.30 L880.84,696.79 M885.50,698.30 L888.67,702.67 M885.50,698.30 L882.33,702.67 " stroke="#000" stroke-width="2" fill="none" stroke-linecap="butt"/>
<path d="M823.00,936.00 V941.50 M817.20,936.00 h11.60 M817.20,941.50 h11.60" stroke="#000" stroke-width="2.2" fill="none"/>
<circle cx="823.00" cy="938.75" r="8.8" fill="#000"/>
<path d="M842.00,825.50 V863.25 M836.20,825.50 h11.60 M836.20,863.25 h11.60" stroke="#CF3586" stroke-width="2.2" fill="none"/>
<circle cx="842.00" cy="848.00" r="8.8" fill="#CF3586"/>
<path d="M915.00,922.50 V940.50 M909.20,922.50 h11.60 M909.20,940.50 h11.60" stroke="#000" stroke-width="2.2" fill="none"/>
<circle cx="915.00" cy="931.25" r="8.8" fill="#000"/>
<path d="M933.75,860.00 V912.00 M927.95,860.00 h11.60 M927.95,912.00 h11.60" stroke="#CF3586" stroke-width="2.2" fill="none"/>
<circle cx="933.75" cy="889.50" r="8.8" fill="#CF3586"/>
<g fill="rgba(0,0,0,0.2)"><circle cx="1330.8" cy="860.5" r="6.7"/><circle cx="1330.0" cy="920.0" r="6.7"/><circle cx="1325.0" cy="928.8" r="6.7"/><circle cx="1327.5" cy="932.5" r="6.7"/><circle cx="1328.0" cy="944.5" r="6.7"/><circle cx="1327.0" cy="946.0" r="6.7"/><circle cx="1425.0" cy="910.5" r="6.7"/><circle cx="1418.0" cy="921.2" r="6.7"/><circle cx="1422.0" cy="927.5" r="6.7"/><circle cx="1423.8" cy="939.5" r="6.7"/><circle cx="1422.0" cy="945.0" r="6.7"/><circle cx="1422.5" cy="950.0" r="6.7"/><circle cx="1420.0" cy="952.5" r="6.7"/><circle cx="1423.8" cy="953.8" r="6.7"/></g><g fill="rgba(207,53,134,0.2)"><circle cx="1388.2" cy="763.0" r="6.7"/><circle cx="1385.0" cy="780.0" r="6.7"/><circle cx="1379.5" cy="788.8" r="6.7"/><circle cx="1382.5" cy="797.5" r="6.7"/><circle cx="1387.0" cy="803.8" r="6.7"/><circle cx="1382.0" cy="806.2" r="6.7"/><circle cx="1387.5" cy="812.5" r="6.7"/><circle cx="1381.8" cy="842.5" r="6.7"/><circle cx="1386.2" cy="873.8" r="6.7"/><circle cx="1472.5" cy="777.0" r="6.7"/><circle cx="1478.8" cy="828.0" r="6.7"/><circle cx="1472.5" cy="832.0" r="6.7"/><circle cx="1479.5" cy="848.8" r="6.7"/><circle cx="1477.5" cy="858.8" r="6.7"/><circle cx="1474.2" cy="878.8" r="6.7"/></g>
<path d="M1298.25,752.50 V960.50 H1506.00 M1298.25,775.00 h-9.00 M1298.25,829.25 h-9.00 M1298.25,883.25 h-9.00 M1298.25,937.50 h-9.00 M1357.10,960.50 v9.00 M1449.00,960.50 v9.00" fill="none" stroke="#000" stroke-width="2.4" stroke-linecap="butt" stroke-linejoin="miter"/>
<text x="1280.85" y="784.10" font-size="24.8" text-anchor="end" class="t">1.00</text>
<text x="1280.85" y="838.35" font-size="24.8" text-anchor="end" class="t">0.75</text>
<text x="1280.85" y="892.35" font-size="24.8" text-anchor="end" class="t">0.50</text>
<text x="1280.85" y="946.60" font-size="24.8" text-anchor="end" class="t">0.25</text>
<text x="1355.70" y="1007.90" font-size="34.5" text-anchor="middle" >F</text>
<text x="1447.50" y="1007.90" font-size="34.5" text-anchor="middle" >M</text>
<text font-size="35.5" text-anchor="middle" textLength="111" lengthAdjust="spacing" transform="translate(1218.00 860.60) rotate(-90) scale(1 1.05)">SAICAr</text>
<path d="M1347.50,875.50 V738.00 H1366.25 V760.00" fill="none" stroke="#000" stroke-width="1.8" stroke-linejoin="miter"/>
<path d="M1440.00,903.75 V738.00 H1458.25 V788.25" fill="none" stroke="#000" stroke-width="1.8" stroke-linejoin="miter"/>
<path d="M1337.65,725.80 L1337.65,720.90 M1337.65,725.80 L1342.31,724.29 M1337.65,725.80 L1332.99,724.29 M1337.65,725.80 L1340.82,730.17 M1337.65,725.80 L1334.48,730.17 " stroke="#000" stroke-width="2" fill="none" stroke-linecap="butt"/>
<path d="M1350.55,725.80 L1350.55,720.90 M1350.55,725.80 L1355.21,724.29 M1350.55,725.80 L1345.89,724.29 M1350.55,725.80 L1353.72,730.17 M1350.55,725.80 L1347.38,730.17 " stroke="#000" stroke-width="2" fill="none" stroke-linecap="butt"/>
<path d="M1363.45,725.80 L1363.45,720.90 M1363.45,725.80 L1368.11,724.29 M1363.45,725.80 L1358.79,724.29 M1363.45,725.80 L1366.62,730.17 M1363.45,725.80 L1360.28,730.17 " stroke="#000" stroke-width="2" fill="none" stroke-linecap="butt"/>
<path d="M1376.35,725.80 L1376.35,720.90 M1376.35,725.80 L1381.01,724.29 M1376.35,725.80 L1371.69,724.29 M1376.35,725.80 L1379.52,730.17 M1376.35,725.80 L1373.18,730.17 " stroke="#000" stroke-width="2" fill="none" stroke-linecap="butt"/>
<path d="M1429.90,725.80 L1429.90,720.90 M1429.90,725.80 L1434.56,724.29 M1429.90,725.80 L1425.24,724.29 M1429.90,725.80 L1433.07,730.17 M1429.90,725.80 L1426.73,730.17 " stroke="#000" stroke-width="2" fill="none" stroke-linecap="butt"/>
<path d="M1442.80,725.80 L1442.80,720.90 M1442.80,725.80 L1447.46,724.29 M1442.80,725.80 L1438.14,724.29 M1442.80,725.80 L1445.97,730.17 M1442.80,725.80 L1439.63,730.17 " stroke="#000" stroke-width="2" fill="none" stroke-linecap="butt"/>
<path d="M1455.70,725.80 L1455.70,720.90 M1455.70,725.80 L1460.36,724.29 M1455.70,725.80 L1451.04,724.29 M1455.70,725.80 L1458.87,730.17 M1455.70,725.80 L1452.53,730.17 " stroke="#000" stroke-width="2" fill="none" stroke-linecap="butt"/>
<path d="M1468.60,725.80 L1468.60,720.90 M1468.60,725.80 L1473.26,724.29 M1468.60,725.80 L1463.94,724.29 M1468.60,725.80 L1471.77,730.17 M1468.60,725.80 L1465.43,730.17 " stroke="#000" stroke-width="2" fill="none" stroke-linecap="butt"/>
<path d="M1347.50,900.75 V938.25 M1341.70,900.75 h11.60 M1341.70,938.25 h11.60" stroke="#000" stroke-width="2.2" fill="none"/>
<circle cx="1347.50" cy="922.50" r="8.8" fill="#000"/>
<path d="M1366.25,785.00 V825.50 M1360.45,785.00 h11.60 M1360.45,825.50 h11.60" stroke="#CF3586" stroke-width="2.2" fill="none"/>
<circle cx="1366.25" cy="803.75" r="8.8" fill="#CF3586"/>
<path d="M1440.00,927.50 V945.50 M1434.20,927.50 h11.60 M1434.20,945.50 h11.60" stroke="#000" stroke-width="2.2" fill="none"/>
<circle cx="1440.00" cy="937.00" r="8.8" fill="#000"/>
<path d="M1458.25,810.00 V861.25 M1452.45,810.00 h11.60 M1452.45,861.25 h11.60" stroke="#CF3586" stroke-width="2.2" fill="none"/>
<circle cx="1458.25" cy="837.50" r="8.8" fill="#CF3586"/>
<g fill="rgba(0,0,0,0.2)"><circle cx="1841.8" cy="927.5" r="6.7"/><circle cx="1838.0" cy="931.2" r="6.7"/><circle cx="1840.5" cy="932.5" r="6.7"/><circle cx="1843.0" cy="930.0" r="6.7"/><circle cx="1839.2" cy="933.8" r="6.7"/><circle cx="1936.0" cy="911.8" r="6.7"/><circle cx="1935.0" cy="926.2" r="6.7"/><circle cx="1930.5" cy="933.8" r="6.7"/><circle cx="1935.5" cy="936.2" r="6.7"/><circle cx="1933.0" cy="941.2" r="6.7"/><circle cx="1935.5" cy="945.0" r="6.7"/><circle cx="1929.2" cy="948.8" r="6.7"/><circle cx="1935.0" cy="952.5" r="6.7"/></g><g fill="rgba(207,53,134,0.2)"><circle cx="1899.2" cy="762.0" r="6.7"/><circle cx="1896.8" cy="766.2" r="6.7"/><circle cx="1891.8" cy="780.0" r="6.7"/><circle cx="1898.5" cy="784.2" r="6.7"/><circle cx="1895.0" cy="800.5" r="6.7"/><circle cx="1898.0" cy="830.0" r="6.7"/><circle cx="1899.2" cy="842.5" r="6.7"/><circle cx="1894.2" cy="846.2" r="6.7"/><circle cx="1892.5" cy="850.5" r="6.7"/><circle cx="1990.0" cy="838.8" r="6.7"/><circle cx="1983.8" cy="857.5" r="6.7"/><circle cx="1985.5" cy="862.5" r="6.7"/><circle cx="1991.2" cy="864.5" r="6.7"/><circle cx="1989.2" cy="925.0" r="6.7"/></g>
<path d="M1810.00,752.50 V960.50 H2020.00 M1810.00,760.00 h-9.00 M1810.00,813.75 h-9.00 M1810.00,867.00 h-9.00 M1810.00,920.00 h-9.00 M1868.25,960.50 v9.00 M1960.40,960.50 v9.00" fill="none" stroke="#000" stroke-width="2.4" stroke-linecap="butt" stroke-linejoin="miter"/>
<text x="1792.60" y="769.10" font-size="24.8" text-anchor="end" class="t">1.6</text>
<text x="1792.60" y="822.85" font-size="24.8" text-anchor="end" class="t">1.2</text>
<text x="1792.60" y="876.10" font-size="24.8" text-anchor="end" class="t">0.8</text>
<text x="1792.60" y="929.10" font-size="24.8" text-anchor="end" class="t">0.4</text>
<text x="1869.20" y="1007.90" font-size="34.5" text-anchor="middle" >F</text>
<text x="1961.20" y="1007.90" font-size="34.5" text-anchor="middle" >M</text>
<text font-size="35.5" text-anchor="middle" textLength="111" lengthAdjust="spacing" transform="translate(1742.00 860.60) rotate(-90) scale(1 1.05)">SAICAr</text>
<path d="M1860.00,899.50 V738.00 H1878.00 V763.75" fill="none" stroke="#000" stroke-width="1.8" stroke-linejoin="miter"/>
<path d="M1951.75,903.75 V738.00 H1970.00 V829.25" fill="none" stroke="#000" stroke-width="1.8" stroke-linejoin="miter"/>
<path d="M1878.00,716.00 V709.50 H1970.00 V716.00" fill="none" stroke="#000" stroke-width="1.8" stroke-linejoin="miter"/>
<path d="M1849.15,725.80 L1849.15,720.90 M1849.15,725.80 L1853.81,724.29 M1849.15,725.80 L1844.49,724.29 M1849.15,725.80 L1852.32,730.17 M1849.15,725.80 L1845.98,730.17 " stroke="#000" stroke-width="2" fill="none" stroke-linecap="butt"/>
<path d="M1862.05,725.80 L1862.05,720.90 M1862.05,725.80 L1866.71,724.29 M1862.05,725.80 L1857.39,724.29 M1862.05,725.80 L1865.22,730.17 M1862.05,725.80 L1858.88,730.17 " stroke="#000" stroke-width="2" fill="none" stroke-linecap="butt"/>
<path d="M1874.95,725.80 L1874.95,720.90 M1874.95,725.80 L1879.61,724.29 M1874.95,725.80 L1870.29,724.29 M1874.95,725.80 L1878.12,730.17 M1874.95,725.80 L1871.78,730.17 " stroke="#000" stroke-width="2" fill="none" stroke-linecap="butt"/>
<path d="M1887.85,725.80 L1887.85,720.90 M1887.85,725.80 L1892.51,724.29 M1887.85,725.80 L1883.19,724.29 M1887.85,725.80 L1891.02,730.17 M1887.85,725.80 L1884.68,730.17 " stroke="#000" stroke-width="2" fill="none" stroke-linecap="butt"/>
<path d="M1941.15,725.80 L1941.15,720.90 M1941.15,725.80 L1945.81,724.29 M1941.15,725.80 L1936.49,724.29 M1941.15,725.80 L1944.32,730.17 M1941.15,725.80 L1937.98,730.17 " stroke="#000" stroke-width="2" fill="none" stroke-linecap="butt"/>
<path d="M1954.05,725.80 L1954.05,720.90 M1954.05,725.80 L1958.71,724.29 M1954.05,725.80 L1949.39,724.29 M1954.05,725.80 L1957.22,730.17 M1954.05,725.80 L1950.88,730.17 " stroke="#000" stroke-width="2" fill="none" stroke-linecap="butt"/>
<path d="M1966.95,725.80 L1966.95,720.90 M1966.95,725.80 L1971.61,724.29 M1966.95,725.80 L1962.29,724.29 M1966.95,725.80 L1970.12,730.17 M1966.95,725.80 L1963.78,730.17 " stroke="#000" stroke-width="2" fill="none" stroke-linecap="butt"/>
<path d="M1979.85,725.80 L1979.85,720.90 M1979.85,725.80 L1984.51,724.29 M1979.85,725.80 L1975.19,724.29 M1979.85,725.80 L1983.02,730.17 M1979.85,725.80 L1976.68,730.17 " stroke="#000" stroke-width="2" fill="none" stroke-linecap="butt"/>
<path d="M1917.05,698.30 L1917.05,693.40 M1917.05,698.30 L1921.71,696.79 M1917.05,698.30 L1912.39,696.79 M1917.05,698.30 L1920.22,702.67 M1917.05,698.30 L1913.88,702.67 " stroke="#000" stroke-width="2" fill="none" stroke-linecap="butt"/>
<path d="M1929.95,698.30 L1929.95,693.40 M1929.95,698.30 L1934.61,696.79 M1929.95,698.30 L1925.29,696.79 M1929.95,698.30 L1933.12,702.67 M1929.95,698.30 L1926.78,702.67 " stroke="#000" stroke-width="2" fill="none" stroke-linecap="butt"/>
<path d="M1859.25,928.00 V933.50 M1853.45,928.00 h11.60 M1853.45,933.50 h11.60" stroke="#000" stroke-width="2.2" fill="none"/>
<circle cx="1859.25" cy="930.75" r="8.8" fill="#000"/>
<path d="M1878.00,789.50 V833.75 M1872.20,789.50 h11.60 M1872.20,833.75 h11.60" stroke="#CF3586" stroke-width="2.2" fill="none"/>
<circle cx="1878.00" cy="810.75" r="8.8" fill="#CF3586"/>
<path d="M1951.25,929.00 V943.00 M1945.45,929.00 h11.60 M1945.45,943.00 h11.60" stroke="#000" stroke-width="2.2" fill="none"/>
<circle cx="1951.25" cy="935.75" r="8.8" fill="#000"/>
<path d="M1970.00,850.50 V893.00 M1964.20,850.50 h11.60 M1964.20,893.00 h11.60" stroke="#CF3586" stroke-width="2.2" fill="none"/>
<circle cx="1970.00" cy="868.75" r="8.8" fill="#CF3586"/>
<g fill="rgba(0,0,0,0.2)"><circle cx="293.8" cy="1235.5" r="6.7"/><circle cx="288.8" cy="1272.0" r="6.7"/><circle cx="292.0" cy="1276.2" r="6.7"/><circle cx="292.5" cy="1282.5" r="6.7"/><circle cx="287.5" cy="1285.5" r="6.7"/><circle cx="291.2" cy="1287.5" r="6.7"/><circle cx="290.0" cy="1295.0" r="6.7"/><circle cx="380.5" cy="1237.5" r="6.7"/><circle cx="387.0" cy="1257.0" r="6.7"/><circle cx="385.0" cy="1266.2" r="6.7"/><circle cx="382.5" cy="1276.2" r="6.7"/><circle cx="387.0" cy="1282.5" r="6.7"/><circle cx="387.0" cy="1290.0" r="6.7"/><circle cx="380.0" cy="1294.5" r="6.7"/><circle cx="385.0" cy="1293.8" r="6.7"/><circle cx="386.2" cy="1303.0" r="6.7"/></g><g fill="rgba(207,53,134,0.2)"><circle cx="344.5" cy="1113.8" r="6.7"/><circle cx="348.0" cy="1125.0" r="6.7"/><circle cx="343.8" cy="1132.5" r="6.7"/><circle cx="351.2" cy="1133.0" r="6.7"/><circle cx="346.2" cy="1141.2" r="6.7"/><circle cx="351.2" cy="1146.2" r="6.7"/><circle cx="350.0" cy="1168.8" r="6.7"/><circle cx="349.5" cy="1172.5" r="6.7"/><circle cx="345.0" cy="1195.0" r="6.7"/><circle cx="434.5" cy="1165.0" r="6.7"/><circle cx="435.0" cy="1173.0" r="6.7"/><circle cx="442.0" cy="1177.0" r="6.7"/><circle cx="436.2" cy="1207.5" r="6.7"/><circle cx="441.2" cy="1208.0" r="6.7"/><circle cx="440.0" cy="1240.5" r="6.7"/></g>
<path d="M261.25,1104.25 V1312.00 H468.75 M261.25,1111.75 h-9.00 M261.25,1161.25 h-9.00 M261.25,1211.25 h-9.00 M261.25,1261.25 h-9.00 M261.25,1311.25 h-9.00 M319.40,1312.00 v9.00 M411.30,1312.00 v9.00" fill="none" stroke="#000" stroke-width="2.4" stroke-linecap="butt" stroke-linejoin="miter"/>
<text x="243.85" y="1120.85" font-size="24.8" text-anchor="end" class="t">1.5</text>
<text x="243.85" y="1170.35" font-size="24.8" text-anchor="end" class="t">1.2</text>
<text x="243.85" y="1220.35" font-size="24.8" text-anchor="end" class="t">0.9</text>
<text x="243.85" y="1270.35" font-size="24.8" text-anchor="end" class="t">0.6</text>
<text x="243.85" y="1320.35" font-size="24.8" text-anchor="end" class="t">0.3</text>
<text x="319.45" y="1353.80" font-size="34.5" text-anchor="middle" >F</text>
<text x="411.55" y="1353.80" font-size="34.5" text-anchor="middle" >M</text>
<text font-size="35.5" text-anchor="middle" textLength="111" lengthAdjust="spacing" transform="translate(183.00 1207.90) rotate(-90) scale(1 1.05)">SAICAr</text>
<path d="M310.75,1250.00 V1092.50 H328.75 V1122.50" fill="none" stroke="#000" stroke-width="1.8" stroke-linejoin="miter"/>
<path d="M402.50,1250.00 V1092.50 H420.75 V1167.00" fill="none" stroke="#000" stroke-width="1.8" stroke-linejoin="miter"/>
<path d="M328.75,1070.00 V1063.25 H420.75 V1070.00" fill="none" stroke="#000" stroke-width="1.8" stroke-linejoin="miter"/>
<path d="M300.15,1080.30 L300.15,1075.40 M300.15,1080.30 L304.81,1078.79 M300.15,1080.30 L295.49,1078.79 M300.15,1080.30 L303.32,1084.67 M300.15,1080.30 L296.98,1084.67 " stroke="#000" stroke-width="2" fill="none" stroke-linecap="butt"/>
<path d="M313.05,1080.30 L313.05,1075.40 M313.05,1080.30 L317.71,1078.79 M313.05,1080.30 L308.39,1078.79 M313.05,1080.30 L316.22,1084.67 M313.05,1080.30 L309.88,1084.67 " stroke="#000" stroke-width="2" fill="none" stroke-linecap="butt"/>
<path d="M325.95,1080.30 L325.95,1075.40 M325.95,1080.30 L330.61,1078.79 M325.95,1080.30 L321.29,1078.79 M325.95,1080.30 L329.12,1084.67 M325.95,1080.30 L322.78,1084.67 " stroke="#000" stroke-width="2" fill="none" stroke-linecap="butt"/>
<path d="M338.85,1080.30 L338.85,1075.40 M338.85,1080.30 L343.51,1078.79 M338.85,1080.30 L334.19,1078.79 M338.85,1080.30 L342.02,1084.67 M338.85,1080.30 L335.68,1084.67 " stroke="#000" stroke-width="2" fill="none" stroke-linecap="butt"/>
<path d="M391.90,1080.30 L391.90,1075.40 M391.90,1080.30 L396.56,1078.79 M391.90,1080.30 L387.24,1078.79 M391.90,1080.30 L395.07,1084.67 M391.90,1080.30 L388.73,1084.67 " stroke="#000" stroke-width="2" fill="none" stroke-linecap="butt"/>
<path d="M404.80,1080.30 L404.80,1075.40 M404.80,1080.30 L409.46,1078.79 M404.80,1080.30 L400.14,1078.79 M404.80,1080.30 L407.97,1084.67 M404.80,1080.30 L401.63,1084.67 " stroke="#000" stroke-width="2" fill="none" stroke-linecap="butt"/>
<path d="M417.70,1080.30 L417.70,1075.40 M417.70,1080.30 L422.36,1078.79 M417.70,1080.30 L413.04,1078.79 M417.70,1080.30 L420.87,1084.67 M417.70,1080.30 L414.53,1084.67 " stroke="#000" stroke-width="2" fill="none" stroke-linecap="butt"/>
<path d="M430.60,1080.30 L430.60,1075.40 M430.60,1080.30 L435.26,1078.79 M430.60,1080.30 L425.94,1078.79 M430.60,1080.30 L433.77,1084.67 M430.60,1080.30 L427.43,1084.67 " stroke="#000" stroke-width="2" fill="none" stroke-linecap="butt"/>
<path d="M368.05,1052.80 L368.05,1047.90 M368.05,1052.80 L372.71,1051.29 M368.05,1052.80 L363.39,1051.29 M368.05,1052.80 L371.22,1057.17 M368.05,1052.80 L364.88,1057.17 " stroke="#000" stroke-width="2" fill="none" stroke-linecap="butt"/>
<path d="M380.95,1052.80 L380.95,1047.90 M380.95,1052.80 L385.61,1051.29 M380.95,1052.80 L376.29,1051.29 M380.95,1052.80 L384.12,1057.17 M380.95,1052.80 L377.78,1057.17 " stroke="#000" stroke-width="2" fill="none" stroke-linecap="butt"/>
<path d="M310.00,1263.75 V1287.50 M304.20,1263.75 h11.60 M304.20,1287.50 h11.60" stroke="#000" stroke-width="2.2" fill="none"/>
<circle cx="310.00" cy="1276.75" r="8.8" fill="#000"/>
<path d="M328.75,1133.75 V1164.25 M322.95,1133.75 h11.60 M322.95,1164.25 h11.60" stroke="#CF3586" stroke-width="2.2" fill="none"/>
<circle cx="328.75" cy="1147.50" r="8.8" fill="#CF3586"/>
<path d="M402.50,1265.00 V1290.00 M396.70,1265.00 h11.60 M396.70,1290.00 h11.60" stroke="#000" stroke-width="2.2" fill="none"/>
<circle cx="402.50" cy="1277.50" r="8.8" fill="#000"/>
<path d="M420.75,1176.25 V1217.00 M414.95,1176.25 h11.60 M414.95,1217.00 h11.60" stroke="#CF3586" stroke-width="2.2" fill="none"/>
<circle cx="420.75" cy="1195.00" r="8.8" fill="#CF3586"/>
<g fill="rgba(0,0,0,0.2)"><circle cx="807.0" cy="1240.8" r="6.7"/><circle cx="801.8" cy="1259.5" r="6.7"/><circle cx="802.5" cy="1270.5" r="6.7"/><circle cx="801.2" cy="1286.2" r="6.7"/><circle cx="804.5" cy="1291.2" r="6.7"/><circle cx="805.5" cy="1295.0" r="6.7"/><circle cx="806.2" cy="1299.5" r="6.7"/><circle cx="893.8" cy="1233.8" r="6.7"/><circle cx="900.5" cy="1259.5" r="6.7"/><circle cx="893.8" cy="1272.5" r="6.7"/><circle cx="899.2" cy="1273.8" r="6.7"/><circle cx="897.5" cy="1280.0" r="6.7"/><circle cx="898.0" cy="1286.2" r="6.7"/><circle cx="900.0" cy="1292.5" r="6.7"/><circle cx="899.2" cy="1295.5" r="6.7"/></g><g fill="rgba(207,53,134,0.2)"><circle cx="861.2" cy="1123.8" r="6.7"/><circle cx="859.2" cy="1137.5" r="6.7"/><circle cx="861.2" cy="1148.0" r="6.7"/><circle cx="863.0" cy="1166.2" r="6.7"/><circle cx="856.2" cy="1181.2" r="6.7"/><circle cx="858.8" cy="1190.0" r="6.7"/><circle cx="863.2" cy="1197.0" r="6.7"/><circle cx="862.5" cy="1207.0" r="6.7"/><circle cx="863.8" cy="1234.5" r="6.7"/><circle cx="857.0" cy="1256.2" r="6.7"/><circle cx="947.5" cy="1109.5" r="6.7"/><circle cx="947.5" cy="1198.2" r="6.7"/><circle cx="952.0" cy="1210.5" r="6.7"/><circle cx="955.5" cy="1213.0" r="6.7"/><circle cx="953.0" cy="1272.5" r="6.7"/></g>
<path d="M774.25,1100.00 V1307.90 H982.50 M774.25,1120.00 h-9.00 M774.25,1184.25 h-9.00 M774.25,1248.00 h-9.00 M832.40,1307.90 v9.00 M924.30,1307.90 v9.00" fill="none" stroke="#000" stroke-width="2.4" stroke-linecap="butt" stroke-linejoin="miter"/>
<text x="756.85" y="1129.10" font-size="24.8" text-anchor="end" class="t">0.8</text>
<text x="756.85" y="1193.35" font-size="24.8" text-anchor="end" class="t">0.6</text>
<text x="756.85" y="1257.10" font-size="24.8" text-anchor="end" class="t">0.4</text>
<text x="832.40" y="1353.80" font-size="34.5" text-anchor="middle" >F</text>
<text x="924.70" y="1353.80" font-size="34.5" text-anchor="middle" >M</text>
<text font-size="35.5" text-anchor="middle" textLength="111" lengthAdjust="spacing" transform="translate(706.00 1207.90) rotate(-90) scale(1 1.05)">SAICAr</text>
<path d="M823.75,1250.50 V1086.25 H841.75 V1147.50" fill="none" stroke="#000" stroke-width="1.8" stroke-linejoin="miter"/>
<path d="M915.50,1250.50 V1086.25 H933.75 V1147.50" fill="none" stroke="#000" stroke-width="1.8" stroke-linejoin="miter"/>
<path d="M813.15,1073.30 L813.15,1068.40 M813.15,1073.30 L817.81,1071.79 M813.15,1073.30 L808.49,1071.79 M813.15,1073.30 L816.32,1077.67 M813.15,1073.30 L809.98,1077.67 " stroke="#000" stroke-width="2" fill="none" stroke-linecap="butt"/>
<path d="M826.05,1073.30 L826.05,1068.40 M826.05,1073.30 L830.71,1071.79 M826.05,1073.30 L821.39,1071.79 M826.05,1073.30 L829.22,1077.67 M826.05,1073.30 L822.88,1077.67 " stroke="#000" stroke-width="2" fill="none" stroke-linecap="butt"/>
<path d="M838.95,1073.30 L838.95,1068.40 M838.95,1073.30 L843.61,1071.79 M838.95,1073.30 L834.29,1071.79 M838.95,1073.30 L842.12,1077.67 M838.95,1073.30 L835.78,1077.67 " stroke="#000" stroke-width="2" fill="none" stroke-linecap="butt"/>
<path d="M851.85,1073.30 L851.85,1068.40 M851.85,1073.30 L856.51,1071.79 M851.85,1073.30 L847.19,1071.79 M851.85,1073.30 L855.02,1077.67 M851.85,1073.30 L848.68,1077.67 " stroke="#000" stroke-width="2" fill="none" stroke-linecap="butt"/>
<path d="M904.90,1073.30 L904.90,1068.40 M904.90,1073.30 L909.56,1071.79 M904.90,1073.30 L900.24,1071.79 M904.90,1073.30 L908.07,1077.67 M904.90,1073.30 L901.73,1077.67 " stroke="#000" stroke-width="2" fill="none" stroke-linecap="butt"/>
<path d="M917.80,1073.30 L917.80,1068.40 M917.80,1073.30 L922.46,1071.79 M917.80,1073.30 L913.14,1071.79 M917.80,1073.30 L920.97,1077.67 M917.80,1073.30 L914.63,1077.67 " stroke="#000" stroke-width="2" fill="none" stroke-linecap="butt"/>
<path d="M930.70,1073.30 L930.70,1068.40 M930.70,1073.30 L935.36,1071.79 M930.70,1073.30 L926.04,1071.79 M930.70,1073.30 L933.87,1077.67 M930.70,1073.30 L927.53,1077.67 " stroke="#000" stroke-width="2" fill="none" stroke-linecap="butt"/>
<path d="M943.60,1073.30 L943.60,1068.40 M943.60,1073.30 L948.26,1071.79 M943.60,1073.30 L938.94,1071.79 M943.60,1073.30 L946.77,1077.67 M943.60,1073.30 L940.43,1077.67 " stroke="#000" stroke-width="2" fill="none" stroke-linecap="butt"/>
<path d="M823.25,1263.00 V1290.00 M817.45,1263.00 h11.60 M817.45,1290.00 h11.60" stroke="#000" stroke-width="2.2" fill="none"/>
<circle cx="823.25" cy="1276.75" r="8.8" fill="#000"/>
<path d="M841.75,1158.25 V1207.50 M835.95,1158.25 h11.60 M835.95,1207.50 h11.60" stroke="#CF3586" stroke-width="2.2" fill="none"/>
<circle cx="841.75" cy="1183.75" r="8.8" fill="#CF3586"/>
<path d="M915.50,1262.50 V1286.25 M909.70,1262.50 h11.60 M909.70,1286.25 h11.60" stroke="#000" stroke-width="2.2" fill="none"/>
<circle cx="915.50" cy="1275.75" r="8.8" fill="#000"/>
<path d="M933.75,1158.25 V1240.00 M927.95,1158.25 h11.60 M927.95,1240.00 h11.60" stroke="#CF3586" stroke-width="2.2" fill="none"/>
<circle cx="933.75" cy="1202.50" r="8.8" fill="#CF3586"/>
<g fill="rgba(0,0,0,0.2)"><circle cx="1326.2" cy="1287.5" r="6.7"/><circle cx="1330.0" cy="1292.5" r="6.7"/><circle cx="1325.0" cy="1295.0" r="6.7"/><circle cx="1328.8" cy="1296.2" r="6.7"/><circle cx="1327.5" cy="1298.8" r="6.7"/><circle cx="1424.2" cy="1283.0" r="6.7"/><circle cx="1422.5" cy="1288.8" r="6.7"/><circle cx="1418.8" cy="1295.0" r="6.7"/><circle cx="1425.0" cy="1296.2" r="6.7"/><circle cx="1418.0" cy="1298.8" r="6.7"/><circle cx="1423.8" cy="1299.5" r="6.7"/></g><g fill="rgba(207,53,134,0.2)"><circle cx="1387.5" cy="1109.5" r="6.7"/><circle cx="1387.0" cy="1165.5" r="6.7"/><circle cx="1380.0" cy="1177.0" r="6.7"/><circle cx="1385.0" cy="1203.8" r="6.7"/><circle cx="1382.5" cy="1208.8" r="6.7"/><circle cx="1386.2" cy="1211.2" r="6.7"/><circle cx="1381.2" cy="1221.2" r="6.7"/><circle cx="1383.2" cy="1228.8" r="6.7"/><circle cx="1387.5" cy="1248.2" r="6.7"/><circle cx="1388.2" cy="1269.5" r="6.7"/><circle cx="1478.8" cy="1203.0" r="6.7"/><circle cx="1474.2" cy="1237.5" r="6.7"/><circle cx="1478.8" cy="1250.0" r="6.7"/><circle cx="1477.5" cy="1257.5" r="6.7"/><circle cx="1472.0" cy="1266.2" r="6.7"/><circle cx="1472.5" cy="1273.8" r="6.7"/></g>
<path d="M1298.25,1100.00 V1307.90 H1506.00 M1298.25,1115.75 h-9.00 M1298.25,1165.50 h-9.00 M1298.25,1215.00 h-9.00 M1298.25,1264.50 h-9.00 M1357.10,1307.90 v9.00 M1449.00,1307.90 v9.00" fill="none" stroke="#000" stroke-width="2.4" stroke-linecap="butt" stroke-linejoin="miter"/>
<text x="1280.85" y="1124.85" font-size="24.8" text-anchor="end" class="t">2.0</text>
<text x="1280.85" y="1174.60" font-size="24.8" text-anchor="end" class="t">1.5</text>
<text x="1280.85" y="1224.10" font-size="24.8" text-anchor="end" class="t">1.0</text>
<text x="1280.85" y="1273.60" font-size="24.8" text-anchor="end" class="t">0.5</text>
<text x="1351.40" y="1353.80" font-size="34.5" text-anchor="middle" >F</text>
<text x="1443.80" y="1353.80" font-size="34.5" text-anchor="middle" >M</text>
<text font-size="35.5" text-anchor="middle" textLength="111" lengthAdjust="spacing" transform="translate(1218.00 1207.90) rotate(-90) scale(1 1.05)">SAICAr</text>
<path d="M1348.25,1273.75 V1093.00 H1366.75 V1167.00" fill="none" stroke="#000" stroke-width="1.8" stroke-linejoin="miter"/>
<path d="M1440.50,1273.75 V1093.00 H1458.75 V1216.25" fill="none" stroke="#000" stroke-width="1.8" stroke-linejoin="miter"/>
<path d="M1366.75,1070.00 V1063.25 H1458.75 V1070.00" fill="none" stroke="#000" stroke-width="1.8" stroke-linejoin="miter"/>
<path d="M1344.60,1080.30 L1344.60,1075.40 M1344.60,1080.30 L1349.26,1078.79 M1344.60,1080.30 L1339.94,1078.79 M1344.60,1080.30 L1347.77,1084.67 M1344.60,1080.30 L1341.43,1084.67 " stroke="#000" stroke-width="2" fill="none" stroke-linecap="butt"/>
<path d="M1357.50,1080.30 L1357.50,1075.40 M1357.50,1080.30 L1362.16,1078.79 M1357.50,1080.30 L1352.84,1078.79 M1357.50,1080.30 L1360.67,1084.67 M1357.50,1080.30 L1354.33,1084.67 " stroke="#000" stroke-width="2" fill="none" stroke-linecap="butt"/>
<path d="M1370.40,1080.30 L1370.40,1075.40 M1370.40,1080.30 L1375.06,1078.79 M1370.40,1080.30 L1365.74,1078.79 M1370.40,1080.30 L1373.57,1084.67 M1370.40,1080.30 L1367.23,1084.67 " stroke="#000" stroke-width="2" fill="none" stroke-linecap="butt"/>
<path d="M1442.80,1080.30 L1442.80,1075.40 M1442.80,1080.30 L1447.46,1078.79 M1442.80,1080.30 L1438.14,1078.79 M1442.80,1080.30 L1445.97,1084.67 M1442.80,1080.30 L1439.63,1084.67 " stroke="#000" stroke-width="2" fill="none" stroke-linecap="butt"/>
<path d="M1455.70,1080.30 L1455.70,1075.40 M1455.70,1080.30 L1460.36,1078.79 M1455.70,1080.30 L1451.04,1078.79 M1455.70,1080.30 L1458.87,1084.67 M1455.70,1080.30 L1452.53,1084.67 " stroke="#000" stroke-width="2" fill="none" stroke-linecap="butt"/>
<path d="M1412.50,1052.80 L1412.50,1047.90 M1412.50,1052.80 L1417.16,1051.29 M1412.50,1052.80 L1407.84,1051.29 M1412.50,1052.80 L1415.67,1057.17 M1412.50,1052.80 L1409.33,1057.17 " stroke="#000" stroke-width="2" fill="none" stroke-linecap="butt"/>
<path d="M1347.50,1291.00 V1296.50 M1341.70,1291.00 h11.60 M1341.70,1296.50 h11.60" stroke="#000" stroke-width="2.2" fill="none"/>
<circle cx="1347.50" cy="1293.75" r="8.8" fill="#000"/>
<path d="M1366.25,1177.50 V1230.00 M1360.45,1177.50 h11.60 M1360.45,1230.00 h11.60" stroke="#CF3586" stroke-width="2.2" fill="none"/>
<circle cx="1366.25" cy="1204.25" r="8.8" fill="#CF3586"/>
<path d="M1440.00,1290.00 V1295.00 M1434.20,1290.00 h11.60 M1434.20,1295.00 h11.60" stroke="#000" stroke-width="2.2" fill="none"/>
<circle cx="1440.00" cy="1292.50" r="8.8" fill="#000"/>
<path d="M1458.25,1228.75 V1264.25 M1452.45,1228.75 h11.60 M1452.45,1264.25 h11.60" stroke="#CF3586" stroke-width="2.2" fill="none"/>
<circle cx="1458.25" cy="1248.25" r="8.8" fill="#CF3586"/>
<g fill="rgba(0,0,0,0.148)"><circle cx="1838.5" cy="1175.8" r="6.7"/><circle cx="1838.5" cy="1187.0" r="6.7"/><circle cx="1838.0" cy="1225.8" r="6.7"/><circle cx="1837.5" cy="1241.2" r="6.7"/><circle cx="1838.0" cy="1268.8" r="6.7"/><circle cx="1838.8" cy="1280.5" r="6.7"/><circle cx="1928.8" cy="1153.8" r="6.7"/><circle cx="1934.2" cy="1182.5" r="6.7"/><circle cx="1929.2" cy="1216.2" r="6.7"/><circle cx="1934.2" cy="1226.2" r="6.7"/><circle cx="1933.8" cy="1242.0" r="6.7"/><circle cx="1931.2" cy="1258.2" r="6.7"/><circle cx="1928.0" cy="1270.8" r="6.7"/><circle cx="1936.8" cy="1274.5" r="6.7"/><circle cx="1930.0" cy="1298.8" r="6.7"/></g><g fill="rgba(207,53,134,0.16)"><circle cx="1895.5" cy="1109.5" r="6.7"/><circle cx="1894.2" cy="1161.2" r="6.7"/><circle cx="1899.2" cy="1183.8" r="6.7"/><circle cx="1893.0" cy="1187.0" r="6.7"/><circle cx="1900.0" cy="1200.0" r="6.7"/><circle cx="1893.0" cy="1206.2" r="6.7"/><circle cx="1895.5" cy="1230.0" r="6.7"/><circle cx="1901.2" cy="1273.8" r="6.7"/><circle cx="1986.8" cy="1152.0" r="6.7"/><circle cx="1992.2" cy="1174.5" r="6.7"/><circle cx="1991.2" cy="1198.0" r="6.7"/><circle cx="1990.5" cy="1200.0" r="6.7"/><circle cx="1988.0" cy="1217.0" r="6.7"/><circle cx="1986.8" cy="1243.2" r="6.7"/></g>
<path d="M1810.00,1100.00 V1307.90 H2020.00 M1810.00,1173.25 h-9.00 M1810.00,1248.75 h-9.00 M1869.00,1307.90 v9.00 M1960.50,1307.90 v9.00" fill="none" stroke="#000" stroke-width="2.4" stroke-linecap="butt" stroke-linejoin="miter"/>
<text x="1792.60" y="1182.35" font-size="24.8" text-anchor="end" class="t">1.5</text>
<text x="1792.60" y="1257.85" font-size="24.8" text-anchor="end" class="t">1.0</text>
<text x="1868.25" y="1353.80" font-size="34.5" text-anchor="middle" >F</text>
<text x="1960.45" y="1353.80" font-size="34.5" text-anchor="middle" >M</text>
<text font-size="35.5" text-anchor="middle" textLength="111" lengthAdjust="spacing" transform="translate(1742.00 1207.90) rotate(-90) scale(1 1.05)">SAICAr</text>
<path d="M1860.50,1199.25 V1259.25 M1854.70,1199.25 h11.60 M1854.70,1259.25 h11.60" stroke="#000" stroke-width="2.2" fill="none"/>
<circle cx="1860.50" cy="1229.50" r="8.8" fill="#000"/>
<path d="M1878.50,1169.25 V1221.25 M1872.70,1169.25 h11.60 M1872.70,1221.25 h11.60" stroke="#CF3586" stroke-width="2.2" fill="none"/>
<circle cx="1878.50" cy="1194.50" r="8.8" fill="#CF3586"/>
<path d="M1952.25,1205.75 V1262.50 M1946.45,1205.75 h11.60 M1946.45,1262.50 h11.60" stroke="#000" stroke-width="2.2" fill="none"/>
<circle cx="1952.25" cy="1235.75" r="8.8" fill="#000"/>
<path d="M1970.00,1174.50 V1220.50 M1964.20,1174.50 h11.60 M1964.20,1220.50 h11.60" stroke="#CF3586" stroke-width="2.2" fill="none"/>
<circle cx="1970.00" cy="1197.00" r="8.8" fill="#CF3586"/>
<text font-size="47" style="stroke-width:0.3px" transform="translate(2.4 41.6) scale(1 1.066)">A</text>
<text font-size="47" style="stroke-width:0.3px" transform="translate(1.9 717.2) scale(1.06 1.066)">B</text>
<text font-size="35.5" text-anchor="middle" textLength="110.5" lengthAdjust="spacing" transform="translate(60.2 225.4) rotate(-90) scale(1 1.05)">SAICAr</text>
<text x="59.80" y="484.60" font-size="35.5" text-anchor="middle" textLength="273" lengthAdjust="spacing" transform="rotate(-90 59.8 484.6)">Succinyladenosine</text>
<text x="73.80" y="800.20" font-size="33.5" text-anchor="middle" >OB</text>
<text x="579.30" y="895.00" font-size="33.5" text-anchor="middle" >FC</text>
<text x="1080.50" y="893.80" font-size="33.5" text-anchor="middle" >CC</text>
<text x="1618.60" y="894.30" font-size="33.5" text-anchor="middle" >HP</text>
<text x="55.60" y="1265.00" font-size="33.5" text-anchor="middle" >STR</text>
<text x="591.20" y="1265.00" font-size="33.5" text-anchor="middle" >TH/HY</text>
<text x="1084.80" y="1265.00" font-size="33.5" text-anchor="middle" >AMG</text>
<text x="1618.30" y="1265.00" font-size="33.5" text-anchor="middle" >CB</text>
<path d="M47,1387 H102.8" stroke="#000" stroke-width="1.6"/><circle cx="74.8" cy="1387" r="10.5" fill="#000"/>
<path d="M213,1387 H269.6" stroke="#CF3586" stroke-width="1.6"/><circle cx="241" cy="1387" r="10.5" fill="#CF3586"/>
<text x="133.20" y="1399.00" font-size="33" text-anchor="start" >WT</text>
<text x="297.40" y="1399.00" font-size="33.5" text-anchor="start" >hAdsl</text>
</svg>
</body></html>
